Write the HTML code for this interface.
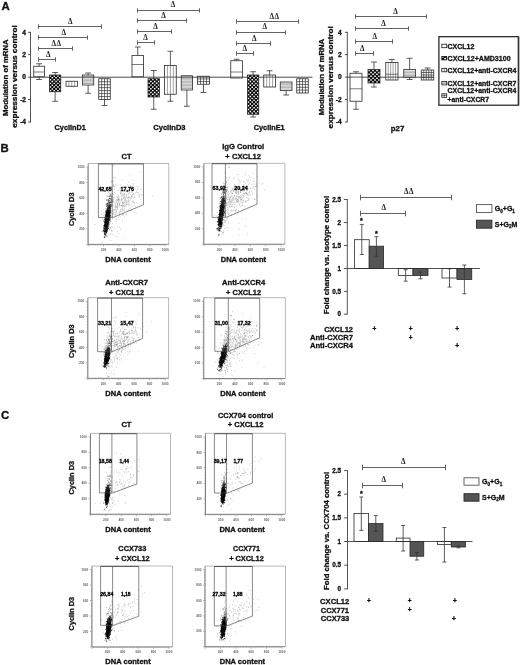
<!DOCTYPE html>
<html><head><meta charset="utf-8"><title>Figure</title>
<style>html,body{margin:0;padding:0;background:#fff}svg{display:block}</style></head>
<body>
<svg width="520" height="665" viewBox="0 0 520 665" font-family="Liberation Sans, sans-serif" font-weight="bold">
<rect width="520" height="665" fill="#fff"/>
<text x="1.60" y="9.90" font-size="11.4" text-anchor="start" fill="#111" stroke="#111" stroke-width="0.3" >A</text>
<text x="0.60" y="151.80" font-size="11.4" text-anchor="start" fill="#111" stroke="#111" stroke-width="0.3" >B</text>
<text x="1.00" y="419.00" font-size="11.4" text-anchor="start" fill="#111" stroke="#111" stroke-width="0.3" >C</text>
<path d="M30.50,31.90L30.50,122.40" stroke="#2a2a2a" stroke-width="0.8" fill="none"/>
<path d="M28.10,32.30L30.50,32.30" stroke="#2a2a2a" stroke-width="0.8" fill="none"/>
<text x="26.00" y="34.65" font-size="6.6" text-anchor="end" fill="#111" stroke="#111" stroke-width="0.3" >4</text>
<path d="M28.10,54.60L30.50,54.60" stroke="#2a2a2a" stroke-width="0.8" fill="none"/>
<text x="26.00" y="56.95" font-size="6.6" text-anchor="end" fill="#111" stroke="#111" stroke-width="0.3" >2</text>
<path d="M28.10,77.10L30.50,77.10" stroke="#2a2a2a" stroke-width="0.8" fill="none"/>
<text x="26.00" y="79.45" font-size="6.6" text-anchor="end" fill="#111" stroke="#111" stroke-width="0.3" >0</text>
<path d="M28.10,99.50L30.50,99.50" stroke="#2a2a2a" stroke-width="0.8" fill="none"/>
<text x="26.00" y="101.85" font-size="6.6" text-anchor="end" fill="#111" stroke="#111" stroke-width="0.3" >-2</text>
<path d="M28.10,122.00L30.50,122.00" stroke="#2a2a2a" stroke-width="0.8" fill="none"/>
<text x="26.00" y="124.35" font-size="6.6" text-anchor="end" fill="#111" stroke="#111" stroke-width="0.3" >-4</text>
<path d="M347.30,31.90L347.30,122.40" stroke="#2a2a2a" stroke-width="0.8" fill="none"/>
<path d="M344.90,32.30L347.30,32.30" stroke="#2a2a2a" stroke-width="0.8" fill="none"/>
<text x="341.60" y="34.65" font-size="6.6" text-anchor="end" fill="#111" stroke="#111" stroke-width="0.3" >4</text>
<path d="M344.90,54.60L347.30,54.60" stroke="#2a2a2a" stroke-width="0.8" fill="none"/>
<text x="341.60" y="56.95" font-size="6.6" text-anchor="end" fill="#111" stroke="#111" stroke-width="0.3" >2</text>
<path d="M344.90,77.10L347.30,77.10" stroke="#2a2a2a" stroke-width="0.8" fill="none"/>
<text x="341.60" y="79.45" font-size="6.6" text-anchor="end" fill="#111" stroke="#111" stroke-width="0.3" >0</text>
<path d="M344.90,99.50L347.30,99.50" stroke="#2a2a2a" stroke-width="0.8" fill="none"/>
<text x="341.60" y="101.85" font-size="6.6" text-anchor="end" fill="#111" stroke="#111" stroke-width="0.3" >-2</text>
<path d="M344.90,122.00L347.30,122.00" stroke="#2a2a2a" stroke-width="0.8" fill="none"/>
<text x="341.60" y="124.35" font-size="6.6" text-anchor="end" fill="#111" stroke="#111" stroke-width="0.3" >-4</text>
<path d="M30.50,77.20L312.50,77.20" stroke="#2a2a2a" stroke-width="0.85" fill="none"/>
<path d="M347.30,77.20L433.00,77.20" stroke="#2a2a2a" stroke-width="0.85" fill="none"/>
<text x="7.70" y="77.70" font-size="7.5" text-anchor="middle" fill="#111" textLength="76.6" lengthAdjust="spacingAndGlyphs" transform="rotate(-90 7.70 77.70)" stroke="#111" stroke-width="0.3" >Modulation of mRNA</text>
<text x="17.10" y="76.50" font-size="7.5" text-anchor="middle" fill="#111" textLength="102.5" lengthAdjust="spacingAndGlyphs" transform="rotate(-90 17.10 76.50)" stroke="#111" stroke-width="0.3" >expression versus control</text>
<text x="324.40" y="77.00" font-size="7.5" text-anchor="middle" fill="#111" textLength="76.4" lengthAdjust="spacingAndGlyphs" transform="rotate(-90 324.40 77.00)" stroke="#111" stroke-width="0.3" >Modulation of mRNA</text>
<text x="333.40" y="77.30" font-size="7.5" text-anchor="middle" fill="#111" textLength="102.2" lengthAdjust="spacingAndGlyphs" transform="rotate(-90 333.40 77.30)" stroke="#111" stroke-width="0.3" >expression versus control</text>
<path d="M39.12,66.25V63.75M36.23,63.75H42.02M39.12,76.75V79.50M36.23,79.50H42.02" stroke="#333" stroke-width="0.8" fill="none"/>
<rect x="33.75" y="66.25" width="10.75" height="10.50" fill="#fff"/>
<path d="M33.75,72.00L44.50,72.00" stroke="#444" stroke-width="0.7" fill="none"/>
<rect x="33.75" y="66.25" width="10.75" height="10.50" fill="none" stroke="#2a2a2a" stroke-width="0.8"/>
<path d="M55.12,75.00V72.50M52.23,72.50H58.02M55.12,91.75V101.25M52.23,101.25H58.02" stroke="#333" stroke-width="0.8" fill="none"/>
<rect x="49.50" y="75.00" width="11.25" height="16.75" fill="#0a0a0a"/>
<path d="M49.71,75.20h1.46v1.45h-1.46zM53.46,75.20h1.46v1.45h-1.46zM57.21,75.20h1.46v1.45h-1.46zM51.58,77.07h1.46v1.45h-1.46zM55.33,77.07h1.46v1.45h-1.46zM59.08,77.07h1.46v1.45h-1.46zM49.71,78.93h1.46v1.45h-1.46zM53.46,78.93h1.46v1.45h-1.46zM57.21,78.93h1.46v1.45h-1.46zM51.58,80.79h1.46v1.45h-1.46zM55.33,80.79h1.46v1.45h-1.46zM59.08,80.79h1.46v1.45h-1.46zM49.71,82.65h1.46v1.45h-1.46zM53.46,82.65h1.46v1.45h-1.46zM57.21,82.65h1.46v1.45h-1.46zM51.58,84.51h1.46v1.45h-1.46zM55.33,84.51h1.46v1.45h-1.46zM59.08,84.51h1.46v1.45h-1.46zM49.71,86.37h1.46v1.45h-1.46zM53.46,86.37h1.46v1.45h-1.46zM57.21,86.37h1.46v1.45h-1.46zM51.58,88.23h1.46v1.45h-1.46zM55.33,88.23h1.46v1.45h-1.46zM59.08,88.23h1.46v1.45h-1.46zM49.71,90.09h1.46v1.45h-1.46zM53.46,90.09h1.46v1.45h-1.46zM57.21,90.09h1.46v1.45h-1.46z" fill="#fff"/>
<rect x="49.50" y="75.00" width="11.25" height="16.75" fill="none" stroke="#2a2a2a" stroke-width="0.8"/>
<rect x="66.00" y="81.25" width="11.50" height="5.00" fill="#fff"/>
<path d="M68.88,81.25V86.25M71.75,81.25V86.25M74.62,81.25V86.25" stroke="#666" stroke-width="0.6" fill="none"/>
<rect x="66.00" y="81.25" width="11.50" height="5.00" fill="none" stroke="#2a2a2a" stroke-width="0.8"/>
<path d="M88.12,75.00V73.00M85.22,73.00H91.03M88.12,85.00V93.25M85.22,93.25H91.03" stroke="#333" stroke-width="0.8" fill="none"/>
<rect x="82.50" y="75.00" width="11.25" height="10.00" fill="#fff"/>
<path d="M82.50,83.55H93.75M82.50,82.10H93.75M82.50,80.65H93.75M82.50,79.20H93.75M82.50,77.75H93.75M82.50,76.30H93.75" stroke="#777" stroke-width="0.6" fill="none"/>
<path d="M82.50,77.10L93.75,77.10" stroke="#333" stroke-width="0.8" fill="none"/>
<rect x="82.50" y="75.00" width="11.25" height="10.00" fill="none" stroke="#2a2a2a" stroke-width="0.8"/>
<path d="M104.50,99.50V105.50M101.60,105.50H107.40" stroke="#333" stroke-width="0.8" fill="none"/>
<rect x="98.75" y="78.75" width="11.50" height="20.75" fill="#fff"/>
<path d="M101.62,78.75V99.50M104.50,78.75V99.50M107.38,78.75V99.50M98.75,81.71H110.25M98.75,84.68H110.25M98.75,87.64H110.25M98.75,90.61H110.25M98.75,93.57H110.25M98.75,96.54H110.25" stroke="#333" stroke-width="0.7" fill="none"/>
<rect x="98.75" y="78.75" width="11.50" height="20.75" fill="none" stroke="#2a2a2a" stroke-width="0.8"/>
<path d="M137.75,55.50V47.00M134.85,47.00H140.65" stroke="#333" stroke-width="0.8" fill="none"/>
<rect x="132.00" y="55.50" width="11.50" height="21.25" fill="#fff"/>
<path d="M132.00,64.50L143.50,64.50" stroke="#444" stroke-width="0.7" fill="none"/>
<rect x="132.00" y="55.50" width="11.50" height="21.25" fill="none" stroke="#2a2a2a" stroke-width="0.8"/>
<path d="M153.75,78.75V70.50M150.85,70.50H156.65M153.75,97.00V109.25M150.85,109.25H156.65" stroke="#333" stroke-width="0.8" fill="none"/>
<rect x="148.00" y="78.75" width="11.50" height="18.25" fill="#0a0a0a"/>
<path d="M148.21,78.95h1.50v1.42h-1.50zM152.04,78.95h1.50v1.42h-1.50zM155.88,78.95h1.50v1.42h-1.50zM150.13,80.78h1.50v1.42h-1.50zM153.96,80.78h1.50v1.42h-1.50zM157.79,80.78h1.50v1.42h-1.50zM148.21,82.60h1.50v1.42h-1.50zM152.04,82.60h1.50v1.42h-1.50zM155.88,82.60h1.50v1.42h-1.50zM150.13,84.43h1.50v1.42h-1.50zM153.96,84.43h1.50v1.42h-1.50zM157.79,84.43h1.50v1.42h-1.50zM148.21,86.25h1.50v1.42h-1.50zM152.04,86.25h1.50v1.42h-1.50zM155.88,86.25h1.50v1.42h-1.50zM150.13,88.08h1.50v1.42h-1.50zM153.96,88.08h1.50v1.42h-1.50zM157.79,88.08h1.50v1.42h-1.50zM148.21,89.90h1.50v1.42h-1.50zM152.04,89.90h1.50v1.42h-1.50zM155.88,89.90h1.50v1.42h-1.50zM150.13,91.73h1.50v1.42h-1.50zM153.96,91.73h1.50v1.42h-1.50zM157.79,91.73h1.50v1.42h-1.50zM148.21,93.55h1.50v1.42h-1.50zM152.04,93.55h1.50v1.42h-1.50zM155.88,93.55h1.50v1.42h-1.50zM150.13,95.38h1.50v1.42h-1.50zM153.96,95.38h1.50v1.42h-1.50zM157.79,95.38h1.50v1.42h-1.50z" fill="#fff"/>
<rect x="148.00" y="78.75" width="11.50" height="18.25" fill="none" stroke="#2a2a2a" stroke-width="0.8"/>
<path d="M170.38,65.50V51.25M167.47,51.25H173.28M170.38,94.25V101.25M167.47,101.25H173.28" stroke="#333" stroke-width="0.8" fill="none"/>
<rect x="164.50" y="65.50" width="11.75" height="28.75" fill="#fff"/>
<path d="M167.44,65.50V94.25M170.38,65.50V94.25M173.31,65.50V94.25" stroke="#666" stroke-width="0.6" fill="none"/>
<path d="M164.50,77.10L176.25,77.10" stroke="#333" stroke-width="0.8" fill="none"/>
<rect x="164.50" y="65.50" width="11.75" height="28.75" fill="none" stroke="#2a2a2a" stroke-width="0.8"/>
<path d="M186.88,90.00V106.25M183.97,106.25H189.78" stroke="#333" stroke-width="0.8" fill="none"/>
<rect x="181.25" y="75.75" width="11.25" height="14.25" fill="#fff"/>
<path d="M181.25,88.55H192.50M181.25,87.10H192.50M181.25,85.65H192.50M181.25,84.20H192.50M181.25,82.75H192.50M181.25,81.30H192.50M181.25,79.85H192.50M181.25,78.40H192.50M181.25,76.95H192.50" stroke="#777" stroke-width="0.6" fill="none"/>
<path d="M181.25,77.10L192.50,77.10" stroke="#333" stroke-width="0.8" fill="none"/>
<rect x="181.25" y="75.75" width="11.25" height="14.25" fill="none" stroke="#2a2a2a" stroke-width="0.8"/>
<path d="M203.50,84.25V92.50M200.60,92.50H206.40" stroke="#333" stroke-width="0.8" fill="none"/>
<rect x="197.50" y="76.25" width="12.00" height="8.00" fill="#fff"/>
<path d="M200.50,76.25V84.25M203.50,76.25V84.25M206.50,76.25V84.25M197.50,78.92H209.50M197.50,81.58H209.50" stroke="#333" stroke-width="0.7" fill="none"/>
<path d="M197.50,77.10L209.50,77.10" stroke="#333" stroke-width="0.8" fill="none"/>
<rect x="197.50" y="76.25" width="12.00" height="8.00" fill="none" stroke="#2a2a2a" stroke-width="0.8"/>
<path d="M236.62,60.75V59.25M233.72,59.25H239.53" stroke="#333" stroke-width="0.8" fill="none"/>
<rect x="230.75" y="60.75" width="11.75" height="17.25" fill="#fff"/>
<path d="M230.75,72.00L242.50,72.00" stroke="#444" stroke-width="0.7" fill="none"/>
<path d="M230.75,77.10L242.50,77.10" stroke="#333" stroke-width="0.8" fill="none"/>
<rect x="230.75" y="60.75" width="11.75" height="17.25" fill="none" stroke="#2a2a2a" stroke-width="0.8"/>
<path d="M253.12,75.00V71.75M250.22,71.75H256.02M253.12,114.25V117.00M250.22,117.00H256.02" stroke="#333" stroke-width="0.8" fill="none"/>
<rect x="247.50" y="75.00" width="11.25" height="39.25" fill="#0a0a0a"/>
<path d="M247.71,75.21h1.46v1.46h-1.46zM251.46,75.21h1.46v1.46h-1.46zM255.21,75.21h1.46v1.46h-1.46zM249.58,77.07h1.46v1.46h-1.46zM253.33,77.07h1.46v1.46h-1.46zM257.08,77.07h1.46v1.46h-1.46zM247.71,78.94h1.46v1.46h-1.46zM251.46,78.94h1.46v1.46h-1.46zM255.21,78.94h1.46v1.46h-1.46zM249.58,80.81h1.46v1.46h-1.46zM253.33,80.81h1.46v1.46h-1.46zM257.08,80.81h1.46v1.46h-1.46zM247.71,82.68h1.46v1.46h-1.46zM251.46,82.68h1.46v1.46h-1.46zM255.21,82.68h1.46v1.46h-1.46zM249.58,84.55h1.46v1.46h-1.46zM253.33,84.55h1.46v1.46h-1.46zM257.08,84.55h1.46v1.46h-1.46zM247.71,86.42h1.46v1.46h-1.46zM251.46,86.42h1.46v1.46h-1.46zM255.21,86.42h1.46v1.46h-1.46zM249.58,88.29h1.46v1.46h-1.46zM253.33,88.29h1.46v1.46h-1.46zM257.08,88.29h1.46v1.46h-1.46zM247.71,90.16h1.46v1.46h-1.46zM251.46,90.16h1.46v1.46h-1.46zM255.21,90.16h1.46v1.46h-1.46zM249.58,92.03h1.46v1.46h-1.46zM253.33,92.03h1.46v1.46h-1.46zM257.08,92.03h1.46v1.46h-1.46zM247.71,93.90h1.46v1.46h-1.46zM251.46,93.90h1.46v1.46h-1.46zM255.21,93.90h1.46v1.46h-1.46zM249.58,95.77h1.46v1.46h-1.46zM253.33,95.77h1.46v1.46h-1.46zM257.08,95.77h1.46v1.46h-1.46zM247.71,97.63h1.46v1.46h-1.46zM251.46,97.63h1.46v1.46h-1.46zM255.21,97.63h1.46v1.46h-1.46zM249.58,99.50h1.46v1.46h-1.46zM253.33,99.50h1.46v1.46h-1.46zM257.08,99.50h1.46v1.46h-1.46zM247.71,101.37h1.46v1.46h-1.46zM251.46,101.37h1.46v1.46h-1.46zM255.21,101.37h1.46v1.46h-1.46zM249.58,103.24h1.46v1.46h-1.46zM253.33,103.24h1.46v1.46h-1.46zM257.08,103.24h1.46v1.46h-1.46zM247.71,105.11h1.46v1.46h-1.46zM251.46,105.11h1.46v1.46h-1.46zM255.21,105.11h1.46v1.46h-1.46zM249.58,106.98h1.46v1.46h-1.46zM253.33,106.98h1.46v1.46h-1.46zM257.08,106.98h1.46v1.46h-1.46zM247.71,108.85h1.46v1.46h-1.46zM251.46,108.85h1.46v1.46h-1.46zM255.21,108.85h1.46v1.46h-1.46zM249.58,110.72h1.46v1.46h-1.46zM253.33,110.72h1.46v1.46h-1.46zM257.08,110.72h1.46v1.46h-1.46zM247.71,112.59h1.46v1.46h-1.46zM251.46,112.59h1.46v1.46h-1.46zM255.21,112.59h1.46v1.46h-1.46z" fill="#fff"/>
<rect x="247.50" y="75.00" width="11.25" height="39.25" fill="none" stroke="#2a2a2a" stroke-width="0.8"/>
<path d="M269.62,75.00V70.75M266.73,70.75H272.52" stroke="#333" stroke-width="0.8" fill="none"/>
<rect x="263.75" y="75.00" width="11.75" height="12.00" fill="#fff"/>
<path d="M266.69,75.00V87.00M269.62,75.00V87.00M272.56,75.00V87.00" stroke="#666" stroke-width="0.6" fill="none"/>
<path d="M263.75,77.10L275.50,77.10" stroke="#333" stroke-width="0.8" fill="none"/>
<rect x="263.75" y="75.00" width="11.75" height="12.00" fill="none" stroke="#2a2a2a" stroke-width="0.8"/>
<path d="M286.12,90.50V95.00M283.23,95.00H289.02" stroke="#333" stroke-width="0.8" fill="none"/>
<rect x="280.25" y="82.00" width="11.75" height="8.50" fill="#fff"/>
<path d="M280.25,89.05H292.00M280.25,87.60H292.00M280.25,86.15H292.00M280.25,84.70H292.00M280.25,83.25H292.00" stroke="#777" stroke-width="0.6" fill="none"/>
<rect x="280.25" y="82.00" width="11.75" height="8.50" fill="none" stroke="#2a2a2a" stroke-width="0.8"/>
<rect x="296.75" y="78.75" width="11.50" height="14.25" fill="#fff"/>
<path d="M299.62,78.75V93.00M302.50,78.75V93.00M305.38,78.75V93.00M296.75,81.60H308.25M296.75,84.45H308.25M296.75,87.30H308.25M296.75,90.15H308.25" stroke="#333" stroke-width="0.7" fill="none"/>
<rect x="296.75" y="78.75" width="11.50" height="14.25" fill="none" stroke="#2a2a2a" stroke-width="0.8"/>
<path d="M356.00,73.25V71.75M353.10,71.75H358.90M356.00,101.25V109.25M353.10,109.25H358.90" stroke="#333" stroke-width="0.8" fill="none"/>
<rect x="350.00" y="73.25" width="12.00" height="28.00" fill="#fff"/>
<path d="M350.00,88.75L362.00,88.75" stroke="#444" stroke-width="0.7" fill="none"/>
<path d="M350.00,77.10L362.00,77.10" stroke="#333" stroke-width="0.8" fill="none"/>
<rect x="350.00" y="73.25" width="12.00" height="28.00" fill="none" stroke="#2a2a2a" stroke-width="0.8"/>
<path d="M374.00,69.50V62.00M371.10,62.00H376.90M374.00,83.00V87.00M371.10,87.00H376.90" stroke="#333" stroke-width="0.8" fill="none"/>
<rect x="368.00" y="69.50" width="12.00" height="13.50" fill="#0a0a0a"/>
<path d="M368.22,69.71h1.56v1.50h-1.56zM372.22,69.71h1.56v1.50h-1.56zM376.22,69.71h1.56v1.50h-1.56zM370.22,71.64h1.56v1.50h-1.56zM374.22,71.64h1.56v1.50h-1.56zM378.22,71.64h1.56v1.50h-1.56zM368.22,73.57h1.56v1.50h-1.56zM372.22,73.57h1.56v1.50h-1.56zM376.22,73.57h1.56v1.50h-1.56zM370.22,75.50h1.56v1.50h-1.56zM374.22,75.50h1.56v1.50h-1.56zM378.22,75.50h1.56v1.50h-1.56zM368.22,77.43h1.56v1.50h-1.56zM372.22,77.43h1.56v1.50h-1.56zM376.22,77.43h1.56v1.50h-1.56zM370.22,79.35h1.56v1.50h-1.56zM374.22,79.35h1.56v1.50h-1.56zM378.22,79.35h1.56v1.50h-1.56zM368.22,81.28h1.56v1.50h-1.56zM372.22,81.28h1.56v1.50h-1.56zM376.22,81.28h1.56v1.50h-1.56z" fill="#fff"/>
<rect x="368.00" y="69.50" width="12.00" height="13.50" fill="none" stroke="#2a2a2a" stroke-width="0.8"/>
<path d="M391.88,62.50V59.50M388.98,59.50H394.77" stroke="#333" stroke-width="0.8" fill="none"/>
<rect x="385.75" y="62.50" width="12.25" height="17.50" fill="#fff"/>
<path d="M388.20,62.50V80.00M390.65,62.50V80.00M393.10,62.50V80.00M395.55,62.50V80.00" stroke="#666" stroke-width="0.6" fill="none"/>
<path d="M385.75,74.25L398.00,74.25" stroke="#444" stroke-width="0.7" fill="none"/>
<path d="M385.75,77.10L398.00,77.10" stroke="#333" stroke-width="0.8" fill="none"/>
<rect x="385.75" y="62.50" width="12.25" height="17.50" fill="none" stroke="#2a2a2a" stroke-width="0.8"/>
<path d="M409.62,69.50V58.25M406.73,58.25H412.52M409.62,77.00V79.50M406.73,79.50H412.52" stroke="#333" stroke-width="0.8" fill="none"/>
<rect x="403.75" y="69.50" width="11.75" height="7.50" fill="#fff"/>
<path d="M403.75,75.55H415.50M403.75,74.10H415.50M403.75,72.65H415.50M403.75,71.20H415.50" stroke="#777" stroke-width="0.6" fill="none"/>
<rect x="403.75" y="69.50" width="11.75" height="7.50" fill="none" stroke="#2a2a2a" stroke-width="0.8"/>
<path d="M427.50,70.00V68.00M424.60,68.00H430.40" stroke="#333" stroke-width="0.8" fill="none"/>
<rect x="421.25" y="70.00" width="12.50" height="10.00" fill="#fff"/>
<path d="M423.75,70.00V80.00M426.25,70.00V80.00M428.75,70.00V80.00M431.25,70.00V80.00M421.25,72.50H433.75M421.25,75.00H433.75M421.25,77.50H433.75" stroke="#333" stroke-width="0.7" fill="none"/>
<path d="M421.25,77.10L433.75,77.10" stroke="#333" stroke-width="0.8" fill="none"/>
<rect x="421.25" y="70.00" width="12.50" height="10.00" fill="none" stroke="#2a2a2a" stroke-width="0.8"/>
<path d="M38.50,24.30V28.70M38.50,26.50H101.50M101.50,24.30V28.70" stroke="#505050" stroke-width="0.9" fill="none"/>
<text x="70.50" y="23.60" font-size="7.2" text-anchor="middle" fill="#222" font-family="Liberation Serif, serif" font-weight="bold" letter-spacing="0.6">Δ</text>
<path d="M38.50,35.30V39.70M38.50,37.50H87.50M87.50,35.30V39.70" stroke="#505050" stroke-width="0.9" fill="none"/>
<text x="64.00" y="34.80" font-size="7.2" text-anchor="middle" fill="#222" font-family="Liberation Serif, serif" font-weight="bold" letter-spacing="0.6">Δ</text>
<path d="M38.50,46.30V50.70M38.50,48.50H72.50M72.50,46.30V50.70" stroke="#505050" stroke-width="0.9" fill="none"/>
<text x="56.50" y="45.70" font-size="7.2" text-anchor="middle" fill="#222" font-family="Liberation Serif, serif" font-weight="bold" letter-spacing="0.6">ΔΔ</text>
<path d="M38.50,57.30V61.70M38.50,59.50H55.50M55.50,57.30V61.70" stroke="#505050" stroke-width="0.9" fill="none"/>
<text x="48.50" y="56.50" font-size="7.2" text-anchor="middle" fill="#222" font-family="Liberation Serif, serif" font-weight="bold" letter-spacing="0.6">Δ</text>
<path d="M137.50,8.30V12.70M137.50,10.50H199.50M199.50,8.30V12.70" stroke="#505050" stroke-width="0.9" fill="none"/>
<text x="173.25" y="7.30" font-size="7.2" text-anchor="middle" fill="#222" font-family="Liberation Serif, serif" font-weight="bold" letter-spacing="0.6">Δ</text>
<path d="M137.50,18.30V22.70M137.50,20.50H186.50M186.50,18.30V22.70" stroke="#505050" stroke-width="0.9" fill="none"/>
<text x="163.75" y="17.80" font-size="7.2" text-anchor="middle" fill="#222" font-family="Liberation Serif, serif" font-weight="bold" letter-spacing="0.6">Δ</text>
<path d="M137.50,29.30V33.70M137.50,31.50H171.50M171.50,29.30V33.70" stroke="#505050" stroke-width="0.9" fill="none"/>
<text x="155.75" y="29.05" font-size="7.2" text-anchor="middle" fill="#222" font-family="Liberation Serif, serif" font-weight="bold" letter-spacing="0.6">Δ</text>
<path d="M137.50,40.30V44.70M137.50,42.50H154.50M154.50,40.30V44.70" stroke="#505050" stroke-width="0.9" fill="none"/>
<text x="145.75" y="40.05" font-size="7.2" text-anchor="middle" fill="#222" font-family="Liberation Serif, serif" font-weight="bold" letter-spacing="0.6">Δ</text>
<path d="M236.50,19.30V23.70M236.50,21.50H298.50M298.50,19.30V23.70" stroke="#505050" stroke-width="0.9" fill="none"/>
<text x="274.50" y="19.05" font-size="7.2" text-anchor="middle" fill="#222" font-family="Liberation Serif, serif" font-weight="bold" letter-spacing="0.6">ΔΔ</text>
<path d="M236.50,30.30V34.70M236.50,32.50H285.50M285.50,30.30V34.70" stroke="#505050" stroke-width="0.9" fill="none"/>
<text x="265.00" y="29.30" font-size="7.2" text-anchor="middle" fill="#222" font-family="Liberation Serif, serif" font-weight="bold" letter-spacing="0.6">Δ</text>
<path d="M236.50,41.30V45.70M236.50,43.50H270.50M270.50,41.30V45.70" stroke="#505050" stroke-width="0.9" fill="none"/>
<text x="254.50" y="40.55" font-size="7.2" text-anchor="middle" fill="#222" font-family="Liberation Serif, serif" font-weight="bold" letter-spacing="0.6">Δ</text>
<path d="M236.50,51.30V55.70M236.50,53.50H253.50M253.50,51.30V55.70" stroke="#505050" stroke-width="0.9" fill="none"/>
<text x="245.00" y="51.05" font-size="7.2" text-anchor="middle" fill="#222" font-family="Liberation Serif, serif" font-weight="bold" letter-spacing="0.6">Δ</text>
<path d="M355.50,14.30V18.70M355.50,16.50H426.50M426.50,14.30V18.70" stroke="#505050" stroke-width="0.9" fill="none"/>
<text x="395.75" y="13.55" font-size="7.2" text-anchor="middle" fill="#222" font-family="Liberation Serif, serif" font-weight="bold" letter-spacing="0.6">Δ</text>
<path d="M355.50,26.30V30.70M355.50,28.50H408.50M408.50,26.30V30.70" stroke="#505050" stroke-width="0.9" fill="none"/>
<text x="383.75" y="26.05" font-size="7.2" text-anchor="middle" fill="#222" font-family="Liberation Serif, serif" font-weight="bold" letter-spacing="0.6">Δ</text>
<path d="M355.50,39.30V43.70M355.50,41.50H392.50M392.50,39.30V43.70" stroke="#505050" stroke-width="0.9" fill="none"/>
<text x="375.00" y="38.55" font-size="7.2" text-anchor="middle" fill="#222" font-family="Liberation Serif, serif" font-weight="bold" letter-spacing="0.6">Δ</text>
<path d="M355.50,51.30V55.70M355.50,53.50H373.50M373.50,51.30V55.70" stroke="#505050" stroke-width="0.9" fill="none"/>
<text x="362.50" y="51.05" font-size="7.2" text-anchor="middle" fill="#222" font-family="Liberation Serif, serif" font-weight="bold" letter-spacing="0.6">Δ</text>
<text x="70.20" y="129.60" font-size="7.2" text-anchor="middle" fill="#111" textLength="31.2" lengthAdjust="spacingAndGlyphs" stroke="#111" stroke-width="0.3" >CyclinD1</text>
<text x="169.40" y="129.60" font-size="7.2" text-anchor="middle" fill="#111" textLength="32.3" lengthAdjust="spacingAndGlyphs" stroke="#111" stroke-width="0.3" >CyclinD3</text>
<text x="269.20" y="129.60" font-size="7.2" text-anchor="middle" fill="#111" textLength="30.8" lengthAdjust="spacingAndGlyphs" stroke="#111" stroke-width="0.3" >CyclinE1</text>
<text x="397.60" y="130.90" font-size="7.7" text-anchor="middle" fill="#111" textLength="13.6" lengthAdjust="spacingAndGlyphs" stroke="#111" stroke-width="0.3" >p27</text>
<rect x="519" y="36.5" width="1" height="69" fill="#bbb"/>
<rect x="438.9" y="36.7" width="79.4" height="68.5" fill="#fff" stroke="#1a1a1a" stroke-width="1.2"/>
<rect x="441.8" y="44.20" width="4.9" height="3.5" fill="#fff"/>
<rect x="441.8" y="44.20" width="4.9" height="3.5" fill="none" stroke="#1a1a1a" stroke-width="0.8"/>
<text x="447.60" y="48.90" font-size="7" text-anchor="start" fill="#111" textLength="26.7" lengthAdjust="spacingAndGlyphs" stroke="#111" stroke-width="0.3" >CXCL12</text>
<rect x="441.8" y="56.40" width="4.9" height="3.5" fill="#111"/>
<path d="M444.30,58.10h1.9v1.5h-1.9zM442.30,56.80h1.2v0.9h-1.2z" fill="#fff"/>
<rect x="441.8" y="56.40" width="4.9" height="3.5" fill="none" stroke="#1a1a1a" stroke-width="0.8"/>
<text x="447.60" y="61.10" font-size="7" text-anchor="start" fill="#111" textLength="63" lengthAdjust="spacingAndGlyphs" stroke="#111" stroke-width="0.3" >CXCL12+AMD3100</text>
<rect x="441.8" y="68.30" width="4.9" height="3.5" fill="#fff"/>
<path d="M444.25,68.30v3.5" stroke="#444" stroke-width="0.7" fill="none"/>
<rect x="441.8" y="68.30" width="4.9" height="3.5" fill="none" stroke="#1a1a1a" stroke-width="0.8"/>
<text x="447.60" y="73.00" font-size="7" text-anchor="start" fill="#111" textLength="68.7" lengthAdjust="spacingAndGlyphs" stroke="#111" stroke-width="0.3" >CXCL12+anti-CXCR4</text>
<rect x="441.8" y="81.40" width="4.9" height="3.5" fill="#fff"/>
<path d="M441.80,83.15h4.9" stroke="#444" stroke-width="0.7" fill="none"/>
<rect x="441.8" y="81.40" width="4.9" height="3.5" fill="none" stroke="#1a1a1a" stroke-width="0.8"/>
<text x="447.60" y="86.10" font-size="7" text-anchor="start" fill="#111" textLength="68.7" lengthAdjust="spacingAndGlyphs" stroke="#111" stroke-width="0.3" >CXCL12+anti-CXCR7</text>
<rect x="441.8" y="93.80" width="4.9" height="3.5" fill="#fff"/>
<path d="M444.25,93.80v3.5M441.80,95.55h4.9" stroke="#444" stroke-width="0.7" fill="none"/>
<rect x="441.8" y="93.80" width="4.9" height="3.5" fill="none" stroke="#1a1a1a" stroke-width="0.8"/>
<text x="447.60" y="93.40" font-size="7" text-anchor="start" fill="#111" textLength="68.7" lengthAdjust="spacingAndGlyphs" stroke="#111" stroke-width="0.3" >CXCL12+anti-CXCR4</text>
<text x="447.60" y="101.60" font-size="7" text-anchor="start" fill="#111" textLength="41.4" lengthAdjust="spacingAndGlyphs" stroke="#111" stroke-width="0.3" >+anti-CXCR7</text>
<path d="M88.20,163.50H168.80V244.40" stroke="#8a8a8a" stroke-width="0.6" fill="none"/>
<path d="M88.20,163.50V244.40H168.80" stroke="#555" stroke-width="0.7" fill="none"/>
<path d="M86.20,244.40H88.20M87.20,242.85H88.20M87.20,241.31H88.20M87.20,239.76H88.20M87.20,238.22H88.20M87.20,236.67H88.20M87.20,235.13H88.20M87.20,233.58H88.20M87.20,232.04H88.20M87.20,230.49H88.20M86.20,228.95H88.20M87.20,227.40H88.20M87.20,225.86H88.20M87.20,224.31H88.20M87.20,222.77H88.20M87.20,221.22H88.20M87.20,219.68H88.20M87.20,218.13H88.20M87.20,216.59H88.20M87.20,215.04H88.20M86.20,213.50H88.20M87.20,211.95H88.20M87.20,210.41H88.20M87.20,208.86H88.20M87.20,207.32H88.20M87.20,205.77H88.20M87.20,204.23H88.20M87.20,202.68H88.20M87.20,201.13H88.20M87.20,199.59H88.20M86.20,198.04H88.20M87.20,196.50H88.20M87.20,194.95H88.20M87.20,193.41H88.20M87.20,191.86H88.20M87.20,190.32H88.20M87.20,188.77H88.20M87.20,187.23H88.20M87.20,185.68H88.20M87.20,184.14H88.20M86.20,182.59H88.20M87.20,181.05H88.20M87.20,179.50H88.20M87.20,177.96H88.20M87.20,176.41H88.20M87.20,174.87H88.20M87.20,173.32H88.20M87.20,171.78H88.20M87.20,170.23H88.20M87.20,168.69H88.20M86.20,167.14H88.20M88.20,244.40V246.40M89.74,244.40V245.40M91.28,244.40V245.40M92.82,244.40V245.40M94.36,244.40V245.40M95.90,244.40V245.40M97.44,244.40V245.40M98.98,244.40V245.40M100.52,244.40V245.40M102.06,244.40V245.40M103.59,244.40V246.40M105.13,244.40V245.40M106.67,244.40V245.40M108.21,244.40V245.40M109.75,244.40V245.40M111.29,244.40V245.40M112.83,244.40V245.40M114.37,244.40V245.40M115.91,244.40V245.40M117.45,244.40V245.40M118.99,244.40V246.40M120.53,244.40V245.40M122.07,244.40V245.40M123.61,244.40V245.40M125.15,244.40V245.40M126.69,244.40V245.40M128.23,244.40V245.40M129.77,244.40V245.40M131.30,244.40V245.40M132.84,244.40V245.40M134.38,244.40V246.40M135.92,244.40V245.40M137.46,244.40V245.40M139.00,244.40V245.40M140.54,244.40V245.40M142.08,244.40V245.40M143.62,244.40V245.40M145.16,244.40V245.40M146.70,244.40V245.40M148.24,244.40V245.40M149.78,244.40V246.40M151.32,244.40V245.40M152.86,244.40V245.40M154.40,244.40V245.40M155.94,244.40V245.40M157.48,244.40V245.40M159.02,244.40V245.40M160.55,244.40V245.40M162.09,244.40V245.40M163.63,244.40V245.40M165.17,244.40V246.40" stroke="#555" stroke-width="0.45" fill="none"/>
<text x="84.60" y="230.05" font-size="3.2" text-anchor="end" fill="#666" >200</text>
<text x="103.59" y="250.70" font-size="3.2" text-anchor="middle" fill="#666" >200</text>
<text x="84.60" y="214.60" font-size="3.2" text-anchor="end" fill="#666" >400</text>
<text x="118.99" y="250.70" font-size="3.2" text-anchor="middle" fill="#666" >400</text>
<text x="84.60" y="199.14" font-size="3.2" text-anchor="end" fill="#666" >600</text>
<text x="134.38" y="250.70" font-size="3.2" text-anchor="middle" fill="#666" >600</text>
<text x="84.60" y="183.69" font-size="3.2" text-anchor="end" fill="#666" >800</text>
<text x="149.78" y="250.70" font-size="3.2" text-anchor="middle" fill="#666" >800</text>
<text x="84.60" y="168.24" font-size="3.2" text-anchor="end" fill="#666" >1000</text>
<text x="165.17" y="250.70" font-size="3.2" text-anchor="middle" fill="#666" >1000</text>
<path d="M107.2,220.7h0.8M106.4,220.4h0.8M105.8,225.2h0.8M108.4,211.5h0.8M108.2,212.0h0.8M107.5,216.3h0.8M106.2,230.3h0.8M107.9,215.6h0.8M103.6,230.1h0.8M105.6,224.8h0.8M107.2,216.9h0.8M106.8,215.3h0.8M107.6,216.9h0.8M108.0,223.6h0.8M108.7,215.3h0.8M105.6,223.0h0.8M106.5,221.2h0.8M107.8,214.7h0.8M105.6,221.8h0.8M107.7,222.6h0.8M106.4,224.4h0.8M105.9,215.8h0.8M108.3,218.8h0.8M104.7,232.4h0.8M106.0,219.5h0.8M107.4,215.6h0.8M106.4,228.9h0.8M108.5,214.6h0.8M108.7,209.3h0.8M105.8,217.9h0.8M106.9,214.7h0.8M105.3,221.8h0.8M105.5,225.4h0.8M106.2,210.0h0.8M105.8,228.8h0.8M108.9,209.3h0.8M102.6,231.4h0.8M106.6,216.4h0.8M106.8,226.6h0.8M108.2,211.5h0.8M107.6,217.3h0.8M109.1,208.3h0.8M108.0,215.5h0.8M106.7,229.7h0.8M108.4,212.6h0.8M104.4,232.1h0.8M106.0,213.0h0.8M107.8,220.3h0.8M107.3,228.0h0.8M107.3,215.2h0.8M107.9,216.8h0.8M108.2,218.3h0.8M105.9,223.3h0.8M108.0,211.9h0.8M107.0,225.0h0.8M107.9,209.0h0.8M105.5,228.2h0.8M106.5,219.9h0.8M107.3,209.3h0.8M106.9,210.3h0.8M106.8,224.3h0.8M108.9,211.4h0.8M107.4,216.6h0.8M107.7,218.0h0.8M107.1,220.1h0.8M107.5,215.1h0.8M108.3,213.9h0.8M109.2,205.4h0.8M106.2,221.8h0.8M107.9,219.1h0.8M107.0,221.2h0.8M106.2,206.2h0.8M106.1,226.5h0.8M107.6,216.3h0.8M107.2,221.9h0.8M106.7,217.0h0.8M109.7,202.6h0.8M106.3,222.6h0.8M106.7,220.4h0.8M103.8,237.2h0.8M106.8,212.0h0.8M107.8,219.5h0.8M109.3,213.4h0.8M105.0,230.3h0.8M107.2,221.3h0.8M105.4,211.2h0.8M106.6,211.4h0.8M106.1,214.1h0.8M108.3,217.9h0.8M107.0,220.0h0.8M107.9,213.6h0.8M108.4,219.7h0.8M107.7,211.8h0.8M108.5,200.3h0.8M107.6,212.7h0.8M107.8,218.1h0.8M107.8,217.5h0.8M104.0,229.0h0.8M106.6,214.6h0.8M104.5,225.6h0.8M108.9,210.5h0.8M107.4,208.9h0.8M105.8,218.8h0.8M109.3,214.0h0.8M107.6,225.1h0.8M107.7,212.2h0.8M106.4,232.4h0.8M106.3,219.5h0.8M107.7,216.3h0.8M107.4,208.7h0.8M109.5,211.5h0.8M108.2,209.1h0.8M107.2,224.1h0.8M107.2,218.2h0.8M108.1,209.3h0.8M104.3,234.3h0.8M106.0,231.5h0.8M106.7,216.7h0.8M107.8,219.1h0.8M108.3,218.6h0.8M107.9,219.5h0.8M110.0,209.1h0.8M107.2,223.6h0.8M104.1,231.4h0.8M106.1,232.3h0.8M105.7,227.2h0.8M106.7,220.2h0.8M106.6,222.9h0.8M108.7,206.9h0.8M108.5,215.5h0.8M105.5,220.1h0.8M107.5,222.8h0.8M104.8,229.9h0.8M108.7,212.3h0.8M107.8,219.0h0.8M105.9,217.6h0.8M104.8,229.4h0.8M107.3,212.6h0.8M105.3,224.9h0.8M105.4,229.2h0.8M106.2,226.9h0.8M105.0,234.9h0.8M104.4,223.0h0.8M107.4,214.0h0.8M103.9,233.8h0.8M106.8,216.9h0.8M108.4,213.8h0.8M107.9,214.5h0.8M108.9,210.0h0.8M105.3,215.6h0.8M109.1,213.1h0.8M106.2,220.9h0.8M107.1,205.6h0.8M109.8,216.1h0.8M106.7,225.3h0.8M108.7,206.2h0.8M108.4,215.3h0.8M106.0,225.0h0.8M108.1,217.1h0.8M106.7,219.1h0.8M105.6,225.7h0.8M107.9,212.9h0.8M105.3,224.5h0.8M110.7,201.1h0.8M105.0,214.3h0.8M108.0,214.8h0.8M109.0,207.6h0.8M107.4,219.5h0.8M106.1,232.2h0.8M106.6,216.6h0.8M110.0,210.3h0.8M104.9,228.3h0.8M107.4,217.0h0.8M105.6,221.5h0.8M110.0,204.8h0.8M104.5,226.8h0.8M109.6,207.6h0.8M109.5,206.8h0.8M106.4,224.8h0.8M104.1,233.4h0.8M107.4,219.4h0.8M106.1,223.8h0.8M107.8,215.9h0.8M107.8,214.7h0.8M107.4,221.2h0.8M106.2,218.5h0.8M106.3,223.1h0.8M107.0,219.7h0.8M107.1,219.0h0.8M105.6,219.6h0.8M108.4,216.2h0.8M107.2,216.0h0.8M106.4,215.8h0.8M105.2,231.7h0.8M106.8,225.3h0.8M103.3,225.9h0.8M107.5,226.1h0.8M105.2,221.3h0.8M106.7,224.1h0.8M107.6,215.6h0.8M109.1,209.0h0.8M107.5,219.2h0.8M109.5,207.9h0.8M106.9,211.9h0.8M107.5,220.0h0.8M107.7,221.1h0.8M108.4,215.0h0.8M109.3,220.7h0.8M107.9,210.5h0.8M109.6,218.7h0.8M107.5,221.4h0.8M107.9,212.3h0.8M106.0,226.8h0.8M108.4,216.7h0.8M107.7,213.7h0.8M108.3,213.3h0.8M107.2,217.5h0.8M107.4,220.7h0.8M105.3,225.9h0.8M105.5,218.7h0.8M104.5,221.6h0.8M106.9,223.6h0.8M107.4,215.1h0.8M105.3,220.3h0.8M109.2,206.7h0.8M107.1,211.4h0.8M105.0,219.9h0.8M108.6,213.8h0.8M105.1,231.7h0.8M105.8,214.4h0.8M104.1,231.1h0.8M105.0,223.0h0.8M107.2,218.7h0.8M108.3,214.8h0.8M109.6,209.0h0.8M105.2,227.7h0.8M104.9,225.9h0.8M106.9,219.5h0.8M105.9,215.4h0.8M105.7,227.3h0.8M106.5,220.2h0.8M106.1,219.2h0.8M108.0,214.3h0.8M106.2,219.4h0.8M104.1,219.7h0.8M106.0,225.5h0.8M105.7,229.1h0.8M105.7,217.7h0.8M106.4,220.6h0.8M108.0,215.9h0.8M106.1,219.0h0.8M106.7,219.9h0.8M108.0,214.0h0.8M104.9,223.6h0.8M105.9,221.3h0.8M105.8,226.4h0.8M106.6,222.2h0.8M107.0,215.3h0.8M108.9,203.2h0.8M108.1,211.5h0.8M105.7,211.1h0.8M106.5,224.0h0.8M109.8,215.2h0.8M108.5,216.9h0.8M108.6,213.9h0.8M107.3,215.5h0.8M106.4,215.3h0.8M107.1,210.8h0.8M109.3,217.5h0.8M106.8,220.4h0.8M108.1,211.1h0.8M106.4,224.4h0.8M108.2,215.1h0.8M107.9,224.4h0.8M108.6,207.7h0.8M106.8,217.1h0.8M107.6,209.3h0.8M107.1,214.3h0.8M107.0,223.7h0.8M108.2,209.9h0.8M107.1,223.6h0.8M107.2,219.3h0.8M109.5,208.8h0.8M108.7,222.7h0.8M107.7,219.0h0.8M106.3,223.3h0.8M107.0,231.0h0.8M107.1,209.6h0.8M103.9,228.8h0.8M107.6,210.9h0.8M106.6,219.3h0.8M105.8,219.6h0.8M105.6,218.6h0.8M107.2,219.4h0.8M107.2,215.7h0.8M106.2,225.0h0.8M108.0,222.4h0.8M107.6,213.7h0.8M105.8,222.0h0.8M105.7,225.2h0.8M107.7,217.0h0.8M109.6,215.4h0.8M106.3,223.7h0.8M107.8,199.8h0.8M106.6,222.5h0.8M107.5,217.9h0.8M107.1,220.6h0.8M107.8,218.7h0.8M104.2,231.5h0.8M105.9,218.8h0.8M106.6,226.0h0.8M107.0,223.4h0.8M108.0,213.9h0.8M107.3,215.5h0.8M105.6,228.4h0.8M106.9,215.8h0.8M107.6,219.7h0.8M106.7,224.9h0.8M108.2,206.3h0.8M106.9,217.9h0.8M108.8,208.6h0.8M107.1,212.8h0.8M106.9,219.0h0.8M106.7,231.1h0.8M106.1,212.6h0.8M107.5,213.9h0.8M107.7,216.0h0.8M105.3,229.0h0.8M107.8,208.8h0.8M104.6,225.6h0.8M106.1,227.2h0.8M109.0,207.6h0.8M109.4,217.6h0.8M105.8,222.3h0.8M108.0,215.4h0.8M104.8,225.6h0.8M107.5,217.0h0.8M105.5,227.7h0.8M106.9,222.6h0.8M106.8,219.7h0.8M107.7,221.5h0.8M107.9,209.5h0.8M107.0,213.1h0.8M107.8,218.5h0.8M108.0,208.7h0.8M107.1,219.5h0.8M105.5,229.0h0.8M106.7,223.5h0.8M103.9,226.3h0.8M107.2,218.7h0.8M107.3,222.7h0.8M106.1,220.7h0.8M105.9,215.5h0.8M106.3,223.5h0.8M107.6,213.2h0.8M106.6,216.8h0.8M108.9,217.1h0.8M108.6,223.9h0.8M106.3,223.3h0.8M108.1,217.9h0.8M103.7,227.0h0.8M108.3,215.0h0.8M110.2,215.1h0.8M107.4,217.6h0.8M108.2,212.7h0.8M107.3,207.5h0.8M103.2,221.0h0.8M107.4,213.4h0.8M110.0,213.0h0.8M106.7,218.9h0.8M105.6,222.2h0.8M107.0,223.3h0.8M107.1,218.7h0.8M107.7,220.2h0.8M107.3,215.6h0.8M107.4,214.4h0.8M107.3,226.9h0.8M106.5,215.7h0.8M108.3,211.7h0.8M107.0,229.7h0.8M108.2,216.8h0.8M107.0,217.6h0.8M106.4,229.5h0.8M106.7,218.7h0.8M107.4,216.6h0.8M107.2,214.3h0.8M104.8,218.9h0.8M107.2,221.9h0.8M107.9,209.9h0.8M108.4,220.0h0.8M107.4,221.2h0.8M108.6,207.6h0.8M107.4,210.6h0.8M107.1,217.5h0.8M108.2,218.3h0.8M108.6,202.7h0.8M106.9,222.9h0.8M106.4,226.1h0.8M107.2,215.0h0.8M105.9,215.1h0.8M106.2,213.6h0.8M105.7,223.5h0.8M107.4,221.7h0.8M106.6,218.3h0.8M109.0,215.5h0.8M107.3,218.9h0.8M108.4,210.6h0.8M108.2,227.9h0.8M107.1,203.8h0.8M107.3,219.2h0.8M108.5,212.5h0.8M105.6,220.6h0.8M108.1,218.4h0.8M104.9,226.1h0.8M105.0,218.8h0.8M106.3,220.6h0.8M106.7,215.8h0.8M105.7,224.8h0.8M106.2,219.2h0.8M107.7,218.9h0.8M109.8,211.2h0.8M105.8,224.1h0.8M106.4,235.9h0.8M106.2,223.8h0.8M106.1,215.2h0.8M107.4,215.8h0.8M105.5,231.3h0.8M106.3,210.6h0.8M107.9,213.5h0.8M107.8,215.8h0.8M108.0,210.1h0.8M107.4,213.0h0.8M106.8,213.9h0.8M108.6,219.9h0.8M107.2,215.9h0.8M105.1,226.5h0.8M108.1,217.8h0.8M107.9,216.1h0.8M108.2,219.4h0.8M106.0,221.5h0.8M107.9,213.0h0.8M106.1,220.7h0.8M107.3,220.7h0.8M106.1,216.4h0.8M107.5,216.1h0.8M106.8,225.8h0.8M106.3,220.8h0.8M109.0,213.8h0.8M106.7,223.6h0.8M108.4,225.2h0.8M107.7,222.4h0.8M107.1,223.4h0.8M106.6,203.6h0.8M107.0,221.9h0.8M106.2,219.5h0.8M109.1,204.4h0.8M106.2,230.1h0.8M106.4,230.7h0.8M106.5,222.8h0.8M108.3,210.5h0.8M103.9,228.0h0.8M108.8,211.1h0.8M107.0,224.5h0.8M108.1,215.7h0.8M104.5,234.1h0.8M108.5,213.0h0.8M105.4,212.6h0.8M107.6,217.9h0.8M108.5,201.6h0.8M106.7,221.1h0.8M107.4,212.9h0.8M107.3,211.1h0.8M106.7,217.1h0.8M106.4,217.8h0.8M106.5,229.8h0.8M106.7,216.8h0.8M108.1,217.7h0.8M105.9,225.5h0.8M108.0,215.4h0.8M104.5,220.9h0.8M108.5,210.6h0.8M106.7,218.8h0.8M106.8,217.1h0.8M105.2,225.7h0.8M105.8,222.9h0.8M106.5,226.8h0.8M106.3,227.8h0.8M106.3,225.8h0.8M108.5,209.7h0.8M106.3,223.9h0.8M105.4,217.7h0.8M106.5,223.0h0.8M106.6,222.1h0.8M108.4,214.1h0.8M108.4,212.9h0.8M106.7,220.9h0.8M106.4,220.7h0.8M105.1,219.9h0.8M106.6,221.2h0.8M106.0,225.5h0.8M107.3,215.4h0.8M106.4,204.6h0.8M104.9,220.1h0.8M110.5,212.7h0.8M104.7,235.8h0.8M107.2,215.4h0.8M105.3,214.9h0.8M108.1,213.2h0.8M106.4,218.7h0.8M107.1,214.6h0.8M106.7,217.3h0.8M104.7,234.0h0.8M107.9,217.7h0.8M106.1,224.8h0.8M107.7,214.8h0.8M110.1,210.8h0.8M104.2,224.8h0.8M109.3,213.4h0.8M108.6,212.8h0.8M105.6,223.0h0.8M106.9,212.8h0.8M104.2,231.0h0.8M111.3,202.4h0.8M105.6,223.4h0.8M106.4,217.3h0.8M108.1,210.1h0.8M107.2,226.4h0.8M106.6,222.9h0.8M106.6,219.0h0.8M106.6,216.6h0.8M103.0,231.0h0.8M105.0,227.3h0.8M107.0,219.1h0.8M107.6,215.2h0.8M105.5,224.2h0.8M104.7,233.2h0.8M107.9,215.7h0.8M106.7,219.7h0.8M107.9,212.6h0.8M108.2,214.0h0.8M108.5,217.7h0.8M106.0,222.7h0.8M105.4,224.3h0.8M110.2,208.7h0.8M107.5,218.9h0.8M108.9,211.1h0.8M106.9,210.6h0.8M106.8,223.3h0.8M108.4,209.3h0.8M105.8,224.7h0.8M105.5,223.2h0.8M107.8,208.7h0.8M109.1,219.1h0.8M108.4,211.0h0.8M106.8,223.1h0.8M109.1,208.1h0.8M108.3,210.4h0.8M107.3,215.4h0.8M108.7,216.2h0.8M105.5,228.6h0.8M106.6,217.2h0.8M107.4,221.1h0.8M109.5,205.5h0.8M105.7,216.5h0.8M108.9,206.0h0.8M105.8,219.0h0.8M105.8,219.2h0.8M107.5,218.5h0.8M107.3,218.8h0.8M107.5,224.9h0.8M104.5,223.1h0.8M106.0,220.1h0.8M105.6,225.7h0.8M106.1,216.8h0.8M108.2,220.1h0.8M107.5,214.3h0.8M107.0,218.0h0.8M107.6,219.3h0.8M104.5,219.2h0.8M106.1,218.9h0.8M107.0,214.5h0.8M109.3,218.2h0.8M104.8,225.8h0.8M103.2,228.1h0.8M105.5,231.6h0.8M104.5,223.0h0.8M106.1,229.0h0.8M105.8,224.1h0.8M108.6,216.9h0.8M109.9,206.0h0.8M107.3,218.0h0.8M110.1,207.0h0.8M107.1,221.1h0.8M107.3,217.0h0.8M105.2,222.1h0.8M104.9,222.3h0.8M108.7,210.8h0.8M107.2,227.2h0.8M105.9,212.6h0.8M109.5,206.6h0.8M107.7,204.9h0.8M107.9,215.4h0.8M107.3,217.6h0.8M106.5,211.6h0.8M104.4,227.1h0.8M105.8,222.6h0.8M107.6,216.5h0.8M106.3,218.6h0.8M107.5,222.0h0.8M107.8,213.8h0.8M108.2,221.3h0.8M107.0,223.0h0.8M107.8,211.1h0.8M106.6,213.2h0.8M108.1,212.1h0.8M106.1,229.7h0.8M107.4,225.1h0.8M106.1,223.5h0.8M106.9,217.0h0.8M106.7,217.1h0.8M107.6,214.4h0.8M104.4,217.1h0.8M108.1,211.1h0.8M105.3,230.9h0.8M108.5,215.9h0.8M107.4,226.4h0.8M109.2,220.3h0.8M107.5,220.0h0.8M105.5,221.2h0.8M108.9,211.7h0.8M109.3,208.7h0.8M104.8,222.5h0.8M105.7,223.2h0.8M106.7,224.5h0.8M107.0,216.7h0.8M107.0,217.7h0.8M107.9,217.6h0.8M107.2,212.4h0.8M106.9,229.3h0.8M108.2,218.3h0.8M105.0,229.9h0.8M105.6,218.5h0.8M107.2,222.5h0.8M109.6,211.9h0.8M104.7,224.5h0.8M108.4,215.6h0.8M105.9,217.4h0.8M108.5,213.8h0.8M107.0,215.1h0.8M108.0,217.0h0.8M104.6,222.4h0.8M107.7,216.8h0.8M107.8,219.0h0.8M106.3,222.9h0.8M107.2,221.1h0.8M108.2,208.1h0.8M110.5,205.3h0.8M108.3,213.7h0.8M108.5,207.0h0.8M105.8,219.5h0.8M108.7,215.9h0.8M107.9,215.4h0.8M106.9,220.3h0.8M106.6,228.7h0.8M105.5,221.5h0.8M105.4,223.9h0.8M108.8,213.3h0.8M106.6,228.2h0.8M107.2,212.9h0.8M104.8,228.8h0.8M106.7,223.2h0.8M104.6,221.0h0.8M105.7,217.1h0.8M106.6,212.7h0.8M105.4,223.5h0.8M107.7,222.8h0.8M108.4,213.3h0.8M105.7,216.6h0.8M105.9,222.4h0.8M106.5,225.6h0.8M105.5,223.8h0.8M103.9,225.7h0.8M108.8,215.1h0.8M106.2,217.6h0.8M104.5,237.2h0.8M108.4,210.8h0.8M109.3,212.9h0.8M107.6,211.3h0.8M108.7,211.9h0.8M105.1,229.2h0.8M105.5,228.5h0.8M106.5,214.9h0.8M106.2,233.0h0.8M108.8,216.6h0.8M106.7,228.0h0.8M110.9,205.2h0.8M107.0,220.4h0.8M107.8,220.1h0.8M108.0,211.9h0.8M106.4,228.2h0.8M107.1,222.2h0.8M108.8,217.4h0.8M107.6,211.2h0.8M109.0,216.8h0.8M106.9,222.6h0.8M109.3,211.1h0.8M106.1,215.2h0.8M106.0,227.4h0.8M109.8,216.7h0.8M107.2,224.9h0.8M106.0,213.5h0.8M106.3,224.5h0.8M106.3,222.2h0.8M106.6,215.6h0.8M106.8,215.7h0.8M107.0,222.7h0.8M106.7,222.8h0.8M108.5,208.2h0.8M107.5,220.0h0.8M107.7,221.5h0.8M106.3,227.6h0.8M105.7,222.3h0.8M107.8,206.9h0.8M109.3,207.2h0.8M107.4,209.0h0.8M109.6,211.1h0.8M106.7,219.7h0.8M109.5,202.4h0.8M105.9,221.7h0.8M107.7,216.0h0.8M108.8,218.0h0.8M107.1,221.2h0.8M107.4,209.0h0.8M109.8,212.2h0.8M104.6,227.9h0.8M104.1,225.7h0.8M105.6,215.6h0.8M108.9,215.8h0.8M105.1,229.8h0.8M105.9,231.9h0.8M106.0,223.9h0.8M107.5,218.6h0.8M106.6,221.3h0.8M106.5,222.6h0.8M105.9,226.8h0.8M104.6,231.9h0.8M108.9,206.0h0.8M106.0,227.4h0.8M104.4,225.2h0.8M107.0,224.0h0.8M107.2,216.3h0.8M105.0,225.0h0.8M108.5,209.9h0.8M103.9,225.0h0.8M108.1,228.5h0.8M105.8,226.6h0.8M107.0,217.5h0.8M105.3,220.6h0.8M107.6,226.2h0.8M107.1,224.1h0.8M105.0,230.3h0.8M108.2,217.3h0.8M106.5,226.6h0.8M106.6,216.2h0.8M106.5,215.6h0.8M106.2,224.3h0.8M104.2,237.2h0.8M104.5,225.4h0.8M107.3,221.9h0.8M107.8,221.8h0.8M104.5,226.5h0.8M108.8,208.5h0.8M107.0,212.4h0.8M108.0,213.5h0.8M107.6,214.6h0.8M107.5,210.7h0.8M104.6,225.2h0.8M107.3,211.0h0.8M105.0,225.8h0.8M105.3,221.7h0.8M106.1,220.8h0.8M105.5,222.5h0.8M106.5,218.6h0.8M107.3,218.2h0.8M105.1,216.3h0.8M105.6,222.4h0.8M106.1,213.5h0.8M106.0,223.7h0.8M107.6,221.3h0.8M107.5,222.0h0.8M103.7,228.5h0.8M108.6,210.8h0.8M107.5,215.7h0.8M106.2,215.5h0.8M107.3,212.5h0.8M108.0,212.3h0.8M103.8,232.0h0.8M107.9,211.3h0.8M106.8,221.6h0.8M106.0,221.7h0.8M107.2,218.3h0.8M108.5,208.7h0.8M110.6,206.5h0.8M109.7,207.5h0.8M107.2,218.1h0.8M106.1,219.8h0.8M106.3,219.3h0.8M109.1,208.0h0.8M104.6,221.7h0.8M106.5,219.2h0.8M104.8,226.1h0.8M105.3,234.2h0.8M109.4,219.7h0.8M106.8,219.1h0.8M108.5,209.2h0.8M106.7,217.7h0.8M107.9,223.2h0.8M109.6,212.4h0.8M106.6,221.3h0.8M107.1,225.0h0.8M106.2,228.4h0.8M109.4,211.7h0.8M107.1,225.4h0.8M105.5,223.6h0.8M106.8,228.0h0.8M108.0,207.7h0.8M105.9,224.0h0.8M110.4,202.2h0.8M104.7,222.3h0.8M107.5,223.6h0.8M108.5,206.3h0.8M105.8,223.5h0.8M106.0,231.8h0.8M107.0,226.4h0.8M104.0,230.2h0.8M106.5,216.9h0.8M107.7,213.7h0.8M106.4,226.9h0.8M105.9,213.0h0.8M109.2,206.7h0.8M105.8,213.5h0.8M105.9,223.7h0.8M106.5,211.5h0.8M104.1,224.6h0.8M107.1,220.6h0.8M104.7,230.2h0.8M109.0,215.7h0.8M107.3,214.4h0.8M104.9,226.7h0.8M106.5,223.4h0.8M108.6,219.5h0.8M106.2,216.8h0.8M109.4,208.7h0.8M106.3,218.1h0.8M104.1,231.4h0.8M107.0,212.7h0.8M105.9,227.8h0.8M107.8,217.4h0.8M109.0,214.7h0.8M107.1,224.7h0.8M106.7,225.7h0.8M107.4,217.8h0.8M107.9,212.4h0.8M108.9,211.6h0.8M106.5,217.9h0.8M105.7,223.9h0.8M106.7,220.3h0.8M110.5,198.9h0.8M106.8,213.6h0.8M105.9,223.7h0.8M106.1,217.5h0.8M108.0,208.0h0.8M105.7,211.3h0.8M107.2,219.0h0.8M107.7,217.7h0.8M107.4,217.1h0.8M104.4,231.6h0.8M105.3,234.8h0.8M107.1,216.8h0.8M105.6,224.4h0.8M110.4,206.7h0.8M108.2,219.5h0.8M103.5,229.3h0.8M105.6,222.1h0.8M106.6,222.7h0.8M109.2,198.5h0.8M107.3,218.6h0.8M107.8,219.3h0.8M107.4,206.8h0.8M106.8,217.8h0.8M105.8,216.3h0.8M103.0,230.4h0.8M107.6,215.4h0.8M104.7,218.1h0.8M105.8,221.3h0.8M104.7,228.3h0.8M108.2,214.3h0.8M107.4,219.1h0.8M106.4,223.0h0.8M107.5,218.7h0.8" stroke="#0a0a0a" stroke-width="0.8" fill="none"/>
<path d="M108.1,209.5h0.6M107.3,208.6h0.6M113.2,181.8h0.6M112.8,205.5h0.6M108.1,192.0h0.6M110.9,201.7h0.6M113.9,186.5h0.6M107.6,200.2h0.6M110.2,199.3h0.6M107.4,203.7h0.6M108.2,205.4h0.6M108.8,209.7h0.6M106.6,206.4h0.6M113.2,194.8h0.6M110.1,209.3h0.6M110.1,204.9h0.6M107.8,204.1h0.6M110.9,203.3h0.6M113.1,199.4h0.6M115.1,184.0h0.6M113.1,185.0h0.6M107.8,205.9h0.6M109.9,200.0h0.6M109.4,210.2h0.6M115.8,185.0h0.6M112.3,181.1h0.6M110.2,201.9h0.6M108.3,206.9h0.6M107.0,208.7h0.6M108.5,208.1h0.6M107.3,206.1h0.6M108.3,209.9h0.6M107.5,202.4h0.6M110.6,205.3h0.6M108.7,202.7h0.6M108.7,204.1h0.6M112.1,201.4h0.6M107.4,208.3h0.6M109.2,205.7h0.6M108.6,198.6h0.6M109.5,209.3h0.6M108.7,194.8h0.6M107.0,203.7h0.6M109.0,209.1h0.6M106.7,208.8h0.6M107.7,209.6h0.6M107.4,205.9h0.6M107.4,196.0h0.6M108.5,208.2h0.6M108.9,197.9h0.6M108.2,203.3h0.6M112.5,201.4h0.6M109.7,205.4h0.6M111.5,198.7h0.6M110.5,194.9h0.6M110.9,195.9h0.6M112.1,195.9h0.6M106.6,199.5h0.6M111.8,202.0h0.6M112.3,194.9h0.6M112.9,186.4h0.6M109.7,195.9h0.6M110.3,194.6h0.6M108.5,207.9h0.6M109.2,201.4h0.6M109.2,208.1h0.6M111.3,210.8h0.6M109.1,204.8h0.6M107.5,207.6h0.6M110.9,193.2h0.6M109.2,196.4h0.6M107.7,208.6h0.6M108.2,196.2h0.6M109.3,204.1h0.6M110.4,195.3h0.6M109.2,209.3h0.6M109.5,204.7h0.6M109.4,188.7h0.6M111.4,200.6h0.6M107.2,210.1h0.6M106.7,196.0h0.6M110.8,200.3h0.6M107.6,201.8h0.6M114.1,186.5h0.6M106.9,208.3h0.6M109.8,210.0h0.6M114.8,177.4h0.6M106.0,200.4h0.6M106.6,200.1h0.6M110.9,195.9h0.6M111.3,181.3h0.6M109.9,210.6h0.6M108.2,202.0h0.6M108.7,205.6h0.6M111.0,196.6h0.6M109.3,203.5h0.6M110.8,188.5h0.6M109.7,193.5h0.6M106.3,200.2h0.6M108.2,207.8h0.6M108.1,203.9h0.6M107.6,205.8h0.6M111.2,182.1h0.6M108.3,203.2h0.6M109.9,196.8h0.6M109.2,200.3h0.6M111.4,204.4h0.6M111.5,198.1h0.6M109.8,195.5h0.6M110.3,209.0h0.6M109.0,203.3h0.6M109.5,205.7h0.6M110.3,207.1h0.6M109.7,208.3h0.6M111.3,196.8h0.6M107.6,200.7h0.6M109.6,193.4h0.6M111.6,204.7h0.6M110.9,194.8h0.6M108.5,199.3h0.6M109.8,207.1h0.6M110.5,208.0h0.6M111.5,198.0h0.6M110.0,198.5h0.6M108.1,204.2h0.6M109.5,196.3h0.6M114.2,202.9h0.6M111.8,204.6h0.6M109.1,207.9h0.6M108.2,200.7h0.6M110.5,198.7h0.6M112.0,191.1h0.6M110.0,203.4h0.6M110.4,189.9h0.6M110.4,204.0h0.6M111.9,199.1h0.6M108.7,191.5h0.6M107.3,203.5h0.6M105.6,208.5h0.6M106.4,209.3h0.6M106.2,205.7h0.6M108.6,204.6h0.6M108.2,209.6h0.6M106.2,208.4h0.6M113.0,177.4h0.6M109.1,198.3h0.6M105.6,204.5h0.6M108.6,200.5h0.6M110.7,196.9h0.6M107.0,208.4h0.6M111.3,198.0h0.6M110.4,202.1h0.6M105.8,204.2h0.6M110.2,196.5h0.6M110.1,206.2h0.6M111.4,200.4h0.6M108.5,205.6h0.6M108.9,200.4h0.6M107.4,196.5h0.6M109.1,202.0h0.6M113.5,185.4h0.6M108.8,206.4h0.6M109.4,196.5h0.6M109.6,190.8h0.6M113.1,165.6h0.6M110.2,195.0h0.6M107.4,205.2h0.6M111.5,199.9h0.6M114.1,192.4h0.6M107.3,203.2h0.6" stroke="#444" stroke-width="0.6" fill="none" opacity="0.8"/>
<path d="M120.8,210.0h0.6M105.3,211.8h0.6M120.2,211.8h0.6M130.3,194.3h0.6M122.8,197.3h0.6M136.5,186.2h0.6M141.5,194.7h0.6M121.8,179.9h0.6M107.0,226.7h0.6M113.8,210.2h0.6M133.2,202.4h0.6M119.2,227.0h0.6M132.1,195.0h0.6M106.9,236.0h0.6M125.9,214.1h0.6M118.4,201.6h0.6M116.5,206.1h0.6M94.7,224.5h0.6M121.1,206.0h0.6M121.5,199.3h0.6M132.3,201.5h0.6M104.0,215.0h0.6M137.0,188.9h0.6M117.9,199.2h0.6M124.8,203.8h0.6M117.0,204.1h0.6M122.3,204.4h0.6M101.1,214.4h0.6M116.9,203.6h0.6M133.5,184.3h0.6M130.1,185.5h0.6M101.3,210.7h0.6M127.8,195.1h0.6M119.3,199.7h0.6M126.2,191.8h0.6M108.9,229.4h0.6M141.6,203.9h0.6M119.0,204.2h0.6M120.2,210.2h0.6M139.1,196.7h0.6M126.2,204.1h0.6M124.6,202.5h0.6M122.9,206.0h0.6M130.2,198.2h0.6M111.4,230.7h0.6M109.5,220.1h0.6M118.0,198.8h0.6M129.1,204.9h0.6M118.5,200.0h0.6M105.9,220.5h0.6M117.3,203.8h0.6M111.8,231.2h0.6M128.8,210.4h0.6M113.3,202.4h0.6M121.9,205.2h0.6M124.3,194.5h0.6M134.4,197.2h0.6M116.8,208.0h0.6M124.0,206.4h0.6M118.7,199.5h0.6M130.6,186.4h0.6M110.0,221.2h0.6M135.9,191.3h0.6M122.1,209.7h0.6M118.5,200.3h0.6M105.9,233.5h0.6M142.2,194.9h0.6M121.6,200.8h0.6M128.4,201.2h0.6M122.5,203.9h0.6M118.2,202.6h0.6M103.8,219.1h0.6M115.1,214.8h0.6M137.9,186.9h0.6M108.6,226.8h0.6M107.9,222.9h0.6M138.5,195.8h0.6M130.7,186.9h0.6M116.7,200.2h0.6M110.2,218.8h0.6M129.5,192.4h0.6M114.3,189.1h0.6M106.1,218.2h0.6M116.5,199.9h0.6M126.0,196.9h0.6M114.0,227.9h0.6M108.5,234.5h0.6M117.1,197.2h0.6M131.5,196.2h0.6M128.8,203.0h0.6M114.2,198.5h0.6M128.8,206.1h0.6M128.4,193.4h0.6M124.9,196.8h0.6M122.9,215.3h0.6M121.1,198.6h0.6M113.6,205.8h0.6M109.6,221.1h0.6M122.1,207.0h0.6M125.0,205.2h0.6M120.4,205.7h0.6M116.9,209.5h0.6M124.6,200.7h0.6M107.3,204.6h0.6M132.5,191.0h0.6M115.4,210.0h0.6M122.2,202.3h0.6M117.7,195.0h0.6M112.5,201.8h0.6M125.2,201.1h0.6M110.4,218.8h0.6M107.5,204.9h0.6M117.6,231.9h0.6M108.6,217.4h0.6M123.1,195.1h0.6M115.0,207.2h0.6M108.9,226.8h0.6M107.8,205.8h0.6M133.0,180.5h0.6M118.8,206.0h0.6M119.7,203.4h0.6M131.5,201.1h0.6M110.2,212.6h0.6M134.1,203.3h0.6M124.5,186.4h0.6M106.3,227.4h0.6M114.9,209.1h0.6M115.1,214.4h0.6M110.5,221.8h0.6M115.9,212.7h0.6M126.1,202.1h0.6M106.2,224.1h0.6M128.8,182.1h0.6M123.3,193.0h0.6M113.4,201.1h0.6M101.7,214.2h0.6M116.6,202.6h0.6M124.0,199.5h0.6M115.5,201.0h0.6M115.9,202.0h0.6M117.7,212.3h0.6M121.5,205.8h0.6M127.4,190.6h0.6M124.7,195.2h0.6M116.9,206.6h0.6M117.1,205.7h0.6M133.6,197.8h0.6M132.3,196.7h0.6M112.1,218.9h0.6M113.6,197.5h0.6M135.2,188.8h0.6M123.3,194.1h0.6M131.6,190.6h0.6M112.8,235.0h0.6M128.0,204.9h0.6M117.3,204.3h0.6M116.9,199.4h0.6M103.7,213.3h0.6M132.6,183.8h0.6M119.3,197.9h0.6M106.0,211.0h0.6M119.4,215.2h0.6M107.9,206.4h0.6M134.3,196.7h0.6M114.8,236.4h0.6M125.9,204.4h0.6M123.9,191.4h0.6M127.3,198.1h0.6M110.6,233.8h0.6M116.6,200.6h0.6M126.4,191.0h0.6M120.4,185.2h0.6M122.9,205.9h0.6M127.6,186.4h0.6M136.2,202.7h0.6M119.5,211.3h0.6M124.2,193.7h0.6M107.7,222.5h0.6M135.4,206.8h0.6M128.5,197.7h0.6M114.5,212.5h0.6M123.2,202.4h0.6M123.3,203.0h0.6M125.5,199.1h0.6M117.4,201.5h0.6M117.3,207.5h0.6M102.4,218.7h0.6M122.3,214.3h0.6M113.0,214.6h0.6M115.5,203.4h0.6M119.5,188.9h0.6M111.6,199.7h0.6M108.5,215.0h0.6M121.8,211.5h0.6M131.2,196.4h0.6M131.8,192.3h0.6M126.6,204.3h0.6M124.3,201.3h0.6M105.2,227.0h0.6M124.2,205.4h0.6M124.6,207.0h0.6M103.0,215.6h0.6M129.6,189.9h0.6M132.7,202.1h0.6M120.2,229.4h0.6M124.1,198.4h0.6M126.3,194.5h0.6M128.2,197.3h0.6M118.9,200.2h0.6M131.9,203.7h0.6M107.4,220.3h0.6M132.2,190.0h0.6M121.1,187.8h0.6M128.6,200.3h0.6M126.9,189.5h0.6M109.8,222.6h0.6M106.7,217.9h0.6M123.1,204.1h0.6M135.3,192.8h0.6M113.1,212.1h0.6M122.2,202.9h0.6M140.0,194.2h0.6M109.6,206.4h0.6M128.4,199.1h0.6M121.8,199.3h0.6M104.9,229.1h0.6M110.6,210.0h0.6M123.2,213.7h0.6M113.2,197.7h0.6M106.6,237.3h0.6M116.6,213.8h0.6M126.3,196.9h0.6M113.1,213.5h0.6M101.9,242.9h0.6M121.6,199.5h0.6M126.2,200.8h0.6M117.8,205.2h0.6M111.8,216.5h0.6M112.5,193.4h0.6M137.8,189.7h0.6M131.7,192.0h0.6M121.8,215.5h0.6M124.0,217.1h0.6M121.5,200.3h0.6M115.6,218.9h0.6M114.3,207.1h0.6M123.2,203.8h0.6M126.5,204.8h0.6M126.7,203.7h0.6M107.0,219.2h0.6M110.5,228.3h0.6M127.0,184.9h0.6M115.6,193.5h0.6M123.2,210.1h0.6M111.6,234.8h0.6M115.2,212.8h0.6M110.6,240.6h0.6M117.9,190.4h0.6M129.4,174.8h0.6M127.3,198.1h0.6M133.7,212.3h0.6M121.1,199.9h0.6M120.3,201.2h0.6M130.7,187.6h0.6M109.7,224.2h0.6M120.2,192.2h0.6M117.6,207.0h0.6M125.0,200.8h0.6M117.3,236.8h0.6M119.3,205.8h0.6M134.1,202.2h0.6M117.7,197.2h0.6M121.8,210.9h0.6M112.2,218.4h0.6M121.7,195.3h0.6M128.9,201.8h0.6M133.5,194.0h0.6M115.1,207.0h0.6M113.4,200.1h0.6M110.1,210.8h0.6M120.7,194.7h0.6M123.9,208.8h0.6M116.3,219.5h0.6M152.2,196.1h0.6M103.6,209.2h0.6M114.9,204.6h0.6M126.5,202.3h0.6M110.4,207.4h0.6M117.5,200.3h0.6M115.8,206.8h0.6M127.2,210.6h0.6M104.1,223.8h0.6M109.0,230.1h0.6M104.8,233.2h0.6M111.9,211.0h0.6M123.9,211.6h0.6M130.8,205.4h0.6M128.0,191.6h0.6M114.0,209.5h0.6M141.9,197.9h0.6M113.2,210.1h0.6M109.0,229.4h0.6M103.9,227.3h0.6M114.3,214.6h0.6M118.0,217.6h0.6M110.2,227.7h0.6M131.4,198.1h0.6M105.0,223.3h0.6M111.3,231.0h0.6M116.5,211.3h0.6M108.9,219.9h0.6M120.8,211.5h0.6M121.2,209.1h0.6M128.7,196.7h0.6M128.7,197.9h0.6M125.9,206.2h0.6M123.4,198.2h0.6M124.4,196.0h0.6M120.5,193.1h0.6M132.5,194.7h0.6M118.4,199.6h0.6M108.8,203.7h0.6M119.3,212.8h0.6M119.8,213.9h0.6M138.0,192.9h0.6M113.6,209.6h0.6M107.4,207.3h0.6M116.1,210.9h0.6M105.4,229.1h0.6M105.0,227.9h0.6M122.9,190.7h0.6M108.0,225.8h0.6M108.5,211.6h0.6M110.6,228.3h0.6M123.0,198.3h0.6M118.1,195.9h0.6M112.2,200.6h0.6M136.6,192.6h0.6M92.3,217.6h0.6M110.2,221.3h0.6M122.4,202.3h0.6M108.7,221.3h0.6M131.1,210.3h0.6M115.0,209.2h0.6M126.1,214.6h0.6M110.5,219.7h0.6M134.0,194.1h0.6M115.7,211.3h0.6M119.7,216.3h0.6M129.3,190.3h0.6M124.3,210.0h0.6M115.6,206.3h0.6M121.8,196.3h0.6M121.3,192.8h0.6M129.2,192.0h0.6M112.3,227.5h0.6M140.5,189.4h0.6M117.8,204.0h0.6M127.3,201.1h0.6M112.4,201.2h0.6M134.6,205.7h0.6M126.4,195.5h0.6M138.6,194.5h0.6M122.4,221.0h0.6M129.5,188.2h0.6M136.7,192.6h0.6M123.6,195.2h0.6M115.6,205.6h0.6M140.6,199.5h0.6M123.7,197.1h0.6M112.3,223.5h0.6M119.4,213.6h0.6M119.5,204.2h0.6M117.8,198.2h0.6M139.4,195.8h0.6M139.6,172.3h0.6M117.1,208.6h0.6M118.4,196.6h0.6M118.8,219.4h0.6M105.2,218.7h0.6M129.8,200.2h0.6M110.2,219.8h0.6M123.2,214.3h0.6M123.4,238.4h0.6M131.1,196.1h0.6M130.4,208.2h0.6M121.4,196.5h0.6M119.4,204.0h0.6M120.3,193.6h0.6M133.4,193.5h0.6M119.0,202.2h0.6M122.1,209.2h0.6M127.9,201.3h0.6M118.6,233.9h0.6M106.8,225.1h0.6M124.6,197.3h0.6M119.1,204.8h0.6M132.7,201.1h0.6M121.9,207.0h0.6M126.6,202.4h0.6M126.0,191.6h0.6M117.1,226.3h0.6M120.6,193.7h0.6M131.9,206.8h0.6M124.2,202.7h0.6M116.5,207.5h0.6M112.8,229.8h0.6M108.0,208.5h0.6M129.8,197.4h0.6M125.4,199.1h0.6M111.0,199.3h0.6M122.1,194.0h0.6M135.7,212.7h0.6M121.5,205.3h0.6M115.8,196.4h0.6M122.9,205.8h0.6M128.3,203.9h0.6M128.5,210.1h0.6" stroke="#666" stroke-width="0.6" fill="none" opacity="0.8"/>
<path d="M98.40,163.90H143.50" stroke="#444" stroke-width="0.9" fill="none"/>
<path d="M98.40,163.80V217.50H112.25V163.80M143.50,163.80V204.75L112.25,217.80" stroke="#4a4a4a" stroke-width="0.65" fill="none"/>
<text x="105.00" y="190.60" font-size="5.4" text-anchor="middle" fill="#000" textLength="13.2" lengthAdjust="spacingAndGlyphs" stroke="#000" stroke-width="0.3" >42,65</text>
<text x="127.30" y="190.60" font-size="5.4" text-anchor="middle" fill="#000" textLength="13.4" lengthAdjust="spacingAndGlyphs" stroke="#000" stroke-width="0.3" >17,76</text>
<text x="74.50" y="209.30" font-size="7.4" text-anchor="middle" fill="#111" textLength="33.6" lengthAdjust="spacingAndGlyphs" transform="rotate(-90 74.50 209.30)" stroke="#111" stroke-width="0.3" >Cyclin D3</text>
<text x="128.00" y="261.90" font-size="7.4" text-anchor="middle" fill="#111" textLength="45.4" lengthAdjust="spacingAndGlyphs" stroke="#111" stroke-width="0.3" >DNA content</text>
<text x="126.60" y="158.50" font-size="7.5" text-anchor="middle" fill="#111" stroke="#111" stroke-width="0.3" >CT</text>
<path d="M203.90,163.30H284.90V244.20" stroke="#8a8a8a" stroke-width="0.6" fill="none"/>
<path d="M203.90,163.30V244.20H284.90" stroke="#555" stroke-width="0.7" fill="none"/>
<path d="M201.90,244.20H203.90M202.90,242.65H203.90M202.90,241.11H203.90M202.90,239.56H203.90M202.90,238.02H203.90M202.90,236.47H203.90M202.90,234.93H203.90M202.90,233.38H203.90M202.90,231.84H203.90M202.90,230.29H203.90M201.90,228.75H203.90M202.90,227.20H203.90M202.90,225.66H203.90M202.90,224.11H203.90M202.90,222.57H203.90M202.90,221.02H203.90M202.90,219.48H203.90M202.90,217.93H203.90M202.90,216.39H203.90M202.90,214.84H203.90M201.90,213.30H203.90M202.90,211.75H203.90M202.90,210.21H203.90M202.90,208.66H203.90M202.90,207.12H203.90M202.90,205.57H203.90M202.90,204.03H203.90M202.90,202.48H203.90M202.90,200.93H203.90M202.90,199.39H203.90M201.90,197.84H203.90M202.90,196.30H203.90M202.90,194.75H203.90M202.90,193.21H203.90M202.90,191.66H203.90M202.90,190.12H203.90M202.90,188.57H203.90M202.90,187.03H203.90M202.90,185.48H203.90M202.90,183.94H203.90M201.90,182.39H203.90M202.90,180.85H203.90M202.90,179.30H203.90M202.90,177.76H203.90M202.90,176.21H203.90M202.90,174.67H203.90M202.90,173.12H203.90M202.90,171.58H203.90M202.90,170.03H203.90M202.90,168.49H203.90M201.90,166.94H203.90M203.90,244.20V246.20M205.45,244.20V245.20M206.99,244.20V245.20M208.54,244.20V245.20M210.09,244.20V245.20M211.64,244.20V245.20M213.18,244.20V245.20M214.73,244.20V245.20M216.28,244.20V245.20M217.82,244.20V245.20M219.37,244.20V246.20M220.92,244.20V245.20M222.47,244.20V245.20M224.01,244.20V245.20M225.56,244.20V245.20M227.11,244.20V245.20M228.65,244.20V245.20M230.20,244.20V245.20M231.75,244.20V245.20M233.29,244.20V245.20M234.84,244.20V246.20M236.39,244.20V245.20M237.94,244.20V245.20M239.48,244.20V245.20M241.03,244.20V245.20M242.58,244.20V245.20M244.12,244.20V245.20M245.67,244.20V245.20M247.22,244.20V245.20M248.77,244.20V245.20M250.31,244.20V246.20M251.86,244.20V245.20M253.41,244.20V245.20M254.95,244.20V245.20M256.50,244.20V245.20M258.05,244.20V245.20M259.60,244.20V245.20M261.14,244.20V245.20M262.69,244.20V245.20M264.24,244.20V245.20M265.78,244.20V246.20M267.33,244.20V245.20M268.88,244.20V245.20M270.43,244.20V245.20M271.97,244.20V245.20M273.52,244.20V245.20M275.07,244.20V245.20M276.61,244.20V245.20M278.16,244.20V245.20M279.71,244.20V245.20M281.25,244.20V246.20" stroke="#555" stroke-width="0.45" fill="none"/>
<text x="200.30" y="229.85" font-size="3.2" text-anchor="end" fill="#666" >200</text>
<text x="219.37" y="250.50" font-size="3.2" text-anchor="middle" fill="#666" >200</text>
<text x="200.30" y="214.40" font-size="3.2" text-anchor="end" fill="#666" >400</text>
<text x="234.84" y="250.50" font-size="3.2" text-anchor="middle" fill="#666" >400</text>
<text x="200.30" y="198.94" font-size="3.2" text-anchor="end" fill="#666" >600</text>
<text x="250.31" y="250.50" font-size="3.2" text-anchor="middle" fill="#666" >600</text>
<text x="200.30" y="183.49" font-size="3.2" text-anchor="end" fill="#666" >800</text>
<text x="265.78" y="250.50" font-size="3.2" text-anchor="middle" fill="#666" >800</text>
<text x="200.30" y="168.04" font-size="3.2" text-anchor="end" fill="#666" >1000</text>
<text x="281.25" y="250.50" font-size="3.2" text-anchor="middle" fill="#666" >1000</text>
<path d="M220.1,221.7h0.8M219.3,210.4h0.8M219.7,213.2h0.8M222.8,210.6h0.8M220.6,206.4h0.8M223.2,204.3h0.8M221.2,216.0h0.8M222.1,203.3h0.8M220.5,213.6h0.8M220.1,205.4h0.8M221.5,203.8h0.8M220.4,207.1h0.8M219.6,219.8h0.8M220.3,207.7h0.8M221.0,209.4h0.8M221.9,205.1h0.8M221.3,210.2h0.8M222.4,201.4h0.8M222.9,213.9h0.8M221.8,213.1h0.8M220.6,218.5h0.8M219.0,228.8h0.8M219.0,217.7h0.8M220.8,223.2h0.8M220.0,210.4h0.8M222.1,201.2h0.8M220.9,216.0h0.8M218.5,221.0h0.8M221.5,218.7h0.8M220.4,206.9h0.8M222.2,205.4h0.8M221.6,210.2h0.8M220.5,210.6h0.8M219.5,219.6h0.8M221.3,216.1h0.8M221.4,221.9h0.8M219.9,217.7h0.8M222.1,208.8h0.8M219.7,215.7h0.8M218.6,220.0h0.8M223.1,206.0h0.8M223.3,201.0h0.8M222.1,211.4h0.8M221.7,207.1h0.8M223.4,211.4h0.8M218.1,224.7h0.8M220.9,220.1h0.8M221.8,205.5h0.8M221.6,209.0h0.8M220.8,211.4h0.8M221.0,213.7h0.8M224.2,206.2h0.8M219.9,225.8h0.8M222.0,213.7h0.8M222.8,206.5h0.8M220.9,207.9h0.8M221.1,225.2h0.8M221.3,205.2h0.8M222.9,204.9h0.8M219.6,230.2h0.8M221.2,220.3h0.8M219.7,218.0h0.8M219.4,223.9h0.8M221.4,206.6h0.8M221.4,226.3h0.8M223.4,201.2h0.8M219.4,217.0h0.8M220.1,224.6h0.8M221.3,204.6h0.8M220.8,213.5h0.8M221.3,215.3h0.8M222.4,199.3h0.8M222.9,207.9h0.8M220.6,215.4h0.8M220.8,222.7h0.8M219.9,217.0h0.8M220.3,213.0h0.8M219.8,220.5h0.8M222.2,203.5h0.8M220.1,209.8h0.8M221.0,226.9h0.8M219.2,216.0h0.8M221.5,214.3h0.8M218.6,225.1h0.8M220.4,211.6h0.8M222.7,208.3h0.8M221.1,210.5h0.8M220.4,213.7h0.8M221.2,214.4h0.8M221.7,215.7h0.8M222.9,195.9h0.8M222.2,211.3h0.8M221.4,209.1h0.8M221.6,216.9h0.8M222.1,209.4h0.8M220.9,219.0h0.8M221.6,208.1h0.8M223.7,209.4h0.8M219.9,226.3h0.8M218.7,221.3h0.8M221.4,215.2h0.8M220.0,213.0h0.8M219.2,223.2h0.8M220.3,213.3h0.8M221.3,223.9h0.8M220.1,219.2h0.8M220.0,217.2h0.8M220.8,213.2h0.8M220.5,209.2h0.8M221.5,223.8h0.8M221.7,214.1h0.8M222.7,205.6h0.8M219.6,213.1h0.8M220.5,224.5h0.8M222.2,209.0h0.8M217.5,224.5h0.8M218.9,220.5h0.8M220.2,212.3h0.8M221.9,202.7h0.8M221.4,217.4h0.8M220.5,211.2h0.8M223.7,208.2h0.8M219.7,221.8h0.8M218.2,220.6h0.8M222.3,209.4h0.8M222.4,207.0h0.8M219.1,227.2h0.8M219.3,217.9h0.8M220.7,221.1h0.8M222.7,215.8h0.8M219.7,210.1h0.8M223.1,207.6h0.8M219.9,213.1h0.8M221.4,201.3h0.8M219.1,213.8h0.8M218.2,221.8h0.8M223.2,206.3h0.8M219.4,216.1h0.8M221.4,214.0h0.8M218.5,223.8h0.8M221.6,214.3h0.8M221.6,213.1h0.8M217.5,221.7h0.8M220.5,211.3h0.8M220.6,214.3h0.8M220.8,210.1h0.8M222.4,203.7h0.8M222.2,210.0h0.8M222.4,206.5h0.8M218.8,225.4h0.8M223.3,200.9h0.8M222.0,209.7h0.8M219.8,217.8h0.8M221.6,218.1h0.8M223.1,211.3h0.8M223.4,210.4h0.8M220.3,210.2h0.8M223.0,201.6h0.8M222.4,205.4h0.8M220.9,215.8h0.8M218.8,221.1h0.8M219.7,219.5h0.8M219.7,222.8h0.8M223.3,211.7h0.8M222.7,200.9h0.8M221.7,207.4h0.8M221.4,210.8h0.8M220.6,217.2h0.8M220.1,223.7h0.8M219.7,215.4h0.8M221.2,216.1h0.8M220.9,218.3h0.8M223.1,209.8h0.8M219.9,221.0h0.8M223.0,210.2h0.8M222.0,211.8h0.8M219.1,223.6h0.8M222.4,202.0h0.8M222.4,198.5h0.8M219.2,215.2h0.8M221.9,209.2h0.8M223.1,199.6h0.8M219.4,215.1h0.8M221.9,214.2h0.8M223.0,208.6h0.8M221.8,207.5h0.8M221.8,209.4h0.8M221.5,223.0h0.8M220.4,210.8h0.8M221.7,210.9h0.8M223.4,206.8h0.8M218.7,234.6h0.8M221.6,202.8h0.8M219.5,226.4h0.8M221.7,211.2h0.8M219.5,221.1h0.8M222.0,212.3h0.8M223.4,198.4h0.8M218.2,217.4h0.8M222.0,206.1h0.8M220.0,214.1h0.8M220.0,208.2h0.8M221.3,212.8h0.8M222.6,211.6h0.8M221.0,214.2h0.8M220.3,207.4h0.8M220.8,215.6h0.8M221.2,206.8h0.8M222.2,208.0h0.8M218.2,223.6h0.8M219.8,223.5h0.8M222.0,212.2h0.8M221.3,207.7h0.8M222.9,206.2h0.8M222.0,210.3h0.8M220.2,222.5h0.8M218.9,220.5h0.8M220.9,216.0h0.8M220.7,213.8h0.8M220.3,220.5h0.8M219.0,218.5h0.8M222.6,213.1h0.8M219.6,216.2h0.8M224.1,204.1h0.8M220.6,215.5h0.8M224.2,212.4h0.8M222.2,212.7h0.8M219.7,210.2h0.8M218.8,221.0h0.8M221.6,210.5h0.8M222.5,201.0h0.8M221.4,211.4h0.8M223.5,212.9h0.8M222.8,211.7h0.8M221.7,204.4h0.8M221.3,208.7h0.8M221.3,212.8h0.8M220.6,213.3h0.8M222.3,202.6h0.8M223.4,208.8h0.8M222.7,209.3h0.8M223.5,204.0h0.8M221.3,201.3h0.8M223.0,199.9h0.8M218.7,225.6h0.8M219.7,223.3h0.8M218.6,223.8h0.8M221.5,211.5h0.8M220.1,219.1h0.8M221.0,214.2h0.8M220.8,213.5h0.8M220.3,207.2h0.8M220.7,217.0h0.8M220.1,216.2h0.8M220.8,216.6h0.8M222.1,204.8h0.8M221.1,215.4h0.8M218.9,214.9h0.8M220.9,211.6h0.8M221.1,217.6h0.8M220.5,213.1h0.8M217.2,228.5h0.8M220.9,213.4h0.8M221.7,210.5h0.8M219.3,216.7h0.8M219.9,221.2h0.8M220.7,221.7h0.8M218.0,222.6h0.8M219.1,214.6h0.8M221.6,202.0h0.8M220.8,213.8h0.8M218.5,219.0h0.8M220.1,226.7h0.8M224.2,206.7h0.8M220.2,223.8h0.8M221.9,213.7h0.8M221.3,217.2h0.8M222.5,207.3h0.8M222.3,203.4h0.8M221.9,202.6h0.8M219.9,201.5h0.8M220.3,213.3h0.8M222.1,213.6h0.8M221.8,208.5h0.8M221.2,201.4h0.8M221.8,219.4h0.8M219.3,210.9h0.8M220.2,211.0h0.8M223.6,203.3h0.8M221.8,217.5h0.8M221.2,219.5h0.8M221.5,209.4h0.8M219.4,223.4h0.8M218.3,229.5h0.8M220.5,226.6h0.8M217.7,220.0h0.8M222.0,209.5h0.8M222.7,217.4h0.8M221.9,208.1h0.8M217.5,217.6h0.8M222.5,210.3h0.8M219.1,217.5h0.8M219.4,213.6h0.8M221.8,213.6h0.8M222.8,203.0h0.8M222.0,212.2h0.8M222.1,203.7h0.8M219.1,222.0h0.8M219.0,222.2h0.8M221.3,214.4h0.8M221.3,212.4h0.8M221.1,216.1h0.8M222.7,207.4h0.8M222.2,203.0h0.8M222.5,215.5h0.8M221.7,212.2h0.8M221.7,216.0h0.8M219.7,216.2h0.8M220.6,213.9h0.8M221.5,207.6h0.8M221.0,212.6h0.8M220.8,211.1h0.8M220.7,205.6h0.8M220.0,216.1h0.8M221.7,209.0h0.8M221.2,210.1h0.8M219.2,218.4h0.8M220.2,215.8h0.8M221.7,211.6h0.8M221.9,206.7h0.8M219.3,218.6h0.8M221.5,213.1h0.8M223.1,199.9h0.8M224.6,201.5h0.8M221.2,221.0h0.8M223.5,205.7h0.8M222.0,213.7h0.8M220.5,216.9h0.8M222.8,213.6h0.8M221.8,215.2h0.8M220.4,213.0h0.8M221.9,211.9h0.8M221.0,218.6h0.8M219.5,218.4h0.8M221.0,211.9h0.8M218.5,220.2h0.8M221.3,213.4h0.8M220.8,216.8h0.8M220.0,224.3h0.8M221.7,210.6h0.8M220.5,217.8h0.8M222.2,212.8h0.8M221.6,211.6h0.8M221.2,218.7h0.8M221.7,205.2h0.8M222.0,209.1h0.8M219.7,213.7h0.8M220.9,201.0h0.8M221.0,211.3h0.8M221.7,205.5h0.8M221.7,213.3h0.8M221.0,210.3h0.8M222.1,208.8h0.8M221.5,206.5h0.8M220.6,213.8h0.8M220.5,219.4h0.8M222.9,210.9h0.8M221.1,215.8h0.8M222.0,205.5h0.8M221.2,213.1h0.8M219.4,218.2h0.8M222.3,205.7h0.8M219.8,213.9h0.8M222.3,212.9h0.8M219.1,221.4h0.8M223.5,206.0h0.8M222.0,202.6h0.8M220.9,209.2h0.8M221.2,209.8h0.8M222.6,212.3h0.8M221.1,211.1h0.8M221.4,213.2h0.8M220.8,217.1h0.8M223.2,209.6h0.8M217.9,227.7h0.8M220.7,222.3h0.8M223.6,196.6h0.8M222.3,212.8h0.8M218.5,230.5h0.8M218.2,235.2h0.8M220.1,217.0h0.8M220.8,211.1h0.8M222.1,205.8h0.8M223.9,211.2h0.8M221.5,216.8h0.8M221.5,219.4h0.8M222.1,206.8h0.8M223.6,206.8h0.8M222.4,203.9h0.8M222.1,214.0h0.8M219.0,223.7h0.8M222.1,210.2h0.8M224.6,200.8h0.8M221.8,211.3h0.8M219.6,222.6h0.8M221.1,211.7h0.8M221.7,213.2h0.8M219.6,220.0h0.8M220.5,226.0h0.8M218.4,220.6h0.8M221.6,208.2h0.8M221.6,206.8h0.8M223.8,198.9h0.8M221.3,212.5h0.8M221.6,215.1h0.8M222.6,199.6h0.8M220.6,221.1h0.8M220.6,205.9h0.8M219.4,218.2h0.8M222.1,209.7h0.8M219.2,218.4h0.8M219.7,208.5h0.8M221.5,209.0h0.8M223.9,200.4h0.8M220.2,217.5h0.8M220.1,215.3h0.8M222.1,213.1h0.8M219.4,223.9h0.8M223.2,203.3h0.8M219.5,219.0h0.8M218.7,219.2h0.8M222.2,205.6h0.8M219.0,218.1h0.8M220.2,216.1h0.8M222.2,201.6h0.8M222.2,212.9h0.8M221.5,208.9h0.8M220.3,228.7h0.8M221.2,209.3h0.8M220.0,214.0h0.8M218.8,219.5h0.8M222.0,210.1h0.8M222.0,212.4h0.8M221.7,209.8h0.8M220.8,219.7h0.8M222.8,205.4h0.8M221.8,204.9h0.8M221.3,220.4h0.8M220.7,217.6h0.8M220.9,214.8h0.8M220.3,215.3h0.8M221.2,226.0h0.8M219.4,211.9h0.8M219.1,219.6h0.8M217.9,218.3h0.8M223.2,209.8h0.8M221.5,215.3h0.8M220.4,209.2h0.8M220.6,204.9h0.8M220.2,217.4h0.8M222.4,204.9h0.8M220.2,214.3h0.8M221.2,212.9h0.8M223.1,208.7h0.8M221.8,208.5h0.8M222.5,214.8h0.8M221.2,212.1h0.8M224.3,201.4h0.8M221.5,209.6h0.8M221.5,218.0h0.8M221.6,216.8h0.8M220.4,218.9h0.8M221.6,210.8h0.8M221.6,212.0h0.8M218.9,221.1h0.8M222.7,214.8h0.8M220.0,214.2h0.8M220.5,218.0h0.8M221.6,205.3h0.8M221.8,209.7h0.8M219.8,215.8h0.8M220.2,214.5h0.8M219.9,209.6h0.8M222.9,205.9h0.8M223.0,209.8h0.8M220.0,209.2h0.8M221.5,213.2h0.8M219.3,218.0h0.8M222.0,210.6h0.8M220.4,216.4h0.8M220.0,216.9h0.8M222.0,214.1h0.8M219.2,224.5h0.8M222.9,202.5h0.8M222.0,212.6h0.8M218.9,220.2h0.8M218.1,224.7h0.8M222.1,211.9h0.8M220.0,216.3h0.8M222.0,210.8h0.8M219.5,211.5h0.8M218.1,216.9h0.8M220.5,211.7h0.8M221.9,218.2h0.8M222.8,204.6h0.8M221.5,211.7h0.8M220.5,217.5h0.8M222.0,200.4h0.8M220.6,218.1h0.8M222.7,207.5h0.8M220.0,220.1h0.8M219.6,215.2h0.8M220.7,212.9h0.8M222.3,207.3h0.8M220.4,218.8h0.8M220.1,215.9h0.8M221.6,217.0h0.8M219.0,216.1h0.8M221.1,218.9h0.8M222.1,198.7h0.8M220.4,215.9h0.8M220.1,223.2h0.8M221.3,213.9h0.8M222.9,198.2h0.8M222.6,208.2h0.8M219.9,217.8h0.8M223.2,203.0h0.8M220.1,212.4h0.8M222.4,207.6h0.8M224.5,198.8h0.8M222.1,208.1h0.8M220.6,213.0h0.8M221.6,211.5h0.8M222.7,209.2h0.8M220.8,211.3h0.8M223.3,208.2h0.8M220.7,219.3h0.8M222.1,209.9h0.8M221.4,210.1h0.8M222.6,214.4h0.8M221.3,201.5h0.8M219.1,230.8h0.8M219.9,218.0h0.8M219.9,224.4h0.8M220.5,213.8h0.8M224.2,207.7h0.8M223.6,203.6h0.8M221.3,216.4h0.8M222.1,213.9h0.8M221.6,209.6h0.8M220.9,209.7h0.8M223.2,208.3h0.8M221.2,216.0h0.8M220.4,225.0h0.8M220.9,207.4h0.8M222.8,201.7h0.8M218.1,225.1h0.8M221.6,207.5h0.8M220.6,205.8h0.8M221.9,214.3h0.8M221.1,218.2h0.8M221.0,216.0h0.8M223.5,211.6h0.8M220.6,222.0h0.8M221.2,204.4h0.8M223.4,213.3h0.8M219.2,206.0h0.8M219.2,214.9h0.8M220.6,211.4h0.8M219.7,217.2h0.8M220.9,211.5h0.8M220.0,219.6h0.8M220.6,210.6h0.8M220.5,205.7h0.8M221.1,210.7h0.8M221.9,202.7h0.8M219.1,217.9h0.8M223.5,200.1h0.8M219.7,220.9h0.8M221.6,220.2h0.8M219.5,210.4h0.8M222.1,212.2h0.8M221.5,213.6h0.8M221.1,214.3h0.8M220.6,212.0h0.8M221.5,211.2h0.8M220.4,213.7h0.8M220.3,220.4h0.8M219.5,207.6h0.8M221.9,217.3h0.8M221.2,207.2h0.8M221.4,204.2h0.8M222.2,219.1h0.8M220.4,216.5h0.8M218.5,224.6h0.8M219.8,221.5h0.8M220.4,226.1h0.8M220.1,215.9h0.8M221.2,217.9h0.8M222.1,203.0h0.8M224.1,202.8h0.8M222.6,204.4h0.8M220.3,223.7h0.8M220.9,216.3h0.8M219.0,226.3h0.8M220.4,211.8h0.8M222.9,211.7h0.8M220.6,211.9h0.8M221.2,197.0h0.8M220.6,219.8h0.8M218.3,217.2h0.8M222.1,211.9h0.8M221.7,219.1h0.8M222.7,210.3h0.8M219.6,223.9h0.8M224.5,202.9h0.8M222.3,204.5h0.8M220.6,212.2h0.8M221.4,205.9h0.8M219.2,212.4h0.8M221.4,224.0h0.8M221.3,213.1h0.8M219.0,228.5h0.8M221.6,199.2h0.8M218.7,229.7h0.8M220.3,217.1h0.8M218.6,221.9h0.8M220.5,222.0h0.8M221.8,214.0h0.8M220.6,221.0h0.8M220.7,216.6h0.8M222.0,207.1h0.8M219.1,215.7h0.8M221.9,213.2h0.8M220.4,217.8h0.8M218.1,225.4h0.8M222.7,210.9h0.8M219.1,215.4h0.8M219.2,215.9h0.8M222.7,215.7h0.8M221.2,211.4h0.8M221.7,206.4h0.8M221.6,211.3h0.8M220.0,210.3h0.8M222.6,208.8h0.8M216.3,228.8h0.8M221.7,219.9h0.8M221.7,213.5h0.8M222.4,209.8h0.8M219.9,217.8h0.8M222.0,211.0h0.8M221.9,209.6h0.8M221.7,217.0h0.8M222.5,210.4h0.8M219.6,231.1h0.8M218.9,230.3h0.8M220.5,218.1h0.8M220.3,216.8h0.8M221.6,212.2h0.8M217.8,218.7h0.8M220.8,219.0h0.8M220.7,219.4h0.8M219.8,215.9h0.8M223.8,205.7h0.8M220.9,214.2h0.8M220.7,206.7h0.8M221.3,219.7h0.8M221.4,207.2h0.8M220.7,218.9h0.8M219.2,223.2h0.8M218.4,214.8h0.8M222.4,209.5h0.8M220.7,205.9h0.8M219.0,222.3h0.8M221.8,222.8h0.8M219.8,220.2h0.8M221.7,212.2h0.8M221.4,203.3h0.8M222.0,207.4h0.8M220.1,221.7h0.8M221.3,223.5h0.8M221.3,218.7h0.8M221.7,204.4h0.8M220.3,219.8h0.8M220.9,220.9h0.8M220.5,212.2h0.8M221.1,218.4h0.8M221.3,223.8h0.8M220.1,218.9h0.8M221.8,220.2h0.8M223.1,208.0h0.8M221.8,209.0h0.8M223.3,201.8h0.8M222.0,210.6h0.8M222.0,208.4h0.8M219.3,214.5h0.8M221.8,199.0h0.8M218.3,228.4h0.8M224.1,200.2h0.8M220.7,217.8h0.8M219.1,213.4h0.8M221.0,215.9h0.8M221.0,205.2h0.8M217.3,229.1h0.8M221.5,211.2h0.8M221.3,212.5h0.8M219.3,215.9h0.8M221.9,210.4h0.8M222.8,209.7h0.8M217.5,221.9h0.8M221.4,226.3h0.8M220.6,220.0h0.8M221.8,213.7h0.8M223.6,191.0h0.8M220.3,214.6h0.8M221.8,211.9h0.8M221.4,220.5h0.8M222.6,205.6h0.8M220.7,214.3h0.8M220.1,225.1h0.8M219.6,220.3h0.8M221.1,206.4h0.8M221.4,217.3h0.8M222.2,200.4h0.8M221.5,205.7h0.8M221.9,210.9h0.8M221.0,221.6h0.8M222.8,200.9h0.8M220.2,211.5h0.8M222.8,201.0h0.8M220.6,222.6h0.8M219.0,223.7h0.8M220.4,228.6h0.8M222.6,198.0h0.8M219.8,218.0h0.8M221.1,217.6h0.8M221.5,203.2h0.8M219.7,210.2h0.8M222.4,202.8h0.8M221.9,218.6h0.8M222.3,214.4h0.8M223.7,206.2h0.8M220.3,219.1h0.8M221.2,210.9h0.8M221.8,202.8h0.8M223.4,206.7h0.8M218.2,227.1h0.8M219.6,219.8h0.8M221.3,210.8h0.8M220.7,212.9h0.8M221.5,214.2h0.8M221.0,208.2h0.8M220.2,214.2h0.8M219.5,214.6h0.8M222.6,206.9h0.8M220.3,214.3h0.8M220.0,216.6h0.8M221.2,224.5h0.8M223.0,190.3h0.8M220.5,221.8h0.8M220.1,209.1h0.8M219.7,227.0h0.8M220.5,227.7h0.8M220.7,217.0h0.8M220.5,213.5h0.8M220.6,214.5h0.8M222.2,204.8h0.8M220.5,213.7h0.8M219.7,217.9h0.8M222.9,213.7h0.8M222.4,205.7h0.8M223.7,202.0h0.8M221.1,212.0h0.8M220.2,221.2h0.8M219.2,215.5h0.8M221.7,222.8h0.8M221.8,212.1h0.8M220.8,212.1h0.8M222.6,210.4h0.8M221.3,215.8h0.8M221.6,206.3h0.8M220.5,212.2h0.8M221.3,209.2h0.8M221.4,205.4h0.8M222.4,201.7h0.8M219.3,219.3h0.8M220.8,208.8h0.8M224.1,201.1h0.8M220.1,209.7h0.8M220.3,213.6h0.8M219.7,226.3h0.8M222.6,198.0h0.8M223.1,208.0h0.8M219.8,220.2h0.8M221.8,211.7h0.8M220.2,221.6h0.8M221.9,214.4h0.8M218.9,224.6h0.8M220.3,217.0h0.8M221.1,208.4h0.8M223.0,194.3h0.8M222.9,207.8h0.8M221.8,206.7h0.8M220.0,219.3h0.8M221.8,208.9h0.8M222.2,209.5h0.8M219.3,219.6h0.8M222.0,203.4h0.8M221.4,224.9h0.8M219.3,219.2h0.8M220.9,206.6h0.8M221.2,219.8h0.8M222.7,219.6h0.8M223.8,213.2h0.8M221.2,212.6h0.8M220.2,218.0h0.8M220.5,217.0h0.8M220.5,207.9h0.8M218.1,219.7h0.8M222.4,203.0h0.8M221.0,213.6h0.8M222.3,206.5h0.8M221.7,207.5h0.8M220.9,214.4h0.8M220.3,226.7h0.8M218.5,224.4h0.8M221.8,208.8h0.8M223.5,208.1h0.8M224.2,200.7h0.8M222.9,215.4h0.8M220.1,219.7h0.8M221.8,206.5h0.8M220.6,214.3h0.8M219.9,203.6h0.8M223.3,204.8h0.8M221.5,214.1h0.8M221.2,220.5h0.8M223.1,192.0h0.8M222.3,203.7h0.8M220.2,215.8h0.8M219.6,214.7h0.8M221.4,223.3h0.8M221.6,213.7h0.8M221.8,211.4h0.8M218.6,224.1h0.8M222.7,209.2h0.8M219.4,221.5h0.8M220.7,221.1h0.8M221.4,211.1h0.8M220.8,218.1h0.8M220.3,213.2h0.8M220.7,211.1h0.8M222.6,206.9h0.8M221.0,218.4h0.8M220.4,213.0h0.8M218.5,219.7h0.8M220.3,221.5h0.8M221.6,205.0h0.8M221.5,212.4h0.8M222.2,208.1h0.8M223.0,205.0h0.8M220.7,218.9h0.8M218.6,229.9h0.8M221.6,213.5h0.8M221.6,215.7h0.8M221.5,204.2h0.8M220.8,217.4h0.8M221.7,210.1h0.8M220.7,207.5h0.8M223.0,208.2h0.8M222.5,205.8h0.8M221.2,215.2h0.8M219.4,213.8h0.8M220.4,217.8h0.8M219.6,217.0h0.8M220.5,215.1h0.8M221.1,213.0h0.8M222.2,212.5h0.8M221.6,212.6h0.8M217.0,221.7h0.8M221.3,216.4h0.8M220.1,215.8h0.8M220.7,222.3h0.8M220.8,217.2h0.8M222.7,205.7h0.8M223.1,197.8h0.8M222.7,206.9h0.8M220.5,218.1h0.8M219.5,217.3h0.8M220.6,211.3h0.8M221.9,201.7h0.8M220.6,217.3h0.8M220.6,217.2h0.8M219.1,217.6h0.8M217.4,230.2h0.8M223.0,202.9h0.8M220.7,212.4h0.8M221.2,214.6h0.8M218.9,223.1h0.8M221.4,219.9h0.8" stroke="#0a0a0a" stroke-width="0.8" fill="none"/>
<path d="M226.1,191.4h0.6M227.7,199.3h0.6M222.5,203.7h0.6M226.1,187.5h0.6M222.1,192.4h0.6M227.1,190.5h0.6M221.6,203.3h0.6M225.9,190.9h0.6M222.8,200.9h0.6M227.2,189.2h0.6M223.8,193.4h0.6M223.3,185.5h0.6M222.2,193.1h0.6M224.3,186.5h0.6M223.7,188.9h0.6M224.9,199.8h0.6M224.0,193.1h0.6M225.2,194.1h0.6M222.7,196.8h0.6M224.6,202.4h0.6M224.1,191.3h0.6M221.9,200.3h0.6M223.4,194.5h0.6M220.0,201.8h0.6M220.7,201.4h0.6M226.1,205.0h0.6M223.9,192.2h0.6M224.4,201.6h0.6M220.1,198.2h0.6M225.4,184.0h0.6M224.5,201.7h0.6M224.3,197.9h0.6M226.3,191.3h0.6M221.3,203.6h0.6M225.5,202.8h0.6M221.7,193.5h0.6M222.1,191.4h0.6M223.0,204.1h0.6M222.9,202.6h0.6M223.9,189.4h0.6M220.6,188.0h0.6M221.6,201.4h0.6M223.4,201.6h0.6M220.5,198.4h0.6M224.1,192.4h0.6M224.5,203.1h0.6M219.7,197.8h0.6M221.6,189.2h0.6M224.7,192.3h0.6M228.3,191.6h0.6M223.6,201.8h0.6M226.8,199.6h0.6M222.0,197.6h0.6M221.7,188.1h0.6M223.8,197.2h0.6M220.9,202.7h0.6M227.6,184.7h0.6M224.6,192.7h0.6M222.7,196.4h0.6M224.2,192.0h0.6M222.6,203.3h0.6M226.4,189.9h0.6M225.8,195.3h0.6M222.3,198.7h0.6M225.2,185.6h0.6M222.5,196.3h0.6M226.5,197.3h0.6M222.7,196.7h0.6M223.1,190.1h0.6M222.9,203.2h0.6M225.6,196.6h0.6M222.8,192.2h0.6M224.0,198.4h0.6M224.6,199.9h0.6M227.5,186.9h0.6M229.4,177.0h0.6M225.8,203.6h0.6M224.6,204.3h0.6M223.0,202.2h0.6M220.3,197.5h0.6M225.5,202.4h0.6M228.1,167.2h0.6M224.5,192.9h0.6M225.0,202.5h0.6M219.7,199.9h0.6M223.5,192.5h0.6M221.8,202.7h0.6M225.3,203.7h0.6M229.4,167.2h0.6M224.9,192.8h0.6M222.4,204.5h0.6M223.3,200.1h0.6M224.9,195.6h0.6M223.7,194.1h0.6M221.0,199.8h0.6M223.2,196.9h0.6M224.2,189.7h0.6M227.1,187.3h0.6M226.5,198.5h0.6M224.5,197.6h0.6M222.6,192.1h0.6M223.1,203.6h0.6M223.5,192.8h0.6M225.8,190.8h0.6M223.5,193.4h0.6M226.8,193.3h0.6M224.7,197.8h0.6M223.5,192.9h0.6M223.7,198.5h0.6M221.5,194.5h0.6M224.6,192.4h0.6M225.6,202.6h0.6M226.4,181.4h0.6M226.3,190.2h0.6M223.7,195.8h0.6M224.3,185.7h0.6M221.4,197.7h0.6M223.6,196.3h0.6M225.6,196.4h0.6M221.5,201.1h0.6M222.1,200.3h0.6M222.4,198.6h0.6M223.7,193.5h0.6M222.9,198.1h0.6M225.0,187.0h0.6M224.4,197.5h0.6M221.3,197.4h0.6M222.6,187.8h0.6M222.9,196.4h0.6M226.5,182.2h0.6M223.8,184.9h0.6M224.9,195.7h0.6M224.9,181.1h0.6M222.1,201.1h0.6M222.3,202.1h0.6M224.8,172.9h0.6M221.1,203.1h0.6M222.0,200.0h0.6M221.5,197.1h0.6M226.3,177.8h0.6M226.6,182.3h0.6M221.2,198.4h0.6M222.2,198.9h0.6M222.7,195.2h0.6M224.1,193.2h0.6M223.2,200.2h0.6M222.3,200.0h0.6M224.2,199.1h0.6M226.7,200.0h0.6M223.3,182.9h0.6M224.1,190.8h0.6M221.4,201.6h0.6M223.8,183.5h0.6M221.2,203.5h0.6M227.8,180.4h0.6M223.8,187.8h0.6M222.2,200.0h0.6M221.1,200.0h0.6M220.9,201.3h0.6M227.7,194.7h0.6M225.6,200.9h0.6M221.8,199.8h0.6M221.3,200.1h0.6M223.6,203.4h0.6M223.4,192.8h0.6M224.2,189.5h0.6M225.7,183.5h0.6M218.9,203.4h0.6M223.9,199.3h0.6M226.2,193.0h0.6" stroke="#444" stroke-width="0.6" fill="none" opacity="0.8"/>
<path d="M232.4,206.7h0.6M242.7,186.1h0.6M235.9,192.1h0.6M235.0,210.6h0.6M241.5,203.7h0.6M234.0,207.1h0.6M237.1,196.5h0.6M222.7,234.1h0.6M225.2,201.2h0.6M235.0,191.5h0.6M224.1,207.3h0.6M218.1,223.6h0.6M223.5,211.0h0.6M232.9,200.2h0.6M239.4,187.8h0.6M246.6,196.9h0.6M228.8,206.3h0.6M222.6,210.5h0.6M240.9,190.2h0.6M233.1,189.5h0.6M247.3,200.5h0.6M233.6,193.8h0.6M229.7,197.2h0.6M249.9,188.3h0.6M247.3,194.8h0.6M254.0,188.9h0.6M225.4,220.9h0.6M239.1,197.8h0.6M240.9,199.6h0.6M233.4,210.7h0.6M243.5,193.8h0.6M237.4,199.5h0.6M228.6,177.5h0.6M251.6,185.0h0.6M242.6,187.3h0.6M258.7,183.7h0.6M231.4,205.3h0.6M224.8,211.1h0.6M228.8,214.4h0.6M227.6,196.7h0.6M230.8,199.7h0.6M238.2,192.6h0.6M245.1,172.5h0.6M225.5,199.3h0.6M221.1,219.8h0.6M227.9,192.3h0.6M225.6,198.2h0.6M246.3,188.4h0.6M229.5,199.5h0.6M231.3,196.0h0.6M221.4,228.4h0.6M227.1,227.6h0.6M238.6,194.0h0.6M236.1,201.2h0.6M229.4,203.9h0.6M230.5,201.9h0.6M230.9,215.0h0.6M243.3,188.6h0.6M237.6,188.5h0.6M222.6,222.8h0.6M225.2,213.6h0.6M227.8,210.8h0.6M246.9,194.8h0.6M249.2,177.4h0.6M228.4,201.8h0.6M224.5,215.3h0.6M223.6,203.0h0.6M239.8,191.8h0.6M236.3,195.5h0.6M246.9,193.3h0.6M243.0,195.2h0.6M243.2,193.2h0.6M252.6,192.6h0.6M240.5,199.2h0.6M228.4,222.8h0.6M243.3,187.1h0.6M238.3,192.2h0.6M228.6,194.3h0.6M240.7,202.4h0.6M232.9,203.1h0.6M238.7,201.1h0.6M253.2,188.0h0.6M240.0,197.6h0.6M225.0,208.1h0.6M228.2,214.5h0.6M252.5,178.8h0.6M230.1,201.2h0.6M221.1,215.5h0.6M234.5,184.6h0.6M254.9,186.5h0.6M242.6,202.4h0.6M227.1,209.4h0.6M233.8,196.3h0.6M225.3,197.8h0.6M254.4,198.9h0.6M232.6,204.5h0.6M230.7,190.6h0.6M226.9,202.3h0.6M252.9,173.7h0.6M226.8,218.6h0.6M223.2,232.2h0.6M247.9,179.5h0.6M222.2,233.0h0.6M238.3,202.5h0.6M226.6,206.1h0.6M241.7,196.0h0.6M242.7,198.0h0.6M249.8,194.6h0.6M238.3,189.0h0.6M222.0,225.0h0.6M246.0,188.1h0.6M253.3,181.4h0.6M257.0,176.5h0.6M238.3,197.0h0.6M229.5,193.2h0.6M241.0,199.3h0.6M246.6,235.4h0.6M227.7,230.0h0.6M226.6,192.0h0.6M221.6,207.0h0.6M230.7,201.0h0.6M247.9,197.8h0.6M233.6,188.2h0.6M246.2,180.0h0.6M237.8,212.7h0.6M245.2,192.7h0.6M244.9,183.4h0.6M246.9,180.9h0.6M226.5,210.3h0.6M249.4,191.5h0.6M223.0,231.1h0.6M224.2,222.1h0.6M236.7,214.4h0.6M241.5,213.3h0.6M256.9,196.4h0.6M247.0,190.6h0.6M230.0,204.4h0.6M241.4,219.1h0.6M220.7,216.0h0.6M229.9,203.9h0.6M230.5,202.7h0.6M242.5,190.8h0.6M240.9,192.7h0.6M228.2,212.7h0.6M250.0,180.0h0.6M236.0,196.7h0.6M242.4,202.6h0.6M229.1,202.1h0.6M235.6,200.1h0.6M235.2,187.4h0.6M219.8,203.7h0.6M221.6,200.7h0.6M221.5,213.5h0.6M233.1,178.6h0.6M228.8,200.7h0.6M232.4,189.4h0.6M217.8,210.5h0.6M243.1,184.7h0.6M234.5,207.8h0.6M223.5,188.0h0.6M227.4,207.6h0.6M222.4,191.4h0.6M238.4,210.5h0.6M236.9,194.5h0.6M236.2,191.3h0.6M245.7,200.7h0.6M229.7,199.1h0.6M248.2,181.1h0.6M221.7,221.9h0.6M235.8,210.1h0.6M222.4,205.8h0.6M230.9,206.3h0.6M240.7,190.8h0.6M219.4,225.1h0.6M231.3,209.9h0.6M244.4,194.3h0.6M232.9,198.4h0.6M221.0,218.8h0.6M224.0,214.0h0.6M224.6,195.6h0.6M241.3,180.5h0.6M231.6,187.4h0.6M237.9,174.4h0.6M238.0,179.1h0.6M226.8,194.9h0.6M220.3,216.4h0.6M232.8,199.4h0.6M224.9,215.2h0.6M233.7,195.9h0.6M223.2,212.2h0.6M241.8,205.7h0.6M236.9,191.9h0.6M235.2,212.3h0.6M252.1,187.6h0.6M234.3,196.1h0.6M222.0,196.8h0.6M235.9,198.2h0.6M245.5,202.7h0.6M234.4,188.9h0.6M245.7,193.7h0.6M241.6,205.3h0.6M237.6,201.9h0.6M220.3,212.0h0.6M248.8,175.2h0.6M220.0,206.6h0.6M239.2,198.2h0.6M235.5,193.0h0.6M245.9,186.9h0.6M238.6,179.8h0.6M249.4,192.4h0.6M227.5,213.5h0.6M230.8,202.0h0.6M222.6,214.5h0.6M233.6,197.9h0.6M238.8,229.2h0.6M239.8,187.4h0.6M244.4,209.3h0.6M218.3,229.7h0.6M232.8,191.1h0.6M249.1,198.6h0.6M261.6,184.1h0.6M234.8,204.7h0.6M245.3,175.2h0.6M236.5,199.9h0.6M226.6,205.5h0.6M244.8,187.6h0.6M234.6,201.4h0.6M234.0,195.5h0.6M241.1,199.7h0.6M221.0,220.1h0.6M239.4,196.7h0.6M235.8,209.7h0.6M223.4,232.9h0.6M227.0,204.0h0.6M250.4,188.1h0.6M231.2,215.0h0.6M222.5,221.8h0.6M231.8,196.6h0.6M235.5,198.1h0.6M230.6,198.0h0.6M240.6,198.1h0.6M236.6,188.4h0.6M235.6,210.3h0.6M229.6,196.9h0.6M255.5,199.0h0.6M225.4,205.5h0.6M237.2,201.4h0.6M226.7,219.7h0.6M224.0,206.5h0.6M245.2,201.2h0.6M232.4,193.4h0.6M217.1,212.5h0.6M246.9,233.4h0.6M238.0,193.9h0.6M232.0,210.7h0.6M248.0,199.6h0.6M232.9,190.8h0.6M235.2,192.4h0.6M243.4,190.0h0.6M232.4,189.1h0.6M230.0,191.0h0.6M226.0,204.9h0.6M243.0,197.3h0.6M245.5,192.3h0.6M232.0,199.0h0.6M251.6,191.2h0.6M244.0,193.0h0.6M244.0,206.7h0.6M225.6,227.8h0.6M230.7,200.3h0.6M223.3,204.4h0.6M237.7,200.7h0.6M238.2,194.1h0.6M222.7,220.2h0.6M222.6,224.5h0.6M236.4,200.2h0.6M242.9,201.5h0.6M239.0,204.0h0.6M222.4,211.8h0.6M225.4,187.6h0.6M237.4,200.0h0.6M221.7,216.7h0.6M223.8,202.6h0.6M243.3,200.5h0.6M220.5,226.6h0.6M246.7,197.7h0.6M242.0,190.8h0.6M244.2,190.9h0.6M247.1,194.5h0.6M236.5,193.2h0.6M238.3,191.8h0.6M233.5,190.5h0.6M227.7,217.0h0.6M238.8,235.3h0.6M224.3,228.6h0.6M238.7,223.3h0.6M222.9,208.2h0.6M240.4,192.0h0.6M222.4,212.1h0.6M230.3,210.6h0.6M242.7,187.4h0.6M216.6,221.6h0.6M235.5,197.4h0.6M254.8,186.6h0.6M224.0,219.7h0.6M226.2,203.4h0.6M230.2,191.8h0.6M242.7,186.6h0.6M236.7,190.5h0.6M241.3,189.0h0.6M264.0,190.0h0.6M240.8,197.2h0.6M220.5,209.9h0.6M226.7,217.2h0.6M235.8,199.0h0.6M245.0,226.2h0.6M222.8,216.7h0.6M228.7,205.2h0.6M223.0,209.2h0.6M240.0,187.2h0.6M242.6,200.1h0.6M219.0,206.9h0.6M213.4,218.0h0.6M244.6,189.6h0.6M246.2,193.4h0.6M242.9,185.9h0.6M221.1,206.8h0.6M221.1,231.3h0.6M225.7,203.8h0.6M224.5,225.4h0.6M226.1,198.2h0.6M240.2,197.0h0.6M231.0,190.3h0.6M218.4,218.0h0.6M231.9,188.6h0.6M224.7,209.2h0.6M246.2,193.6h0.6M230.6,207.2h0.6M233.9,205.1h0.6M240.4,192.4h0.6M231.9,193.2h0.6M229.0,200.0h0.6M253.8,181.2h0.6M224.4,220.3h0.6M255.8,184.0h0.6M223.1,225.1h0.6M235.4,189.0h0.6M246.3,202.1h0.6M224.0,215.9h0.6M248.9,183.2h0.6M240.2,195.5h0.6M253.3,186.5h0.6M222.9,213.5h0.6M225.5,200.7h0.6M233.8,202.6h0.6M222.2,197.9h0.6M236.5,206.1h0.6M227.1,212.0h0.6M232.4,193.6h0.6M231.6,201.3h0.6M246.2,192.7h0.6M229.9,197.6h0.6M248.2,192.8h0.6M239.2,205.2h0.6M230.6,204.0h0.6M242.5,205.4h0.6M241.3,201.1h0.6M225.4,212.9h0.6M242.6,198.1h0.6M233.6,191.3h0.6M231.2,211.0h0.6M245.5,219.2h0.6M246.0,186.0h0.6M235.2,202.8h0.6M240.2,187.9h0.6M229.5,206.4h0.6M243.9,196.3h0.6M236.8,196.4h0.6M235.4,199.3h0.6M248.4,200.2h0.6M237.5,201.5h0.6M239.9,201.1h0.6M224.2,207.0h0.6M221.9,215.8h0.6M243.2,195.7h0.6M236.9,186.5h0.6M250.3,206.8h0.6M222.3,221.1h0.6M222.3,232.1h0.6M230.0,196.9h0.6M222.4,222.5h0.6M233.8,177.7h0.6M231.7,195.5h0.6M262.7,183.2h0.6M229.4,198.9h0.6M224.8,216.2h0.6M248.0,195.5h0.6M232.4,200.7h0.6M224.6,222.2h0.6M228.3,204.3h0.6M226.2,189.5h0.6M253.5,184.0h0.6M237.8,199.9h0.6M236.0,193.0h0.6M239.2,183.8h0.6M225.2,194.4h0.6M248.8,194.8h0.6M242.4,194.8h0.6M245.7,193.7h0.6M228.6,202.0h0.6M225.6,222.8h0.6M239.2,181.3h0.6M216.9,215.9h0.6M243.9,193.8h0.6M239.6,188.6h0.6M233.5,199.0h0.6M234.1,184.9h0.6M222.1,223.1h0.6M221.7,211.8h0.6M252.2,194.2h0.6M236.5,189.8h0.6M224.1,208.1h0.6M219.6,228.8h0.6M240.4,182.2h0.6M236.0,202.6h0.6M223.8,212.5h0.6M254.3,199.5h0.6M236.1,187.7h0.6M228.7,202.6h0.6M257.1,186.4h0.6M249.6,193.4h0.6M235.5,185.8h0.6M223.1,205.7h0.6M235.8,192.8h0.6M235.5,193.0h0.6M243.7,181.6h0.6M231.7,202.6h0.6M225.1,184.3h0.6M231.6,192.2h0.6M218.2,231.5h0.6M229.6,207.1h0.6M214.2,215.3h0.6M243.1,182.3h0.6M238.0,191.5h0.6M226.6,191.6h0.6M248.3,184.6h0.6M240.8,195.0h0.6M237.7,201.6h0.6M256.6,185.5h0.6M219.4,215.9h0.6M229.4,199.3h0.6M240.0,198.9h0.6M224.5,220.9h0.6M246.2,193.5h0.6M236.7,174.5h0.6M238.6,196.6h0.6M248.0,188.9h0.6M228.1,195.8h0.6M240.0,206.4h0.6M230.8,193.3h0.6M238.1,197.7h0.6M231.9,197.9h0.6M227.9,208.2h0.6M220.7,219.4h0.6M223.6,185.6h0.6M244.7,189.0h0.6M233.1,197.9h0.6M218.9,233.9h0.6M238.2,200.1h0.6M240.4,191.1h0.6M223.5,206.2h0.6M226.6,202.5h0.6M246.9,186.4h0.6M221.5,208.2h0.6M222.7,222.9h0.6M217.0,207.3h0.6M228.0,197.5h0.6M226.5,220.0h0.6M221.7,218.4h0.6M245.0,201.6h0.6" stroke="#666" stroke-width="0.6" fill="none" opacity="0.8"/>
<path d="M212.00,163.70H257.00" stroke="#444" stroke-width="0.9" fill="none"/>
<path d="M212.00,163.60V217.40H225.40V163.60M257.00,163.60V204.20L225.40,217.70" stroke="#4a4a4a" stroke-width="0.65" fill="none"/>
<text x="219.20" y="190.40" font-size="5.4" text-anchor="middle" fill="#000" textLength="13.2" lengthAdjust="spacingAndGlyphs" stroke="#000" stroke-width="0.3" >63,92</text>
<text x="241.00" y="190.40" font-size="5.4" text-anchor="middle" fill="#000" textLength="13.4" lengthAdjust="spacingAndGlyphs" stroke="#000" stroke-width="0.3" >20,24</text>
<text x="243.40" y="261.70" font-size="7.4" text-anchor="middle" fill="#111" textLength="45.4" lengthAdjust="spacingAndGlyphs" stroke="#111" stroke-width="0.3" >DNA content</text>
<text x="243.20" y="148.80" font-size="7.5" text-anchor="middle" fill="#111" textLength="42.1" lengthAdjust="spacingAndGlyphs" stroke="#111" stroke-width="0.3" >IgG Control</text>
<text x="243.20" y="158.90" font-size="7.5" text-anchor="middle" fill="#111" textLength="35.7" lengthAdjust="spacingAndGlyphs" stroke="#111" stroke-width="0.3" >+ CXCL12</text>
<path d="M87.90,297.70H168.60V378.30" stroke="#8a8a8a" stroke-width="0.6" fill="none"/>
<path d="M87.90,297.70V378.30H168.60" stroke="#555" stroke-width="0.7" fill="none"/>
<path d="M85.90,378.30H87.90M86.90,376.76H87.90M86.90,375.22H87.90M86.90,373.68H87.90M86.90,372.14H87.90M86.90,370.60H87.90M86.90,369.06H87.90M86.90,367.52H87.90M86.90,365.98H87.90M86.90,364.44H87.90M85.90,362.91H87.90M86.90,361.37H87.90M86.90,359.83H87.90M86.90,358.29H87.90M86.90,356.75H87.90M86.90,355.21H87.90M86.90,353.67H87.90M86.90,352.13H87.90M86.90,350.59H87.90M86.90,349.05H87.90M85.90,347.51H87.90M86.90,345.97H87.90M86.90,344.43H87.90M86.90,342.89H87.90M86.90,341.35H87.90M86.90,339.81H87.90M86.90,338.27H87.90M86.90,336.73H87.90M86.90,335.20H87.90M86.90,333.66H87.90M85.90,332.12H87.90M86.90,330.58H87.90M86.90,329.04H87.90M86.90,327.50H87.90M86.90,325.96H87.90M86.90,324.42H87.90M86.90,322.88H87.90M86.90,321.34H87.90M86.90,319.80H87.90M86.90,318.26H87.90M85.90,316.72H87.90M86.90,315.18H87.90M86.90,313.64H87.90M86.90,312.10H87.90M86.90,310.56H87.90M86.90,309.02H87.90M86.90,307.48H87.90M86.90,305.95H87.90M86.90,304.41H87.90M86.90,302.87H87.90M85.90,301.33H87.90M87.90,378.30V380.30M89.44,378.30V379.30M90.98,378.30V379.30M92.52,378.30V379.30M94.07,378.30V379.30M95.61,378.30V379.30M97.15,378.30V379.30M98.69,378.30V379.30M100.23,378.30V379.30M101.77,378.30V379.30M103.31,378.30V380.30M104.86,378.30V379.30M106.40,378.30V379.30M107.94,378.30V379.30M109.48,378.30V379.30M111.02,378.30V379.30M112.56,378.30V379.30M114.10,378.30V379.30M115.64,378.30V379.30M117.19,378.30V379.30M118.73,378.30V380.30M120.27,378.30V379.30M121.81,378.30V379.30M123.35,378.30V379.30M124.89,378.30V379.30M126.43,378.30V379.30M127.98,378.30V379.30M129.52,378.30V379.30M131.06,378.30V379.30M132.60,378.30V379.30M134.14,378.30V380.30M135.68,378.30V379.30M137.22,378.30V379.30M138.77,378.30V379.30M140.31,378.30V379.30M141.85,378.30V379.30M143.39,378.30V379.30M144.93,378.30V379.30M146.47,378.30V379.30M148.01,378.30V379.30M149.55,378.30V380.30M151.10,378.30V379.30M152.64,378.30V379.30M154.18,378.30V379.30M155.72,378.30V379.30M157.26,378.30V379.30M158.80,378.30V379.30M160.34,378.30V379.30M161.89,378.30V379.30M163.43,378.30V379.30M164.97,378.30V380.30" stroke="#555" stroke-width="0.45" fill="none"/>
<text x="84.30" y="364.01" font-size="3.2" text-anchor="end" fill="#666" >200</text>
<text x="103.31" y="384.60" font-size="3.2" text-anchor="middle" fill="#666" >200</text>
<text x="84.30" y="348.61" font-size="3.2" text-anchor="end" fill="#666" >400</text>
<text x="118.73" y="384.60" font-size="3.2" text-anchor="middle" fill="#666" >400</text>
<text x="84.30" y="333.22" font-size="3.2" text-anchor="end" fill="#666" >600</text>
<text x="134.14" y="384.60" font-size="3.2" text-anchor="middle" fill="#666" >600</text>
<text x="84.30" y="317.82" font-size="3.2" text-anchor="end" fill="#666" >800</text>
<text x="149.55" y="384.60" font-size="3.2" text-anchor="middle" fill="#666" >800</text>
<text x="84.30" y="302.43" font-size="3.2" text-anchor="end" fill="#666" >1000</text>
<text x="164.97" y="384.60" font-size="3.2" text-anchor="middle" fill="#666" >1000</text>
<path d="M106.0,358.0h0.8M106.6,355.8h0.8M105.5,358.1h0.8M107.0,356.3h0.8M107.7,350.5h0.8M105.9,363.5h0.8M107.6,348.8h0.8M105.9,360.0h0.8M104.4,367.3h0.8M105.0,357.5h0.8M106.1,354.9h0.8M104.7,363.6h0.8M108.8,355.2h0.8M107.6,352.7h0.8M106.0,358.9h0.8M106.7,353.5h0.8M107.8,355.8h0.8M105.4,360.3h0.8M106.9,355.5h0.8M106.0,357.5h0.8M108.3,357.7h0.8M105.9,352.0h0.8M106.7,357.0h0.8M105.3,356.7h0.8M106.6,357.6h0.8M106.4,359.6h0.8M103.5,365.6h0.8M107.0,356.8h0.8M106.0,357.6h0.8M107.7,356.6h0.8M107.1,353.9h0.8M107.3,359.0h0.8M107.8,355.3h0.8M105.6,358.0h0.8M106.1,356.3h0.8M108.1,353.1h0.8M105.8,365.1h0.8M108.4,352.5h0.8M105.4,358.7h0.8M108.2,353.8h0.8M105.5,356.7h0.8M105.8,362.7h0.8M105.4,360.0h0.8M107.9,355.7h0.8M104.6,364.4h0.8M107.4,352.4h0.8M107.0,358.5h0.8M104.6,361.0h0.8M108.1,357.3h0.8M107.2,353.5h0.8M106.8,353.4h0.8M104.2,361.1h0.8M107.6,356.3h0.8M106.8,355.8h0.8M107.3,358.8h0.8M105.1,357.0h0.8M106.8,352.1h0.8M106.8,355.7h0.8M107.5,353.4h0.8M107.6,352.7h0.8M105.8,358.7h0.8M106.2,354.6h0.8M106.9,353.7h0.8M105.1,360.3h0.8M108.2,358.0h0.8M107.1,354.3h0.8M107.8,360.7h0.8M106.4,358.1h0.8M107.6,358.9h0.8M106.2,356.4h0.8M105.7,356.3h0.8M105.7,360.9h0.8M105.8,367.7h0.8M106.8,349.8h0.8M104.9,357.4h0.8M106.9,356.5h0.8M105.8,354.2h0.8M105.5,359.2h0.8M108.6,358.4h0.8M106.4,357.8h0.8M107.0,359.1h0.8M109.4,348.1h0.8M106.5,351.4h0.8M107.3,353.3h0.8M108.4,352.8h0.8M105.4,354.5h0.8M106.2,356.5h0.8M106.9,355.5h0.8M105.7,353.1h0.8M106.0,359.8h0.8M106.4,355.9h0.8M106.6,357.2h0.8M107.1,353.3h0.8M105.0,355.9h0.8M103.4,366.3h0.8M104.6,355.4h0.8M106.7,355.6h0.8M105.9,357.0h0.8M107.1,358.8h0.8M106.8,355.8h0.8M106.4,358.9h0.8M107.3,352.8h0.8M105.2,358.2h0.8M105.7,356.6h0.8M106.5,362.5h0.8M104.2,359.0h0.8M107.9,360.0h0.8M105.2,357.3h0.8M106.5,361.2h0.8M107.0,355.7h0.8M106.9,357.9h0.8M108.0,351.7h0.8M105.1,357.5h0.8M108.4,355.8h0.8M105.8,354.6h0.8M107.9,356.7h0.8M106.6,359.5h0.8M108.9,353.0h0.8M103.8,362.6h0.8M107.5,355.9h0.8M106.3,358.4h0.8M107.5,358.8h0.8M105.4,365.2h0.8M105.1,361.6h0.8M104.7,362.5h0.8M106.6,357.2h0.8M107.5,350.6h0.8M107.1,355.9h0.8M108.1,356.4h0.8M106.8,356.6h0.8M106.5,357.5h0.8M107.5,357.5h0.8M106.6,357.1h0.8M107.3,357.4h0.8M107.2,359.0h0.8M106.9,359.3h0.8M108.0,350.2h0.8M105.4,357.2h0.8M107.1,354.5h0.8M106.5,353.7h0.8M108.7,355.6h0.8M106.5,355.6h0.8M105.7,361.8h0.8M107.6,354.8h0.8M104.8,361.0h0.8M104.9,360.5h0.8M106.6,358.2h0.8M108.0,350.2h0.8M105.9,351.6h0.8M108.3,351.7h0.8M107.6,355.7h0.8M108.8,355.2h0.8M105.4,353.9h0.8M107.0,363.7h0.8M107.8,357.7h0.8M105.7,358.2h0.8M106.6,358.4h0.8M106.1,356.3h0.8M107.5,355.3h0.8M104.9,360.2h0.8M105.0,364.2h0.8M105.9,357.0h0.8M106.0,359.3h0.8M107.1,357.1h0.8M107.5,354.2h0.8M106.4,352.9h0.8M107.3,355.0h0.8M105.2,360.8h0.8M106.9,355.5h0.8M105.2,361.6h0.8M108.4,351.7h0.8M107.9,357.1h0.8M105.8,360.4h0.8M106.9,353.6h0.8M106.4,361.3h0.8M105.1,350.9h0.8M105.4,356.3h0.8M105.0,358.0h0.8M107.6,347.6h0.8M105.9,356.8h0.8M105.5,360.6h0.8M108.4,356.7h0.8M108.3,356.4h0.8M105.9,361.0h0.8M104.7,358.4h0.8M108.8,343.6h0.8M106.0,356.1h0.8M105.2,359.0h0.8M106.8,353.3h0.8M106.6,357.7h0.8M106.0,361.6h0.8M106.9,357.8h0.8M106.3,358.5h0.8M107.8,355.4h0.8M107.1,359.8h0.8M105.7,360.7h0.8M106.8,356.7h0.8M104.0,366.0h0.8M107.3,358.0h0.8M107.6,359.9h0.8M105.4,363.7h0.8M106.9,355.2h0.8M107.6,356.3h0.8M106.6,360.1h0.8M107.0,353.2h0.8M103.9,365.3h0.8M105.0,360.0h0.8M106.1,355.4h0.8M108.7,348.2h0.8M105.4,361.8h0.8M108.2,351.7h0.8M106.9,361.0h0.8M108.4,359.2h0.8M106.8,359.2h0.8M106.5,355.0h0.8M107.6,357.9h0.8M106.8,355.3h0.8M108.6,355.8h0.8M107.6,353.8h0.8M105.3,355.6h0.8M106.2,356.5h0.8M106.5,354.4h0.8M105.8,355.3h0.8M106.4,353.7h0.8M107.1,357.3h0.8M106.4,358.3h0.8M109.0,353.6h0.8M104.5,363.5h0.8M107.9,354.8h0.8M106.3,358.9h0.8M108.6,358.2h0.8M105.3,357.6h0.8M104.3,362.5h0.8M107.0,352.3h0.8M108.5,350.2h0.8M107.4,355.8h0.8M108.0,354.4h0.8M105.4,360.6h0.8M106.3,359.1h0.8M105.2,357.8h0.8M107.8,359.9h0.8M107.1,349.3h0.8M106.8,355.7h0.8M106.7,360.3h0.8M108.1,357.7h0.8M106.6,355.4h0.8M104.7,366.7h0.8M106.4,353.9h0.8M107.8,354.0h0.8M105.2,363.5h0.8M107.5,356.1h0.8M106.6,356.6h0.8M106.0,358.3h0.8M105.5,356.9h0.8M106.7,354.7h0.8M106.4,355.1h0.8M107.0,355.7h0.8M107.6,354.0h0.8M107.0,353.7h0.8M106.3,357.3h0.8M105.6,361.6h0.8M108.0,353.3h0.8M106.3,360.3h0.8M105.7,354.2h0.8M107.1,355.9h0.8M107.3,354.5h0.8M103.5,363.1h0.8M107.5,349.9h0.8M108.6,352.7h0.8M105.5,356.6h0.8M107.4,352.2h0.8M107.4,355.3h0.8M108.2,353.8h0.8M104.3,362.0h0.8M106.7,356.6h0.8M106.9,354.3h0.8M108.4,358.1h0.8M108.6,352.3h0.8M106.5,353.2h0.8M106.4,357.4h0.8M105.0,360.9h0.8M105.5,356.3h0.8M107.4,355.2h0.8M106.1,357.9h0.8M107.4,355.0h0.8M105.6,355.6h0.8M107.5,363.4h0.8M105.8,359.4h0.8M104.6,363.6h0.8M106.9,359.9h0.8M103.5,366.4h0.8M105.8,358.5h0.8M105.6,359.9h0.8M105.8,362.9h0.8M107.5,352.8h0.8M107.4,359.3h0.8M105.9,355.2h0.8M105.6,359.1h0.8M107.7,357.5h0.8M106.0,359.6h0.8M105.5,356.5h0.8M106.8,359.0h0.8M105.5,352.7h0.8M106.7,354.5h0.8M108.0,352.6h0.8M108.2,350.0h0.8M105.5,358.4h0.8M106.2,362.4h0.8M107.7,355.4h0.8M105.3,355.6h0.8M106.1,358.5h0.8M107.4,356.7h0.8M107.8,352.0h0.8M104.2,364.4h0.8M104.4,364.7h0.8M106.0,361.5h0.8M107.5,358.1h0.8M106.8,353.1h0.8M107.2,353.7h0.8M108.2,355.7h0.8M105.7,361.3h0.8M106.8,351.4h0.8M106.8,356.4h0.8M105.0,358.4h0.8M105.2,359.4h0.8M107.5,353.2h0.8M105.9,354.4h0.8M107.0,355.3h0.8M106.6,353.2h0.8M108.4,354.4h0.8M106.9,350.4h0.8M104.4,360.9h0.8M107.8,353.7h0.8M105.9,355.7h0.8M108.9,352.9h0.8M106.4,357.2h0.8M107.8,352.9h0.8M107.1,352.2h0.8M106.5,355.8h0.8M105.9,359.1h0.8M106.9,358.2h0.8M106.4,358.2h0.8M104.8,359.8h0.8M106.6,351.8h0.8M108.7,350.7h0.8M104.4,365.3h0.8M106.3,358.6h0.8M105.9,357.7h0.8M107.3,352.6h0.8M106.5,353.5h0.8M107.4,359.9h0.8M105.3,357.9h0.8M107.5,357.9h0.8M105.8,357.6h0.8M107.9,355.0h0.8M106.1,357.8h0.8M108.9,358.9h0.8M108.1,358.1h0.8M106.9,357.7h0.8M105.4,364.5h0.8M106.3,356.9h0.8M105.0,358.4h0.8M105.7,362.5h0.8M106.1,359.4h0.8M106.0,357.7h0.8M107.9,360.1h0.8M105.3,361.0h0.8M105.3,358.0h0.8M106.8,360.7h0.8M107.3,353.8h0.8M109.5,345.5h0.8M106.6,352.5h0.8M108.9,353.5h0.8M108.1,358.8h0.8M104.9,359.8h0.8M105.8,357.1h0.8M105.9,354.6h0.8M104.7,356.5h0.8M107.6,357.4h0.8M106.7,358.1h0.8M106.2,353.0h0.8M105.8,361.7h0.8M106.5,356.1h0.8M107.1,360.8h0.8M105.5,361.3h0.8M107.2,357.4h0.8M105.5,358.6h0.8M107.1,349.7h0.8M106.9,354.2h0.8M106.2,358.8h0.8M106.7,358.1h0.8M104.9,366.3h0.8M105.7,356.7h0.8M108.6,358.9h0.8M108.4,350.5h0.8M106.4,356.2h0.8M107.0,352.0h0.8M106.7,360.2h0.8M105.2,360.5h0.8M106.0,351.6h0.8M106.6,357.4h0.8M105.3,355.9h0.8M106.1,357.9h0.8M108.8,350.3h0.8M106.9,360.0h0.8M106.9,354.7h0.8M106.1,357.9h0.8M104.9,362.6h0.8M108.6,354.0h0.8M107.4,350.3h0.8M104.7,354.5h0.8M105.2,357.9h0.8M105.5,353.8h0.8M104.8,360.7h0.8M107.6,355.8h0.8M107.7,360.7h0.8M105.9,356.4h0.8M106.8,355.8h0.8M107.4,354.2h0.8M109.1,349.4h0.8M106.9,359.6h0.8M106.1,354.2h0.8M105.3,359.7h0.8M105.6,366.1h0.8M107.6,358.1h0.8M106.3,359.1h0.8M108.0,354.6h0.8M105.8,355.8h0.8M108.8,349.3h0.8M109.0,352.5h0.8M107.9,352.1h0.8M107.5,355.5h0.8M106.4,362.7h0.8M106.3,360.7h0.8M106.6,360.9h0.8M108.6,359.3h0.8M107.2,356.5h0.8M105.7,360.3h0.8M106.3,357.3h0.8M105.4,358.5h0.8M106.7,354.3h0.8M106.4,360.1h0.8M105.9,360.0h0.8M105.3,358.8h0.8M105.6,357.8h0.8M106.1,361.7h0.8M105.0,357.9h0.8M106.5,358.6h0.8M107.2,355.6h0.8M107.3,356.3h0.8M105.5,358.7h0.8M106.6,354.8h0.8M107.2,357.2h0.8M108.4,353.9h0.8M105.8,359.5h0.8M105.6,354.8h0.8M106.3,361.7h0.8M105.3,359.1h0.8M107.6,354.3h0.8M106.9,353.7h0.8M106.1,358.1h0.8M104.8,355.7h0.8M106.8,359.7h0.8M106.0,359.9h0.8M107.1,356.7h0.8M105.2,358.6h0.8M107.5,348.0h0.8M106.0,350.6h0.8M106.5,356.7h0.8M109.8,350.6h0.8M106.2,353.4h0.8M105.3,359.9h0.8M106.5,359.0h0.8M105.8,359.9h0.8M108.9,352.0h0.8M104.4,363.6h0.8M107.6,358.7h0.8M108.2,358.6h0.8M108.2,356.0h0.8M105.7,360.1h0.8M107.8,353.5h0.8M105.1,363.8h0.8M107.3,356.5h0.8M107.8,359.7h0.8M108.1,356.8h0.8M106.9,355.6h0.8M105.2,358.0h0.8M107.9,354.1h0.8M106.8,353.7h0.8M105.5,360.6h0.8M106.4,358.2h0.8M106.3,353.4h0.8M106.9,359.0h0.8M109.3,354.2h0.8M106.1,355.0h0.8M105.1,360.7h0.8M106.9,356.9h0.8M105.9,357.2h0.8M106.4,357.7h0.8M107.0,355.0h0.8M104.9,359.8h0.8M107.5,351.7h0.8M106.4,357.7h0.8M107.0,353.0h0.8M106.5,356.4h0.8M106.0,354.8h0.8M107.7,356.5h0.8M107.9,352.9h0.8M108.3,356.3h0.8M108.4,354.8h0.8M104.7,361.2h0.8M106.8,354.2h0.8M105.4,358.5h0.8M106.4,351.5h0.8M105.3,356.5h0.8M108.6,358.1h0.8M107.7,348.2h0.8M107.5,361.0h0.8M104.3,359.8h0.8M105.8,355.6h0.8M106.7,362.5h0.8M105.1,359.5h0.8M106.5,356.4h0.8M107.4,353.1h0.8M108.7,351.5h0.8M108.8,350.9h0.8M107.1,356.9h0.8M105.1,356.7h0.8M106.5,361.4h0.8M104.2,365.4h0.8M105.7,361.7h0.8M106.1,360.8h0.8M106.0,357.7h0.8M103.9,359.7h0.8M105.4,356.6h0.8M106.7,358.2h0.8M107.9,353.4h0.8M106.2,351.5h0.8M108.5,354.9h0.8M105.8,355.5h0.8M106.3,355.5h0.8M107.2,359.6h0.8M105.4,357.5h0.8M108.0,359.8h0.8M106.7,360.2h0.8M107.8,356.6h0.8M105.5,357.9h0.8M105.2,359.2h0.8M108.5,347.8h0.8M107.6,358.4h0.8M106.8,354.7h0.8M107.2,354.9h0.8M108.9,353.3h0.8M106.3,358.2h0.8M107.6,357.9h0.8M107.6,355.8h0.8M106.6,353.7h0.8M108.0,356.8h0.8M107.9,353.9h0.8M106.0,358.0h0.8M105.8,360.1h0.8M105.2,357.0h0.8M106.6,352.8h0.8M107.3,356.3h0.8M104.5,358.7h0.8M107.6,353.7h0.8M107.5,358.2h0.8M106.2,353.7h0.8M104.8,357.0h0.8M107.7,358.2h0.8M106.8,360.2h0.8M105.3,362.4h0.8M108.8,354.0h0.8M107.6,355.6h0.8M105.4,350.5h0.8M107.3,363.5h0.8M108.7,348.3h0.8M106.9,356.9h0.8M106.0,356.9h0.8M106.4,357.1h0.8M107.7,354.8h0.8M107.8,353.7h0.8M107.3,360.8h0.8M104.9,366.6h0.8M106.3,355.8h0.8M106.8,350.2h0.8M105.3,361.2h0.8M107.6,355.7h0.8M107.3,356.8h0.8M105.5,359.5h0.8M105.4,356.4h0.8M106.3,356.3h0.8M106.1,354.4h0.8M105.7,358.8h0.8M105.4,358.2h0.8M105.1,357.8h0.8M107.6,355.3h0.8M106.4,357.1h0.8M105.1,360.1h0.8M105.6,357.7h0.8M106.0,361.3h0.8M106.2,357.1h0.8M106.0,359.9h0.8M105.7,359.5h0.8M107.4,356.5h0.8M106.5,354.3h0.8M106.3,352.6h0.8M107.7,357.9h0.8M108.2,348.6h0.8M106.0,358.3h0.8M105.6,361.4h0.8M105.6,358.4h0.8M106.6,352.7h0.8M108.5,351.2h0.8M106.4,354.7h0.8M104.3,358.5h0.8M106.5,356.0h0.8M106.2,355.6h0.8M105.5,355.1h0.8M105.6,364.9h0.8M104.3,352.7h0.8M107.1,352.4h0.8M105.0,357.4h0.8M106.6,360.7h0.8M106.1,359.7h0.8M108.4,358.0h0.8M105.9,353.7h0.8M105.2,358.6h0.8M105.0,361.9h0.8M107.3,353.2h0.8M106.9,354.7h0.8M106.4,358.6h0.8M108.4,357.7h0.8M108.1,350.8h0.8M105.1,354.6h0.8M108.8,357.9h0.8M106.8,360.0h0.8M107.0,352.7h0.8M106.0,357.8h0.8M107.1,354.3h0.8M108.7,351.9h0.8M109.0,357.6h0.8M105.8,358.1h0.8M105.6,357.8h0.8M106.2,358.5h0.8M105.6,353.6h0.8M104.9,361.9h0.8M106.8,358.2h0.8M107.5,360.1h0.8M106.0,358.9h0.8M107.7,357.1h0.8M106.8,356.0h0.8M106.4,359.0h0.8M106.5,355.6h0.8M104.8,356.8h0.8M107.4,359.2h0.8M107.4,352.0h0.8M106.9,365.0h0.8M108.9,358.1h0.8M107.3,358.7h0.8M107.5,359.5h0.8M106.3,352.8h0.8M110.1,353.0h0.8M105.3,357.7h0.8M106.4,356.0h0.8M104.6,362.2h0.8M105.3,355.9h0.8M107.7,353.3h0.8M107.8,358.0h0.8M106.6,360.5h0.8M105.4,361.8h0.8M106.5,354.7h0.8M107.1,357.6h0.8M108.8,351.9h0.8M106.6,355.4h0.8M107.3,362.5h0.8M105.7,350.1h0.8M107.1,354.0h0.8M107.3,354.6h0.8M106.4,357.8h0.8M107.7,357.4h0.8M105.9,357.9h0.8M107.6,354.9h0.8M107.1,355.6h0.8M108.6,352.1h0.8M106.5,356.3h0.8M105.2,354.4h0.8M105.6,358.8h0.8M106.3,356.4h0.8M108.9,348.5h0.8M109.0,356.1h0.8M106.3,357.0h0.8M108.2,352.9h0.8M108.3,354.0h0.8M105.7,358.3h0.8M106.2,359.6h0.8M106.2,353.4h0.8M104.9,358.7h0.8M108.6,350.2h0.8M105.5,356.1h0.8M105.3,360.6h0.8M105.4,356.7h0.8M107.6,358.1h0.8M106.7,357.1h0.8M105.0,364.4h0.8M105.8,357.5h0.8M105.6,362.0h0.8M105.4,360.6h0.8M105.5,362.7h0.8M106.3,353.7h0.8M105.3,355.7h0.8M107.5,355.1h0.8M107.2,358.6h0.8M106.0,360.2h0.8M107.6,351.1h0.8M107.0,361.2h0.8M106.6,355.1h0.8M103.6,363.2h0.8M107.0,362.7h0.8M105.9,355.9h0.8M108.7,353.3h0.8M106.5,360.1h0.8M105.9,363.0h0.8M106.4,350.4h0.8M106.0,356.8h0.8M106.6,357.4h0.8M107.6,356.3h0.8M107.9,355.5h0.8M108.3,353.7h0.8M106.5,359.5h0.8M105.5,358.3h0.8M108.1,350.2h0.8M104.6,356.6h0.8M107.2,358.0h0.8M105.9,357.7h0.8M107.2,351.8h0.8M106.3,358.2h0.8M107.4,358.1h0.8M106.9,355.1h0.8M106.1,358.3h0.8M107.4,351.1h0.8M105.5,354.5h0.8M107.4,356.1h0.8M107.7,352.7h0.8M107.2,355.1h0.8M109.2,353.7h0.8M105.9,356.2h0.8M106.8,355.0h0.8M107.7,355.0h0.8M106.2,356.5h0.8M105.6,355.8h0.8M105.9,356.0h0.8M107.0,355.5h0.8M105.3,357.6h0.8M105.9,356.8h0.8M107.1,357.7h0.8M105.9,353.5h0.8M108.5,354.0h0.8M107.6,353.2h0.8M108.2,357.7h0.8M104.9,357.9h0.8M106.9,356.8h0.8M104.7,360.5h0.8M107.9,350.2h0.8M106.5,354.2h0.8M105.4,362.4h0.8M106.8,352.3h0.8M105.3,363.3h0.8M106.4,358.1h0.8M105.6,360.7h0.8M107.1,359.1h0.8M107.5,356.7h0.8M104.5,356.9h0.8M105.8,364.0h0.8M108.0,354.2h0.8M104.8,357.0h0.8M106.6,358.9h0.8M107.1,352.2h0.8M105.5,358.9h0.8M108.1,353.7h0.8M106.6,363.7h0.8M104.6,360.1h0.8M104.9,362.5h0.8M110.5,349.4h0.8M105.1,361.3h0.8M107.1,356.6h0.8M104.7,358.5h0.8M105.7,358.4h0.8M105.6,363.4h0.8M104.0,361.9h0.8M108.4,351.9h0.8M107.6,352.0h0.8M106.2,358.5h0.8M106.4,362.0h0.8M106.4,356.1h0.8M105.3,363.6h0.8M109.0,351.6h0.8M106.8,353.9h0.8M107.2,356.7h0.8M107.7,356.6h0.8M103.9,359.0h0.8M104.1,365.4h0.8M106.3,362.0h0.8M107.3,353.3h0.8M107.0,355.2h0.8M106.2,356.4h0.8M107.5,358.7h0.8M106.4,358.0h0.8M108.3,353.1h0.8M106.6,358.5h0.8M106.0,360.7h0.8M106.8,356.0h0.8M107.0,356.6h0.8M104.2,365.8h0.8M106.1,356.7h0.8M105.7,360.4h0.8M107.4,351.4h0.8M105.7,359.3h0.8M106.3,361.3h0.8M106.8,360.7h0.8M107.7,354.0h0.8M107.1,353.4h0.8M105.4,363.2h0.8M105.5,354.6h0.8M106.8,361.6h0.8M108.1,355.8h0.8M107.1,354.7h0.8M107.7,355.7h0.8M106.3,357.1h0.8M106.5,355.9h0.8M107.4,348.5h0.8M104.4,362.2h0.8M106.8,353.3h0.8M106.5,356.5h0.8M105.4,355.8h0.8M106.1,356.7h0.8M107.9,353.4h0.8M104.8,361.3h0.8M108.1,355.3h0.8M106.9,354.3h0.8M105.0,352.7h0.8M105.3,358.8h0.8M106.5,360.8h0.8M107.0,356.1h0.8M107.1,357.6h0.8M106.5,354.2h0.8M106.3,353.6h0.8M106.4,350.6h0.8M105.3,357.9h0.8M107.9,357.2h0.8M107.8,360.0h0.8M107.8,352.2h0.8M107.1,359.3h0.8M104.0,367.0h0.8M107.1,353.7h0.8M107.5,348.2h0.8M105.5,361.7h0.8M108.6,355.3h0.8M105.6,363.3h0.8M106.7,352.5h0.8M105.1,358.5h0.8M107.9,354.5h0.8M107.2,355.0h0.8M107.1,353.5h0.8M107.8,354.7h0.8M107.9,352.6h0.8M107.3,356.9h0.8M103.9,362.3h0.8M107.7,351.4h0.8M105.3,360.7h0.8M106.5,357.6h0.8M107.0,360.0h0.8M108.2,363.6h0.8M107.5,361.2h0.8M105.4,354.4h0.8M105.8,361.4h0.8M106.3,356.0h0.8M106.7,357.1h0.8M105.9,361.2h0.8M107.4,348.9h0.8M106.6,360.8h0.8M108.4,352.5h0.8M106.1,359.3h0.8M106.5,356.3h0.8M107.9,355.8h0.8M106.9,355.1h0.8M108.2,358.1h0.8M107.7,361.8h0.8M107.1,354.5h0.8M107.9,360.1h0.8M108.2,352.9h0.8M106.2,349.3h0.8M106.3,356.7h0.8M106.2,359.7h0.8M107.4,355.2h0.8M105.2,357.3h0.8M107.5,355.2h0.8M108.9,349.6h0.8M105.5,356.8h0.8M107.7,347.2h0.8" stroke="#0a0a0a" stroke-width="0.8" fill="none"/>
<path d="M109.1,350.1h0.6M110.8,346.4h0.6M108.6,339.5h0.6M105.8,349.8h0.6M111.0,345.4h0.6M107.9,348.6h0.6M108.7,345.5h0.6M105.7,351.9h0.6M107.1,342.0h0.6M109.8,336.1h0.6M110.0,323.5h0.6M106.7,348.4h0.6M113.9,329.9h0.6M113.7,326.1h0.6M109.5,335.1h0.6M109.7,335.8h0.6M105.2,351.6h0.6M108.2,351.7h0.6M105.7,351.6h0.6M111.0,341.2h0.6M108.9,351.8h0.6M108.1,339.6h0.6M104.4,351.7h0.6M110.5,339.7h0.6M110.0,341.7h0.6M104.8,347.1h0.6M111.0,347.0h0.6M107.7,352.2h0.6M106.3,343.2h0.6M115.8,333.4h0.6M106.4,350.1h0.6M104.5,350.3h0.6M113.5,335.1h0.6M109.6,343.2h0.6M110.9,341.5h0.6M109.1,341.9h0.6M111.3,335.9h0.6M105.6,348.1h0.6M113.1,332.8h0.6M108.7,345.8h0.6M110.6,336.4h0.6M108.9,343.4h0.6M107.6,351.4h0.6M114.2,320.8h0.6M107.6,348.8h0.6M107.3,343.7h0.6M111.0,328.6h0.6M107.8,332.7h0.6M106.2,340.1h0.6M112.7,335.2h0.6M113.0,340.9h0.6M104.8,343.1h0.6M105.8,351.8h0.6M111.0,330.3h0.6M110.8,337.8h0.6M109.7,333.8h0.6M111.0,343.3h0.6M106.0,351.1h0.6M106.2,340.4h0.6M110.8,342.1h0.6M112.1,328.3h0.6M109.0,351.4h0.6M111.6,338.3h0.6M114.9,333.2h0.6M111.1,331.8h0.6M108.1,350.0h0.6M111.1,340.2h0.6M115.4,322.8h0.6M108.6,340.2h0.6M109.3,343.1h0.6M111.2,343.2h0.6M110.3,346.0h0.6M109.9,350.7h0.6M106.6,346.3h0.6M105.1,352.1h0.6M111.6,336.5h0.6M111.6,331.1h0.6M108.8,341.4h0.6M107.4,346.9h0.6M107.4,351.7h0.6M106.9,345.9h0.6M110.6,338.2h0.6M109.4,346.2h0.6M106.4,345.7h0.6M109.6,343.0h0.6M108.6,342.9h0.6M110.3,348.4h0.6M114.2,331.4h0.6M108.5,345.8h0.6M108.6,351.5h0.6M109.7,342.8h0.6M106.5,339.8h0.6M108.0,349.9h0.6M109.9,344.3h0.6M110.4,343.7h0.6M111.9,339.4h0.6M112.7,317.8h0.6M111.5,336.6h0.6M111.2,341.0h0.6M108.7,332.3h0.6M109.1,347.7h0.6M108.8,336.1h0.6M106.8,352.0h0.6M107.5,350.4h0.6M104.8,350.1h0.6M107.6,352.1h0.6M102.3,346.5h0.6M107.9,343.4h0.6M112.1,341.9h0.6M109.3,340.5h0.6M114.3,345.7h0.6M110.5,340.2h0.6M111.3,345.3h0.6M109.8,338.2h0.6M107.5,344.3h0.6M112.5,332.4h0.6M110.7,331.3h0.6M105.6,345.2h0.6M110.4,324.5h0.6M109.3,340.0h0.6M110.3,336.9h0.6M107.5,352.3h0.6M109.3,341.5h0.6M107.7,350.4h0.6M112.2,338.7h0.6M106.8,343.2h0.6M108.5,346.9h0.6M106.9,341.5h0.6M110.7,336.3h0.6M106.5,347.2h0.6M110.3,338.0h0.6M105.0,350.2h0.6M111.9,341.7h0.6M111.6,339.2h0.6M113.5,333.3h0.6M110.1,331.7h0.6M110.0,344.0h0.6M111.2,336.7h0.6M110.7,336.9h0.6M107.9,348.3h0.6M108.4,339.3h0.6M111.1,332.0h0.6M105.4,347.8h0.6M108.8,346.9h0.6M107.6,336.0h0.6M106.5,350.7h0.6M110.2,337.1h0.6M110.6,343.0h0.6M114.9,318.1h0.6M108.6,327.5h0.6M108.1,345.7h0.6M106.1,350.5h0.6M108.6,338.8h0.6M106.1,351.5h0.6M106.9,346.9h0.6M106.0,349.1h0.6M107.9,325.0h0.6M107.6,352.3h0.6M108.4,339.9h0.6M107.6,337.4h0.6M108.1,342.6h0.6M109.6,339.8h0.6M104.9,348.4h0.6M110.3,344.1h0.6M110.0,344.9h0.6M112.9,331.7h0.6M115.8,317.1h0.6M106.1,348.0h0.6M107.5,345.5h0.6M104.4,349.5h0.6" stroke="#444" stroke-width="0.6" fill="none" opacity="0.8"/>
<path d="M117.4,346.2h0.6M124.6,329.4h0.6M117.6,341.9h0.6M120.8,351.4h0.6M115.2,346.4h0.6M118.4,337.3h0.6M108.3,356.0h0.6M123.7,331.0h0.6M114.1,339.8h0.6M138.3,351.8h0.6M113.8,359.9h0.6M107.9,363.2h0.6M117.1,352.2h0.6M112.9,375.2h0.6M123.9,342.0h0.6M126.9,347.0h0.6M111.5,360.0h0.6M115.2,342.4h0.6M125.2,340.5h0.6M119.9,339.3h0.6M120.1,340.8h0.6M109.4,342.1h0.6M126.5,338.3h0.6M128.5,322.3h0.6M105.3,355.7h0.6M113.7,341.7h0.6M123.1,334.4h0.6M104.5,339.6h0.6M117.4,349.7h0.6M120.3,355.0h0.6M117.1,347.5h0.6M121.3,338.2h0.6M132.6,342.1h0.6M126.8,342.8h0.6M122.9,356.3h0.6M109.2,356.1h0.6M129.8,342.7h0.6M116.9,357.4h0.6M123.5,334.2h0.6M136.0,331.7h0.6M120.3,330.6h0.6M108.1,369.9h0.6M143.0,326.6h0.6M115.7,348.2h0.6M107.9,350.9h0.6M136.0,335.0h0.6M120.7,334.6h0.6M114.2,341.0h0.6M113.2,345.6h0.6M106.5,349.6h0.6M113.0,350.3h0.6M137.6,327.6h0.6M137.9,339.5h0.6M115.2,334.7h0.6M124.3,337.8h0.6M133.6,340.3h0.6M127.3,337.1h0.6M113.4,347.9h0.6M132.6,331.8h0.6M125.8,339.4h0.6M120.5,346.1h0.6M135.1,340.2h0.6M107.7,366.6h0.6M121.8,360.0h0.6M101.0,365.6h0.6M110.7,334.9h0.6M110.5,356.8h0.6M123.8,333.1h0.6M128.5,336.3h0.6M127.2,333.3h0.6M133.4,328.1h0.6M131.1,337.5h0.6M129.0,331.8h0.6M107.3,354.1h0.6M113.8,370.2h0.6M127.5,351.7h0.6M132.0,330.5h0.6M117.4,344.1h0.6M115.2,336.3h0.6M111.3,339.2h0.6M126.1,339.3h0.6M139.6,334.1h0.6M135.1,328.1h0.6M130.2,341.5h0.6M126.5,323.6h0.6M135.0,330.4h0.6M108.4,343.1h0.6M103.7,353.3h0.6M131.5,328.0h0.6M133.4,340.6h0.6M127.2,333.7h0.6M104.3,358.8h0.6M128.2,327.0h0.6M135.0,322.8h0.6M107.3,363.1h0.6M118.9,341.3h0.6M121.8,348.6h0.6M111.4,352.6h0.6M98.2,359.9h0.6M110.6,346.2h0.6M112.5,351.8h0.6M133.7,343.2h0.6M139.3,340.2h0.6M125.6,316.7h0.6M101.9,366.3h0.6M108.5,344.3h0.6M116.9,339.1h0.6M119.3,345.5h0.6M136.8,334.7h0.6M125.4,336.6h0.6M117.4,341.8h0.6M110.9,349.2h0.6M109.5,356.4h0.6M126.9,344.3h0.6M112.1,366.8h0.6M122.4,341.4h0.6M123.6,332.3h0.6M120.8,343.6h0.6M122.7,328.4h0.6M123.1,343.6h0.6M109.1,352.6h0.6M126.4,312.8h0.6M127.4,337.4h0.6M140.6,336.1h0.6M151.5,321.6h0.6M111.1,348.6h0.6M122.5,348.0h0.6M118.9,332.1h0.6M108.4,359.7h0.6M121.3,351.7h0.6M125.0,353.2h0.6M106.8,353.9h0.6M115.2,344.2h0.6M107.5,355.7h0.6M117.4,333.2h0.6M112.1,331.1h0.6M110.6,338.9h0.6M126.2,333.2h0.6M134.8,331.2h0.6M109.0,356.3h0.6M107.0,348.7h0.6M125.4,334.7h0.6M127.7,339.9h0.6M134.0,332.8h0.6M116.5,356.3h0.6M119.9,340.5h0.6M127.6,336.6h0.6M111.4,371.9h0.6M108.0,340.6h0.6M117.2,359.2h0.6M135.3,327.2h0.6M122.9,349.7h0.6M114.3,373.6h0.6M113.9,345.0h0.6M116.4,354.7h0.6M110.9,336.0h0.6M142.2,323.8h0.6M121.9,333.8h0.6M131.3,333.0h0.6M124.1,339.9h0.6M127.4,326.6h0.6M118.7,349.9h0.6M125.1,346.2h0.6M127.9,344.6h0.6M107.1,363.7h0.6M116.4,344.6h0.6M114.5,346.2h0.6M123.7,337.7h0.6M119.4,359.8h0.6M116.9,353.1h0.6M107.8,366.4h0.6M126.4,329.4h0.6M105.9,368.3h0.6M103.5,352.5h0.6M121.6,352.7h0.6M127.5,354.9h0.6M115.5,342.3h0.6M123.9,344.8h0.6M114.3,336.3h0.6M110.6,352.5h0.6M108.1,376.5h0.6M121.4,343.0h0.6M118.0,336.2h0.6M109.8,354.5h0.6M118.9,350.0h0.6M140.3,328.9h0.6M115.8,344.5h0.6M117.3,347.8h0.6M112.3,341.1h0.6M126.1,336.9h0.6M125.3,346.2h0.6M124.6,336.8h0.6M116.3,342.7h0.6M110.7,358.9h0.6M107.0,364.2h0.6M122.1,333.4h0.6M120.5,341.3h0.6M119.4,340.4h0.6M123.9,334.5h0.6M121.7,350.7h0.6M121.0,358.5h0.6M129.7,333.8h0.6M118.8,357.4h0.6M118.4,340.5h0.6M129.9,352.1h0.6M130.7,329.7h0.6M102.8,354.6h0.6M122.4,331.5h0.6M138.2,337.6h0.6M116.0,341.8h0.6M105.3,362.6h0.6M109.3,328.9h0.6M107.2,356.4h0.6M121.7,338.1h0.6M120.4,343.1h0.6M110.6,354.4h0.6M122.5,339.4h0.6M128.5,346.6h0.6M104.4,348.1h0.6M124.2,340.3h0.6M104.6,365.5h0.6M123.1,340.7h0.6M111.2,365.9h0.6M116.6,344.4h0.6M99.2,345.8h0.6M123.7,343.7h0.6M124.3,341.4h0.6M107.4,376.9h0.6M108.5,362.1h0.6M124.5,329.6h0.6M113.5,357.1h0.6M121.4,350.1h0.6M133.0,342.2h0.6M108.0,362.8h0.6M121.0,338.2h0.6M114.2,339.9h0.6M135.4,329.6h0.6M112.2,345.3h0.6M146.0,332.3h0.6M109.9,360.1h0.6M118.7,353.9h0.6M112.6,362.0h0.6M112.2,354.1h0.6M126.0,333.0h0.6M109.4,367.1h0.6M127.8,344.8h0.6M114.0,336.1h0.6M125.4,340.2h0.6M136.7,333.4h0.6M132.6,324.7h0.6M122.7,332.1h0.6M136.4,332.1h0.6M112.9,343.3h0.6M127.4,332.3h0.6M133.1,326.2h0.6M112.0,363.0h0.6M114.1,350.0h0.6M121.0,336.4h0.6M109.1,360.9h0.6M108.9,376.6h0.6M118.1,350.7h0.6M122.0,323.7h0.6M108.3,352.5h0.6M116.9,336.1h0.6M124.9,348.1h0.6M121.4,344.0h0.6M119.2,337.1h0.6M104.7,354.5h0.6M132.0,337.3h0.6M121.8,333.7h0.6M125.0,333.7h0.6M128.9,333.8h0.6M115.6,341.9h0.6M113.8,357.3h0.6M115.9,336.8h0.6M121.0,345.7h0.6M122.8,342.0h0.6M104.3,362.4h0.6M127.3,338.0h0.6M140.0,327.9h0.6M136.0,324.2h0.6M122.0,349.1h0.6M102.9,366.8h0.6M106.9,333.0h0.6M103.7,364.2h0.6M138.8,315.0h0.6M118.7,343.4h0.6M126.6,334.3h0.6M108.1,376.4h0.6M107.7,347.7h0.6M123.5,331.5h0.6M124.4,349.2h0.6M108.9,366.5h0.6M114.4,342.8h0.6M107.8,356.2h0.6M133.8,338.9h0.6M130.0,346.0h0.6M131.4,330.3h0.6M110.9,341.3h0.6M114.5,343.7h0.6M117.2,333.7h0.6M137.3,322.3h0.6M138.8,313.0h0.6M127.8,341.6h0.6M128.7,339.7h0.6M134.0,331.0h0.6M118.2,339.1h0.6M123.8,341.2h0.6M106.3,368.8h0.6M117.1,362.5h0.6M114.0,358.7h0.6M111.5,347.6h0.6M127.4,337.7h0.6M114.6,346.7h0.6M130.4,344.5h0.6M136.9,337.9h0.6M120.1,330.0h0.6M118.6,346.6h0.6M116.5,339.4h0.6M121.1,347.3h0.6M119.0,335.7h0.6M124.2,335.9h0.6M132.7,339.9h0.6M116.1,367.3h0.6M122.9,333.0h0.6M129.6,337.6h0.6M110.0,361.7h0.6M123.0,334.3h0.6M132.9,332.0h0.6M127.4,342.5h0.6M135.6,341.0h0.6M106.7,365.8h0.6M123.7,343.7h0.6M115.9,345.3h0.6M110.8,334.4h0.6M116.6,344.0h0.6M115.3,344.8h0.6M120.3,342.7h0.6M120.3,345.8h0.6M110.6,346.5h0.6M103.6,355.2h0.6M128.3,321.5h0.6M122.7,331.6h0.6M131.6,340.2h0.6M118.7,327.8h0.6M128.4,332.4h0.6M116.6,351.7h0.6M108.4,365.6h0.6M135.9,343.0h0.6M132.8,338.5h0.6M133.5,339.2h0.6M103.1,349.1h0.6M133.5,333.1h0.6M119.2,349.5h0.6M107.1,375.8h0.6M128.2,353.5h0.6M123.8,345.0h0.6M116.5,339.6h0.6M114.9,344.4h0.6M122.4,340.8h0.6M121.6,326.6h0.6M128.5,343.8h0.6M124.2,337.8h0.6M133.7,327.5h0.6M109.9,373.6h0.6M109.5,363.4h0.6M101.3,355.8h0.6M119.2,346.0h0.6M124.7,334.3h0.6M109.8,354.0h0.6M126.7,337.0h0.6M117.0,358.5h0.6M128.7,331.4h0.6M130.6,324.6h0.6M123.9,343.6h0.6M125.1,344.0h0.6M123.4,345.6h0.6M108.1,364.3h0.6M120.7,342.3h0.6M132.1,333.0h0.6M116.9,345.3h0.6M114.6,361.3h0.6M118.1,347.4h0.6M115.0,356.2h0.6M128.6,344.1h0.6M129.5,333.6h0.6M116.4,358.4h0.6M111.8,350.5h0.6M106.1,373.5h0.6M122.0,346.7h0.6M110.0,342.6h0.6M115.7,340.6h0.6M121.9,346.6h0.6M117.5,344.4h0.6M124.5,346.9h0.6M131.3,330.7h0.6M118.0,351.8h0.6M104.1,362.4h0.6M127.6,341.4h0.6M123.5,342.5h0.6M118.5,343.3h0.6M103.6,367.1h0.6M119.9,331.5h0.6M116.0,345.6h0.6M106.6,367.9h0.6M126.5,336.8h0.6M124.5,338.0h0.6M114.8,354.0h0.6M111.3,362.7h0.6M123.4,341.0h0.6M104.8,346.6h0.6M129.7,351.4h0.6M121.4,344.2h0.6M130.7,344.3h0.6M108.5,354.9h0.6M125.2,346.9h0.6" stroke="#666" stroke-width="0.6" fill="none" opacity="0.8"/>
<path d="M97.60,298.10H142.60" stroke="#444" stroke-width="0.9" fill="none"/>
<path d="M97.60,298.00V351.70H111.50V298.00M142.60,298.00V338.50L111.50,352.00" stroke="#4a4a4a" stroke-width="0.65" fill="none"/>
<text x="104.60" y="324.60" font-size="5.4" text-anchor="middle" fill="#000" textLength="13.2" lengthAdjust="spacingAndGlyphs" stroke="#000" stroke-width="0.3" >33,21</text>
<text x="127.00" y="324.60" font-size="5.4" text-anchor="middle" fill="#000" textLength="13.4" lengthAdjust="spacingAndGlyphs" stroke="#000" stroke-width="0.3" >15,47</text>
<text x="74.50" y="341.20" font-size="7.4" text-anchor="middle" fill="#111" textLength="33.6" lengthAdjust="spacingAndGlyphs" transform="rotate(-90 74.50 341.20)" stroke="#111" stroke-width="0.3" >Cyclin D3</text>
<text x="128.00" y="396.30" font-size="7.4" text-anchor="middle" fill="#111" textLength="45.4" lengthAdjust="spacingAndGlyphs" stroke="#111" stroke-width="0.3" >DNA content</text>
<text x="126.60" y="285.00" font-size="7.5" text-anchor="middle" fill="#111" textLength="42.8" lengthAdjust="spacingAndGlyphs" stroke="#111" stroke-width="0.3" >Anti-CXCR7</text>
<text x="126.60" y="294.90" font-size="7.5" text-anchor="middle" fill="#111" textLength="35" lengthAdjust="spacingAndGlyphs" stroke="#111" stroke-width="0.3" >+ CXCL12</text>
<path d="M203.80,297.70H285.40V378.50" stroke="#8a8a8a" stroke-width="0.6" fill="none"/>
<path d="M203.80,297.70V378.50H285.40" stroke="#555" stroke-width="0.7" fill="none"/>
<path d="M201.80,378.50H203.80M202.80,376.96H203.80M202.80,375.41H203.80M202.80,373.87H203.80M202.80,372.33H203.80M202.80,370.78H203.80M202.80,369.24H203.80M202.80,367.70H203.80M202.80,366.15H203.80M202.80,364.61H203.80M201.80,363.07H203.80M202.80,361.52H203.80M202.80,359.98H203.80M202.80,358.44H203.80M202.80,356.89H203.80M202.80,355.35H203.80M202.80,353.81H203.80M202.80,352.26H203.80M202.80,350.72H203.80M202.80,349.18H203.80M201.80,347.63H203.80M202.80,346.09H203.80M202.80,344.55H203.80M202.80,343.00H203.80M202.80,341.46H203.80M202.80,339.92H203.80M202.80,338.37H203.80M202.80,336.83H203.80M202.80,335.29H203.80M202.80,333.74H203.80M201.80,332.20H203.80M202.80,330.66H203.80M202.80,329.12H203.80M202.80,327.57H203.80M202.80,326.03H203.80M202.80,324.49H203.80M202.80,322.94H203.80M202.80,321.40H203.80M202.80,319.86H203.80M202.80,318.31H203.80M201.80,316.77H203.80M202.80,315.23H203.80M202.80,313.68H203.80M202.80,312.14H203.80M202.80,310.60H203.80M202.80,309.05H203.80M202.80,307.51H203.80M202.80,305.97H203.80M202.80,304.42H203.80M202.80,302.88H203.80M201.80,301.34H203.80M203.80,378.50V380.50M205.36,378.50V379.50M206.92,378.50V379.50M208.48,378.50V379.50M210.03,378.50V379.50M211.59,378.50V379.50M213.15,378.50V379.50M214.71,378.50V379.50M216.27,378.50V379.50M217.83,378.50V379.50M219.39,378.50V380.50M220.94,378.50V379.50M222.50,378.50V379.50M224.06,378.50V379.50M225.62,378.50V379.50M227.18,378.50V379.50M228.74,378.50V379.50M230.30,378.50V379.50M231.85,378.50V379.50M233.41,378.50V379.50M234.97,378.50V380.50M236.53,378.50V379.50M238.09,378.50V379.50M239.65,378.50V379.50M241.21,378.50V379.50M242.76,378.50V379.50M244.32,378.50V379.50M245.88,378.50V379.50M247.44,378.50V379.50M249.00,378.50V379.50M250.56,378.50V380.50M252.12,378.50V379.50M253.67,378.50V379.50M255.23,378.50V379.50M256.79,378.50V379.50M258.35,378.50V379.50M259.91,378.50V379.50M261.47,378.50V379.50M263.03,378.50V379.50M264.58,378.50V379.50M266.14,378.50V380.50M267.70,378.50V379.50M269.26,378.50V379.50M270.82,378.50V379.50M272.38,378.50V379.50M273.94,378.50V379.50M275.49,378.50V379.50M277.05,378.50V379.50M278.61,378.50V379.50M280.17,378.50V379.50M281.73,378.50V380.50" stroke="#555" stroke-width="0.45" fill="none"/>
<text x="200.20" y="364.17" font-size="3.2" text-anchor="end" fill="#666" >200</text>
<text x="219.39" y="384.80" font-size="3.2" text-anchor="middle" fill="#666" >200</text>
<text x="200.20" y="348.73" font-size="3.2" text-anchor="end" fill="#666" >400</text>
<text x="234.97" y="384.80" font-size="3.2" text-anchor="middle" fill="#666" >400</text>
<text x="200.20" y="333.30" font-size="3.2" text-anchor="end" fill="#666" >600</text>
<text x="250.56" y="384.80" font-size="3.2" text-anchor="middle" fill="#666" >600</text>
<text x="200.20" y="317.87" font-size="3.2" text-anchor="end" fill="#666" >800</text>
<text x="266.14" y="384.80" font-size="3.2" text-anchor="middle" fill="#666" >800</text>
<text x="200.20" y="302.44" font-size="3.2" text-anchor="end" fill="#666" >1000</text>
<text x="281.73" y="384.80" font-size="3.2" text-anchor="middle" fill="#666" >1000</text>
<path d="M220.1,362.0h0.8M221.1,358.4h0.8M223.1,360.3h0.8M220.7,366.8h0.8M220.9,362.4h0.8M220.9,358.9h0.8M221.0,363.3h0.8M217.0,369.2h0.8M223.4,358.7h0.8M224.5,348.4h0.8M221.4,360.2h0.8M224.2,354.9h0.8M222.1,361.0h0.8M223.8,357.1h0.8M222.0,358.4h0.8M220.3,360.1h0.8M223.7,355.7h0.8M224.2,351.8h0.8M221.2,358.5h0.8M220.6,361.6h0.8M223.1,355.2h0.8M219.9,366.8h0.8M221.2,357.7h0.8M223.2,356.9h0.8M220.0,360.9h0.8M222.6,358.2h0.8M224.0,358.2h0.8M221.8,355.7h0.8M222.9,353.0h0.8M223.6,353.6h0.8M223.0,350.9h0.8M224.0,353.6h0.8M222.4,360.9h0.8M225.7,346.7h0.8M221.6,360.0h0.8M224.4,350.9h0.8M223.7,349.9h0.8M222.5,350.4h0.8M222.2,357.3h0.8M223.4,359.2h0.8M222.3,359.4h0.8M225.7,348.6h0.8M221.4,358.3h0.8M220.8,365.7h0.8M224.9,353.0h0.8M225.2,356.2h0.8M221.1,352.6h0.8M222.5,360.8h0.8M223.1,358.7h0.8M224.8,345.0h0.8M225.1,346.8h0.8M221.1,363.2h0.8M223.1,352.5h0.8M223.6,349.4h0.8M223.4,357.8h0.8M221.8,357.4h0.8M223.3,356.9h0.8M226.1,349.3h0.8M224.8,348.3h0.8M220.7,364.1h0.8M221.1,358.2h0.8M222.0,358.9h0.8M223.7,356.7h0.8M222.8,361.1h0.8M223.5,356.6h0.8M222.8,350.7h0.8M223.8,349.3h0.8M224.3,355.2h0.8M222.1,352.1h0.8M224.1,356.2h0.8M222.4,357.2h0.8M224.5,356.8h0.8M221.0,358.8h0.8M220.8,361.4h0.8M222.8,357.8h0.8M220.7,356.5h0.8M221.6,363.9h0.8M222.1,353.0h0.8M221.2,351.8h0.8M226.0,346.4h0.8M221.3,364.2h0.8M222.2,356.7h0.8M222.0,358.2h0.8M221.6,356.8h0.8M222.6,359.3h0.8M221.9,353.9h0.8M223.8,359.3h0.8M225.3,353.9h0.8M220.0,362.4h0.8M218.1,365.8h0.8M221.1,358.0h0.8M220.7,361.3h0.8M223.3,357.7h0.8M221.5,353.6h0.8M224.1,349.8h0.8M221.5,361.1h0.8M220.7,358.0h0.8M223.9,349.5h0.8M222.6,359.5h0.8M225.1,349.2h0.8M222.1,360.8h0.8M224.4,351.8h0.8M222.9,353.6h0.8M220.8,356.5h0.8M220.6,359.5h0.8M224.3,357.0h0.8M218.6,366.4h0.8M221.5,360.8h0.8M223.2,351.2h0.8M223.1,360.5h0.8M223.7,355.1h0.8M222.9,352.7h0.8M222.2,355.4h0.8M222.0,359.9h0.8M221.8,354.3h0.8M222.4,360.3h0.8M223.6,356.1h0.8M221.5,357.8h0.8M224.2,353.3h0.8M220.3,369.7h0.8M222.5,360.2h0.8M224.2,349.5h0.8M221.8,361.1h0.8M223.4,356.4h0.8M221.3,363.0h0.8M224.5,352.8h0.8M224.7,354.1h0.8M223.0,360.7h0.8M221.9,355.4h0.8M222.6,358.0h0.8M224.5,355.5h0.8M222.4,355.6h0.8M224.9,346.7h0.8M222.7,360.6h0.8M221.4,358.3h0.8M222.7,361.8h0.8M221.5,361.4h0.8M221.9,358.6h0.8M221.9,360.4h0.8M224.5,354.2h0.8M221.0,357.9h0.8M221.0,363.3h0.8M221.2,368.2h0.8M222.8,356.5h0.8M220.4,362.7h0.8M222.5,360.2h0.8M222.9,358.6h0.8M221.2,353.8h0.8M223.8,358.0h0.8M222.2,359.0h0.8M221.2,356.9h0.8M225.1,346.7h0.8M223.0,353.6h0.8M225.6,350.6h0.8M225.1,351.6h0.8M225.0,353.8h0.8M223.3,354.8h0.8M222.7,352.7h0.8M220.6,368.3h0.8M222.1,355.7h0.8M221.4,357.6h0.8M221.9,360.5h0.8M223.7,356.3h0.8M223.3,357.2h0.8M222.7,353.3h0.8M220.0,364.1h0.8M221.8,357.6h0.8M224.5,346.5h0.8M222.4,354.3h0.8M222.2,353.2h0.8M224.0,352.4h0.8M220.9,358.1h0.8M224.0,348.9h0.8M221.8,349.4h0.8M223.2,362.5h0.8M224.8,348.6h0.8M224.5,352.3h0.8M222.4,358.3h0.8M219.9,361.4h0.8M223.6,356.3h0.8M221.6,355.6h0.8M223.8,352.8h0.8M223.3,353.2h0.8M223.5,358.1h0.8M223.0,350.1h0.8M222.4,361.9h0.8M223.2,355.0h0.8M222.6,361.3h0.8M223.1,355.8h0.8M222.6,354.7h0.8M223.3,354.9h0.8M223.9,353.5h0.8M220.4,362.2h0.8M223.6,358.2h0.8M223.1,359.9h0.8M224.9,352.0h0.8M225.3,346.4h0.8M224.4,355.5h0.8M224.2,355.1h0.8M224.0,357.6h0.8M221.1,354.5h0.8M223.8,351.7h0.8M221.3,360.5h0.8M223.6,358.2h0.8M223.0,355.1h0.8M221.7,356.4h0.8M221.4,359.4h0.8M221.2,357.3h0.8M223.3,358.7h0.8M223.2,354.6h0.8M222.8,355.0h0.8M222.2,362.2h0.8M225.9,346.6h0.8M226.1,354.2h0.8M221.8,362.2h0.8M222.0,358.1h0.8M220.7,364.1h0.8M221.5,354.4h0.8M221.9,357.5h0.8M222.2,361.3h0.8M225.1,349.3h0.8M224.7,352.2h0.8M223.2,357.1h0.8M223.8,350.5h0.8M221.1,356.9h0.8M219.7,364.8h0.8M224.1,352.7h0.8M224.4,355.8h0.8M222.1,365.0h0.8M223.6,356.5h0.8M223.5,350.2h0.8M222.1,360.7h0.8M222.0,356.7h0.8M221.8,357.0h0.8M222.4,355.9h0.8M223.6,348.7h0.8M223.5,354.0h0.8M223.5,349.2h0.8M224.0,359.2h0.8M221.5,359.5h0.8M221.2,358.1h0.8M225.7,351.5h0.8M221.7,357.1h0.8M221.8,362.9h0.8M222.7,359.2h0.8M219.4,367.4h0.8M223.9,353.9h0.8M219.7,369.6h0.8M222.8,356.0h0.8M221.8,358.0h0.8M223.4,356.1h0.8M219.0,370.9h0.8M223.6,352.4h0.8M223.1,350.8h0.8M226.0,348.2h0.8M225.1,359.2h0.8M226.1,350.5h0.8M221.2,362.0h0.8M224.4,354.8h0.8M221.4,355.9h0.8M223.9,351.1h0.8M222.9,354.5h0.8M221.1,356.8h0.8M222.8,353.4h0.8M221.1,364.8h0.8M223.7,357.0h0.8M222.4,352.6h0.8M222.5,357.4h0.8M221.7,355.9h0.8M223.8,356.5h0.8M225.7,351.4h0.8M220.9,352.5h0.8M221.8,357.7h0.8M220.9,370.1h0.8M223.8,352.5h0.8M223.6,355.1h0.8M223.9,358.0h0.8M225.7,348.6h0.8M222.3,359.2h0.8M224.6,352.4h0.8M222.9,360.0h0.8M224.2,353.5h0.8M222.2,358.5h0.8M220.4,365.2h0.8M221.9,358.5h0.8M222.0,357.8h0.8M222.9,356.3h0.8M221.8,359.3h0.8M223.1,357.2h0.8M222.8,354.5h0.8M220.0,359.9h0.8M221.7,362.4h0.8M223.3,361.2h0.8M222.1,357.2h0.8M221.9,357.2h0.8M222.0,359.5h0.8M221.1,363.2h0.8M221.6,356.8h0.8M224.3,352.1h0.8M223.3,351.5h0.8M220.0,361.9h0.8M218.9,363.2h0.8M224.0,349.4h0.8M222.4,355.6h0.8M224.2,357.7h0.8M219.6,364.2h0.8M221.9,355.8h0.8M224.9,353.9h0.8M224.5,352.8h0.8M223.6,357.6h0.8M220.5,359.9h0.8M222.1,357.7h0.8M223.1,350.8h0.8M223.2,351.2h0.8M219.4,361.9h0.8M221.1,356.4h0.8M223.0,355.7h0.8M220.2,357.9h0.8M222.6,359.1h0.8M221.3,364.9h0.8M222.1,356.4h0.8M223.6,355.9h0.8M221.8,356.5h0.8M222.9,352.9h0.8M224.1,355.3h0.8M225.9,351.2h0.8M224.0,352.0h0.8M222.6,357.6h0.8M226.4,355.1h0.8M222.6,353.4h0.8M222.8,349.3h0.8M222.5,351.7h0.8M220.9,361.4h0.8M220.9,357.5h0.8M223.3,353.8h0.8M223.2,350.3h0.8M221.3,365.0h0.8M223.5,357.9h0.8M218.6,366.8h0.8M224.8,356.7h0.8M219.2,361.7h0.8M223.6,359.1h0.8M223.1,349.1h0.8M220.0,358.9h0.8M220.7,360.2h0.8M224.4,355.0h0.8M225.1,345.8h0.8M223.9,353.0h0.8M224.9,356.6h0.8M225.2,353.9h0.8M223.9,355.5h0.8M223.2,354.3h0.8M221.4,359.7h0.8M222.3,356.5h0.8M221.5,358.0h0.8M223.4,352.7h0.8M222.3,357.1h0.8M223.7,350.6h0.8M223.4,350.0h0.8M225.1,349.9h0.8M222.6,359.0h0.8M223.0,351.2h0.8M222.8,357.7h0.8M222.1,357.5h0.8M223.0,356.6h0.8M225.1,353.5h0.8M225.4,358.9h0.8M224.2,358.6h0.8M221.0,356.8h0.8M221.8,358.5h0.8M221.8,351.2h0.8M221.8,359.4h0.8M223.9,353.8h0.8M223.5,352.7h0.8M223.7,358.0h0.8M225.1,349.0h0.8M222.0,355.7h0.8M225.6,347.2h0.8M221.7,353.4h0.8M226.0,354.5h0.8M222.3,357.3h0.8M224.3,349.7h0.8M225.7,353.3h0.8M220.5,361.6h0.8M223.6,353.6h0.8M222.6,356.4h0.8M223.2,356.1h0.8M221.8,358.7h0.8M221.8,355.3h0.8M220.9,354.0h0.8M223.3,353.7h0.8M222.7,362.3h0.8M223.5,362.4h0.8M223.1,360.2h0.8M224.3,357.3h0.8M223.5,357.9h0.8M220.3,357.5h0.8M223.6,355.0h0.8M224.9,355.3h0.8M220.3,359.5h0.8M222.3,355.3h0.8M222.6,357.1h0.8M222.9,360.6h0.8M224.4,357.6h0.8M224.1,355.8h0.8M221.7,357.7h0.8M221.1,358.7h0.8M223.4,354.6h0.8M219.8,361.0h0.8M219.8,360.0h0.8M220.1,360.2h0.8M222.3,353.1h0.8M221.9,359.2h0.8M223.2,356.6h0.8M224.3,353.4h0.8M223.6,358.5h0.8M222.4,354.7h0.8M223.2,349.6h0.8M224.6,354.8h0.8M223.2,356.2h0.8M223.5,356.2h0.8M223.0,355.6h0.8M221.5,352.9h0.8M222.7,355.4h0.8M225.3,347.9h0.8M222.6,359.7h0.8M221.0,358.0h0.8M222.9,358.0h0.8M225.2,351.6h0.8M222.8,355.5h0.8M224.2,356.0h0.8M223.8,357.5h0.8M221.8,360.1h0.8M224.3,353.3h0.8M222.4,355.6h0.8M220.2,364.5h0.8M221.3,360.3h0.8M223.7,349.3h0.8M223.6,352.8h0.8M221.5,361.5h0.8M222.3,352.9h0.8M220.9,361.7h0.8M222.9,353.2h0.8M223.7,354.8h0.8M223.2,356.7h0.8M224.0,350.9h0.8M221.9,354.9h0.8M221.8,359.8h0.8M222.9,352.8h0.8M222.1,363.0h0.8M222.7,345.4h0.8M221.6,361.3h0.8M222.2,354.2h0.8M224.2,355.4h0.8M223.1,358.0h0.8M221.9,355.8h0.8M221.3,359.2h0.8M225.4,351.0h0.8M221.3,355.1h0.8M221.7,358.7h0.8M220.5,365.1h0.8M221.6,355.0h0.8M221.7,358.4h0.8M225.5,348.6h0.8M223.7,353.2h0.8M222.2,362.5h0.8M219.9,359.1h0.8M223.2,353.3h0.8M223.2,356.7h0.8M222.9,357.7h0.8M223.8,350.8h0.8M222.3,358.2h0.8M223.0,353.6h0.8M222.1,356.1h0.8M223.2,357.1h0.8M221.6,360.2h0.8M220.3,362.9h0.8M223.3,356.4h0.8M221.4,361.1h0.8M222.0,360.8h0.8M223.5,355.6h0.8M220.9,357.1h0.8M220.6,358.7h0.8M221.9,359.6h0.8M223.2,351.7h0.8M222.0,360.1h0.8M222.4,366.2h0.8M222.0,363.7h0.8M224.8,352.6h0.8M223.3,357.3h0.8M223.3,358.4h0.8M221.1,359.3h0.8M222.6,354.8h0.8M222.5,353.4h0.8M222.0,355.2h0.8M224.8,357.6h0.8M220.2,361.0h0.8M220.6,363.6h0.8M224.1,349.4h0.8M223.5,352.5h0.8M224.1,359.9h0.8M222.0,351.4h0.8M222.0,361.0h0.8M223.2,353.7h0.8M223.6,355.4h0.8M223.3,358.4h0.8M222.5,360.5h0.8M223.9,352.7h0.8M222.3,358.1h0.8M220.4,366.4h0.8M219.0,362.3h0.8M222.6,353.0h0.8M223.1,355.1h0.8M219.7,364.1h0.8M222.9,357.9h0.8M221.4,356.0h0.8M222.2,359.0h0.8M220.8,362.0h0.8M219.8,358.4h0.8M225.6,349.3h0.8M223.2,358.9h0.8M223.1,361.6h0.8M222.4,358.3h0.8M222.1,359.2h0.8M223.1,355.2h0.8M222.5,360.4h0.8M223.3,354.2h0.8M223.1,351.8h0.8M224.0,351.0h0.8M223.9,349.9h0.8M222.6,357.8h0.8M225.4,352.2h0.8M221.4,358.4h0.8M224.8,353.6h0.8M223.1,353.5h0.8M224.1,351.1h0.8M223.5,356.0h0.8M219.7,358.5h0.8M223.7,355.9h0.8M223.7,354.9h0.8M224.0,356.2h0.8M224.4,356.5h0.8M223.6,356.6h0.8M222.4,359.1h0.8M223.3,354.8h0.8M224.5,349.9h0.8M224.3,351.8h0.8M223.0,351.6h0.8M223.3,358.5h0.8M222.2,360.3h0.8M223.5,354.2h0.8M223.7,354.9h0.8M222.8,357.8h0.8M221.6,358.7h0.8M220.8,363.5h0.8M220.8,364.0h0.8M221.8,355.4h0.8M223.1,356.4h0.8M221.3,357.9h0.8M223.0,357.2h0.8M225.8,353.1h0.8M220.8,365.3h0.8M222.5,354.5h0.8M225.2,355.8h0.8M224.2,356.5h0.8M223.4,351.9h0.8M221.3,367.0h0.8M222.6,349.4h0.8M221.7,357.3h0.8M223.0,355.7h0.8M223.4,351.5h0.8M223.1,347.8h0.8M225.7,356.4h0.8M223.2,357.2h0.8M225.6,359.6h0.8M223.3,352.6h0.8M220.7,365.0h0.8M221.4,352.9h0.8M222.7,358.9h0.8M219.8,367.0h0.8M219.5,363.2h0.8M224.3,355.2h0.8M223.3,351.4h0.8M221.4,353.9h0.8M221.6,363.2h0.8M221.2,358.1h0.8M220.3,364.7h0.8M223.1,346.3h0.8M222.7,361.5h0.8M219.9,364.8h0.8M224.0,356.6h0.8M224.5,357.4h0.8M222.5,356.7h0.8M223.6,354.8h0.8M220.0,362.9h0.8M222.8,357.7h0.8M220.5,361.8h0.8M222.2,360.0h0.8M222.8,358.7h0.8M222.2,354.7h0.8M221.0,357.6h0.8M223.7,356.4h0.8M219.7,360.4h0.8M223.0,354.3h0.8M223.1,356.9h0.8M224.1,355.2h0.8M219.8,358.0h0.8M221.8,358.7h0.8M222.6,358.5h0.8M223.8,358.1h0.8M222.0,359.4h0.8M224.5,358.8h0.8M220.5,360.5h0.8M223.1,358.5h0.8M222.5,356.5h0.8M218.8,362.4h0.8M222.2,357.5h0.8M225.1,349.0h0.8M224.2,355.0h0.8M220.4,360.2h0.8M223.8,358.6h0.8M223.2,352.1h0.8M222.3,362.3h0.8M222.8,351.5h0.8M223.7,349.4h0.8M223.3,353.3h0.8M221.7,357.9h0.8M224.1,353.7h0.8M223.3,353.0h0.8M224.0,360.9h0.8M224.4,349.0h0.8M223.0,362.1h0.8M222.9,356.0h0.8M224.0,353.0h0.8M224.9,356.7h0.8M221.2,365.1h0.8M221.6,361.0h0.8M222.8,357.4h0.8M220.7,367.4h0.8M224.9,346.2h0.8M224.4,352.8h0.8M222.5,355.2h0.8M223.7,353.9h0.8M225.2,350.5h0.8M218.8,358.9h0.8M224.9,350.1h0.8M222.2,355.7h0.8M227.0,345.9h0.8M222.4,356.1h0.8M224.8,354.5h0.8M224.3,354.6h0.8M223.4,355.6h0.8M221.4,362.3h0.8M222.7,356.4h0.8M222.7,357.8h0.8M221.8,359.1h0.8M223.6,363.1h0.8M220.4,360.2h0.8M221.6,358.9h0.8M218.9,360.7h0.8M225.7,349.6h0.8M222.8,358.5h0.8M219.7,361.1h0.8M223.7,355.3h0.8M221.9,359.7h0.8M219.0,370.2h0.8M224.1,352.0h0.8M223.5,356.0h0.8M218.9,365.5h0.8M221.5,362.3h0.8M220.0,358.9h0.8M223.5,352.6h0.8M226.0,352.7h0.8M219.4,363.6h0.8M225.4,352.2h0.8M223.5,355.0h0.8M224.2,353.7h0.8M222.0,362.5h0.8M223.4,352.1h0.8M221.1,360.6h0.8M222.6,359.4h0.8M223.6,353.2h0.8M220.4,357.5h0.8M221.1,358.2h0.8M222.4,359.2h0.8M226.6,356.9h0.8M221.1,360.4h0.8M221.1,361.7h0.8M223.4,358.2h0.8M221.4,365.6h0.8M222.9,353.6h0.8M222.1,359.7h0.8M223.1,354.2h0.8M222.5,357.3h0.8M221.7,361.5h0.8M223.4,354.1h0.8M221.4,361.7h0.8M222.9,357.2h0.8M223.1,358.7h0.8M224.8,352.0h0.8M224.2,355.9h0.8M222.5,356.8h0.8M221.0,363.0h0.8M223.1,350.9h0.8M222.2,352.8h0.8M224.9,355.8h0.8M221.5,356.1h0.8M222.9,355.3h0.8M223.1,352.9h0.8M220.2,364.2h0.8M224.4,354.3h0.8M223.0,355.4h0.8M223.3,353.5h0.8M222.4,358.7h0.8M223.4,351.6h0.8M222.6,354.2h0.8M222.0,360.0h0.8M220.2,362.4h0.8M220.7,361.8h0.8M224.1,361.3h0.8M223.5,353.9h0.8M218.6,362.0h0.8M222.5,354.5h0.8M223.5,351.9h0.8M220.5,362.3h0.8M219.4,363.1h0.8M222.9,353.3h0.8M222.9,353.4h0.8M221.8,357.5h0.8M221.4,358.9h0.8M224.4,350.0h0.8M222.2,365.8h0.8M225.3,351.3h0.8M222.4,357.1h0.8M222.2,358.8h0.8M223.2,354.6h0.8M220.7,360.1h0.8M226.4,349.7h0.8M220.6,362.0h0.8M223.2,357.0h0.8M222.8,357.2h0.8M224.3,355.3h0.8M222.3,362.8h0.8M223.7,354.8h0.8M220.7,363.3h0.8M223.0,358.0h0.8M224.2,353.8h0.8M222.5,362.8h0.8M223.7,356.6h0.8M221.9,356.5h0.8M226.4,345.1h0.8M223.1,353.1h0.8M223.6,358.0h0.8M225.0,355.1h0.8M223.0,351.0h0.8M222.1,363.9h0.8M223.1,353.9h0.8M221.8,357.8h0.8M224.6,348.6h0.8M222.0,363.1h0.8M222.9,357.2h0.8M222.2,358.4h0.8M221.0,365.3h0.8M221.5,359.7h0.8M224.4,355.6h0.8M220.0,366.3h0.8M224.3,354.5h0.8M221.9,360.8h0.8M224.1,355.1h0.8M221.8,359.4h0.8M223.2,359.3h0.8M223.5,351.7h0.8M222.7,357.4h0.8M221.5,360.7h0.8M224.5,353.0h0.8M221.2,359.6h0.8M221.0,356.8h0.8M223.2,355.3h0.8M220.9,362.6h0.8M221.6,359.6h0.8M223.0,361.0h0.8M222.3,361.2h0.8M224.4,356.1h0.8M222.6,357.0h0.8M220.8,355.9h0.8M225.2,345.9h0.8M221.2,357.8h0.8M224.2,357.7h0.8M222.2,360.2h0.8M224.8,352.3h0.8M220.4,358.1h0.8M223.7,355.0h0.8M221.9,358.1h0.8M223.1,348.4h0.8M221.5,358.8h0.8M220.1,363.5h0.8M223.0,360.6h0.8M219.2,364.2h0.8M221.4,355.1h0.8M219.7,365.5h0.8M220.3,361.9h0.8M222.9,357.5h0.8M221.6,359.5h0.8M223.3,353.5h0.8M222.9,353.3h0.8M224.5,354.8h0.8M224.1,363.7h0.8M222.0,358.1h0.8M223.0,357.6h0.8M221.3,362.1h0.8M223.4,359.7h0.8M221.3,364.6h0.8M221.5,357.9h0.8M222.6,356.0h0.8M223.0,356.6h0.8M223.7,351.2h0.8M221.9,348.5h0.8M226.0,348.8h0.8M224.7,349.7h0.8M222.0,355.2h0.8M223.1,350.4h0.8M221.7,360.3h0.8M223.3,355.7h0.8M221.0,361.8h0.8M224.4,354.8h0.8M224.0,353.4h0.8M221.8,357.7h0.8M222.0,359.0h0.8M222.8,354.2h0.8M224.1,347.2h0.8M223.4,353.0h0.8M222.1,357.2h0.8M224.2,349.7h0.8M223.4,354.3h0.8M224.1,353.5h0.8M223.9,349.1h0.8M223.4,360.8h0.8M224.2,351.0h0.8M222.6,358.1h0.8M223.4,350.7h0.8M224.3,350.2h0.8M221.9,358.2h0.8M220.6,366.2h0.8M220.6,362.5h0.8M221.9,360.8h0.8M223.6,353.5h0.8M223.3,356.0h0.8M225.1,349.7h0.8M224.4,349.6h0.8M222.4,355.0h0.8M222.5,353.8h0.8M222.6,354.4h0.8M223.5,358.6h0.8M223.6,356.3h0.8M220.5,357.3h0.8M224.2,350.1h0.8M222.9,359.9h0.8M220.6,361.6h0.8M223.3,351.4h0.8M223.7,351.6h0.8M222.5,357.7h0.8M223.2,359.2h0.8M224.0,351.8h0.8M223.9,354.1h0.8M223.0,348.7h0.8M224.8,352.4h0.8M222.3,358.1h0.8M223.5,358.6h0.8M222.0,362.0h0.8M224.7,351.1h0.8M221.7,358.7h0.8M219.2,365.9h0.8M223.0,351.5h0.8M220.5,364.0h0.8M221.4,363.5h0.8M222.6,360.9h0.8M221.1,356.9h0.8M221.1,360.0h0.8M222.9,360.8h0.8M221.9,361.3h0.8M222.6,359.5h0.8M219.4,362.7h0.8M224.7,354.8h0.8M220.8,362.8h0.8M221.1,358.7h0.8M223.9,352.4h0.8M220.9,362.9h0.8M223.5,350.5h0.8M221.2,358.8h0.8M222.3,355.8h0.8M222.9,352.5h0.8M221.4,363.4h0.8M218.0,370.7h0.8M223.3,355.5h0.8M221.6,359.2h0.8M227.0,355.3h0.8M221.6,360.3h0.8M222.7,358.9h0.8M223.2,356.8h0.8M224.3,349.3h0.8" stroke="#0a0a0a" stroke-width="0.8" fill="none"/>
<path d="M225.8,347.3h0.6M230.3,324.7h0.6M231.6,330.5h0.6M231.4,315.9h0.6M228.1,338.6h0.6M228.5,334.5h0.6M228.4,350.1h0.6M229.0,347.6h0.6M230.0,340.3h0.6M221.7,343.3h0.6M226.1,340.2h0.6M225.7,350.5h0.6M227.3,342.7h0.6M229.7,342.2h0.6M228.1,336.1h0.6M226.0,343.6h0.6M223.8,347.7h0.6M223.1,350.3h0.6M225.1,342.8h0.6M226.3,345.1h0.6M225.6,349.3h0.6M232.0,339.0h0.6M227.7,342.4h0.6M223.5,350.7h0.6M231.7,329.8h0.6M226.1,347.6h0.6M229.1,343.3h0.6M227.2,338.3h0.6M223.1,347.1h0.6M226.5,348.2h0.6M226.6,346.2h0.6M223.8,349.3h0.6M230.1,336.0h0.6M233.3,319.5h0.6M226.0,336.8h0.6M226.1,348.2h0.6M225.0,331.0h0.6M230.5,327.9h0.6M225.2,349.6h0.6M224.9,346.2h0.6M224.6,337.1h0.6M225.5,349.6h0.6M229.3,330.0h0.6M229.8,332.0h0.6M227.7,342.5h0.6M225.5,348.5h0.6M226.5,340.5h0.6M228.1,327.3h0.6M222.6,348.2h0.6M224.6,343.8h0.6M228.6,335.5h0.6M228.2,339.2h0.6M225.7,327.2h0.6M221.2,347.8h0.6M225.3,349.4h0.6M226.9,349.0h0.6M221.7,348.3h0.6M227.4,331.7h0.6M225.1,349.8h0.6M227.2,339.8h0.6M226.1,331.5h0.6M228.9,329.7h0.6M222.6,348.2h0.6M233.3,322.3h0.6M223.1,345.5h0.6M225.9,343.8h0.6M222.4,348.4h0.6M225.7,348.3h0.6M228.1,328.3h0.6M230.7,339.7h0.6M226.2,342.7h0.6M227.0,337.1h0.6M225.8,347.9h0.6M229.3,348.8h0.6M224.7,333.4h0.6M228.0,336.2h0.6M228.1,338.8h0.6M230.3,315.5h0.6M229.6,334.3h0.6M233.9,319.1h0.6M228.3,345.9h0.6M224.7,345.0h0.6M227.9,338.2h0.6M227.2,345.9h0.6M230.0,333.0h0.6M227.8,335.4h0.6M228.6,339.1h0.6M229.8,338.8h0.6M223.9,348.6h0.6M226.0,346.5h0.6M224.0,350.2h0.6M224.5,347.7h0.6M224.2,346.5h0.6M228.7,331.3h0.6M228.9,326.8h0.6M229.5,340.1h0.6M226.4,344.2h0.6M232.6,322.4h0.6M229.5,331.7h0.6M229.7,325.6h0.6M226.8,341.6h0.6M224.4,347.2h0.6M223.8,346.6h0.6M226.4,343.8h0.6M224.4,346.4h0.6M225.3,344.6h0.6M224.9,347.2h0.6M224.4,342.1h0.6M227.9,326.8h0.6M231.3,346.6h0.6M228.1,329.9h0.6M230.4,352.4h0.6M222.8,347.8h0.6M229.2,346.6h0.6M231.3,315.1h0.6M226.2,334.8h0.6M223.4,349.3h0.6M224.1,340.7h0.6M225.6,347.2h0.6M226.8,344.0h0.6M221.6,348.2h0.6M223.6,346.4h0.6M225.5,344.2h0.6M226.6,349.5h0.6M227.5,350.3h0.6M224.3,339.8h0.6M228.2,344.1h0.6M227.9,345.2h0.6M225.8,343.8h0.6M224.8,337.3h0.6M223.6,349.8h0.6M227.7,349.6h0.6M223.4,344.2h0.6M226.5,338.6h0.6M226.7,349.4h0.6M226.8,347.5h0.6M223.2,348.3h0.6M222.8,346.4h0.6M228.3,336.1h0.6M225.4,338.3h0.6M224.8,339.7h0.6M225.1,347.4h0.6M226.6,343.6h0.6M222.8,350.1h0.6M224.3,341.0h0.6M228.9,333.8h0.6M226.6,346.7h0.6M224.9,339.6h0.6M228.1,347.2h0.6M225.4,347.2h0.6M227.1,328.3h0.6M232.2,311.9h0.6M222.0,349.4h0.6M227.7,335.5h0.6M230.5,319.7h0.6M226.6,343.3h0.6M227.0,338.0h0.6M223.0,339.6h0.6M224.6,347.0h0.6M225.6,344.4h0.6M229.3,328.1h0.6M224.1,343.9h0.6M231.8,336.0h0.6M225.2,340.5h0.6M229.7,333.3h0.6M227.9,340.9h0.6M227.0,343.9h0.6M229.2,339.9h0.6M227.4,337.6h0.6M222.0,350.4h0.6" stroke="#444" stroke-width="0.6" fill="none" opacity="0.8"/>
<path d="M243.3,346.4h0.6M225.4,343.3h0.6M234.6,333.4h0.6M250.9,336.6h0.6M230.7,358.5h0.6M222.4,359.8h0.6M240.5,333.5h0.6M237.5,341.1h0.6M250.5,342.9h0.6M226.4,365.5h0.6M234.0,370.7h0.6M242.9,326.3h0.6M234.0,331.9h0.6M243.8,332.8h0.6M228.6,348.9h0.6M256.2,329.5h0.6M249.4,335.5h0.6M230.7,353.9h0.6M226.1,368.6h0.6M228.4,342.5h0.6M240.8,341.6h0.6M243.8,338.3h0.6M241.6,336.8h0.6M225.4,365.2h0.6M252.3,328.5h0.6M229.9,349.7h0.6M235.5,347.7h0.6M238.7,336.7h0.6M250.9,337.8h0.6M258.6,344.4h0.6M230.2,352.7h0.6M228.8,346.9h0.6M229.9,339.1h0.6M238.9,337.4h0.6M220.0,354.0h0.6M224.8,370.8h0.6M238.1,343.1h0.6M229.4,351.2h0.6M256.8,324.0h0.6M218.1,353.2h0.6M222.2,359.4h0.6M238.3,335.5h0.6M233.3,351.8h0.6M222.3,359.6h0.6M242.9,339.5h0.6M227.6,346.4h0.6M233.5,343.8h0.6M230.2,344.6h0.6M244.1,330.2h0.6M228.4,366.5h0.6M243.3,341.0h0.6M257.1,338.5h0.6M239.6,342.5h0.6M236.0,332.8h0.6M220.9,355.3h0.6M239.5,331.8h0.6M248.7,345.2h0.6M249.0,340.8h0.6M229.5,352.2h0.6M236.6,341.2h0.6M248.1,329.2h0.6M216.0,347.0h0.6M230.7,356.3h0.6M225.4,374.8h0.6M236.7,354.4h0.6M244.3,329.9h0.6M227.1,368.9h0.6M242.4,323.0h0.6M221.6,362.4h0.6M239.8,343.6h0.6M227.8,332.8h0.6M239.6,328.8h0.6M223.0,342.4h0.6M231.8,352.6h0.6M247.2,344.5h0.6M236.5,362.6h0.6M244.1,336.1h0.6M235.5,339.4h0.6M224.9,344.6h0.6M227.2,341.2h0.6M228.1,344.4h0.6M237.0,346.3h0.6M242.7,327.3h0.6M243.9,333.5h0.6M238.9,329.4h0.6M224.4,353.6h0.6M229.3,364.6h0.6M227.6,348.5h0.6M217.4,367.7h0.6M233.8,352.0h0.6M249.1,333.1h0.6M242.3,352.2h0.6M225.4,357.0h0.6M235.8,344.8h0.6M227.0,371.3h0.6M235.1,340.7h0.6M239.3,338.6h0.6M255.8,330.3h0.6M248.9,348.2h0.6M227.2,352.9h0.6M241.8,338.3h0.6M251.6,321.5h0.6M251.3,331.3h0.6M246.6,320.7h0.6M225.6,349.3h0.6M220.5,371.8h0.6M232.0,338.6h0.6M226.0,334.0h0.6M227.0,346.2h0.6M243.2,342.3h0.6M245.5,327.7h0.6M223.3,359.6h0.6M224.4,347.8h0.6M233.2,338.8h0.6M246.8,339.9h0.6M259.0,332.5h0.6M234.4,337.0h0.6M223.7,352.1h0.6M234.2,355.6h0.6M230.8,352.8h0.6M239.1,344.8h0.6M236.4,341.6h0.6M236.8,343.8h0.6M236.1,347.2h0.6M224.5,360.0h0.6M249.3,329.2h0.6M224.0,358.8h0.6M242.0,342.0h0.6M225.0,354.0h0.6M230.4,366.4h0.6M239.5,340.6h0.6M226.4,367.6h0.6M234.8,325.0h0.6M236.7,327.1h0.6M245.4,335.8h0.6M243.7,338.4h0.6M246.3,335.0h0.6M224.8,372.5h0.6M230.2,364.3h0.6M256.7,325.8h0.6M231.8,375.1h0.6M233.4,341.3h0.6M229.3,337.0h0.6M250.1,331.3h0.6M237.4,355.7h0.6M252.3,335.6h0.6M217.4,353.1h0.6M236.4,340.4h0.6M240.8,346.8h0.6M252.2,335.4h0.6M244.5,345.7h0.6M239.2,353.4h0.6M237.6,345.1h0.6M225.6,360.6h0.6M225.9,349.4h0.6M238.6,330.2h0.6M229.6,359.1h0.6M240.5,345.0h0.6M237.7,330.9h0.6M243.8,329.5h0.6M234.3,330.3h0.6M247.6,331.0h0.6M234.3,350.6h0.6M236.9,348.6h0.6M225.9,367.5h0.6M224.8,357.1h0.6M228.3,356.4h0.6M222.1,370.7h0.6M242.3,336.9h0.6M240.6,334.5h0.6M225.7,348.8h0.6M240.1,346.1h0.6M237.2,334.0h0.6M246.2,342.3h0.6M239.2,343.4h0.6M231.7,346.1h0.6M239.9,337.1h0.6M239.8,342.1h0.6M230.4,353.3h0.6M233.3,358.2h0.6M235.1,346.0h0.6M226.9,360.5h0.6M221.8,369.5h0.6M242.5,342.9h0.6M238.6,322.2h0.6M237.8,334.5h0.6M253.5,342.9h0.6M223.5,347.5h0.6M227.4,352.5h0.6M231.7,344.1h0.6M253.6,347.6h0.6M244.3,335.4h0.6M215.1,362.2h0.6M242.7,360.0h0.6M223.8,314.4h0.6M226.4,343.4h0.6M223.2,348.5h0.6M236.6,331.7h0.6M230.6,366.4h0.6M224.9,350.7h0.6M245.9,339.3h0.6M251.4,330.2h0.6M244.4,341.0h0.6M225.4,333.7h0.6M256.4,331.2h0.6M246.5,326.1h0.6M237.8,345.8h0.6M243.9,351.5h0.6M241.5,367.8h0.6M224.2,335.8h0.6M236.0,335.5h0.6M244.2,337.5h0.6M222.6,374.6h0.6M234.2,338.2h0.6M233.3,340.1h0.6M231.4,349.9h0.6M223.4,354.9h0.6M234.5,342.0h0.6M218.6,348.5h0.6M254.8,345.6h0.6M225.2,370.6h0.6M236.6,336.7h0.6M223.4,349.4h0.6M240.3,341.0h0.6M248.8,331.1h0.6M227.0,369.6h0.6M244.4,339.3h0.6M243.3,340.1h0.6M250.8,321.4h0.6M230.1,345.2h0.6M245.1,346.2h0.6M244.3,333.0h0.6M242.4,335.3h0.6M233.2,347.2h0.6M217.6,351.3h0.6M247.4,333.9h0.6M223.5,364.2h0.6M244.0,342.8h0.6M227.4,340.0h0.6M254.0,337.5h0.6M225.1,358.1h0.6M252.3,332.6h0.6M240.2,325.2h0.6M226.3,332.8h0.6M221.7,354.2h0.6M235.3,339.6h0.6M243.0,338.0h0.6M235.7,346.0h0.6M226.9,365.9h0.6M261.1,342.5h0.6M226.9,358.8h0.6M247.3,331.1h0.6M242.3,339.7h0.6M237.1,339.5h0.6M236.8,353.0h0.6M225.1,333.2h0.6M232.6,354.3h0.6M242.2,313.7h0.6M235.3,344.7h0.6M229.9,363.2h0.6M252.7,325.6h0.6M220.8,371.0h0.6M236.8,357.8h0.6M229.6,363.5h0.6M227.7,343.7h0.6M242.1,330.7h0.6M222.9,340.9h0.6M224.0,347.4h0.6M254.8,328.6h0.6M231.5,332.5h0.6M242.9,327.9h0.6M245.7,339.3h0.6M248.6,339.6h0.6M237.9,343.3h0.6M231.2,370.3h0.6M230.9,337.4h0.6M239.1,345.5h0.6M242.6,346.9h0.6M252.2,335.8h0.6M245.2,331.2h0.6M226.9,334.4h0.6M234.6,337.0h0.6M224.1,352.6h0.6M227.1,348.8h0.6M234.5,349.0h0.6M247.6,341.3h0.6M256.2,325.8h0.6M234.2,345.8h0.6M233.7,351.5h0.6M235.7,343.2h0.6M232.7,354.7h0.6M222.9,376.6h0.6M250.3,336.2h0.6M258.2,345.1h0.6M244.5,353.5h0.6M239.9,343.4h0.6M250.4,341.9h0.6M248.7,344.6h0.6M254.6,353.6h0.6M248.1,332.0h0.6M244.7,329.3h0.6M229.3,360.7h0.6M252.7,330.6h0.6M244.9,343.0h0.6M223.2,350.3h0.6M235.5,339.2h0.6M241.8,324.4h0.6M219.4,359.4h0.6M231.6,341.4h0.6M239.5,342.8h0.6M224.6,361.9h0.6M249.4,331.2h0.6M244.7,332.6h0.6M246.9,350.3h0.6M240.1,344.6h0.6M219.8,374.5h0.6M248.4,337.3h0.6M248.7,338.8h0.6M242.8,341.5h0.6M232.4,349.9h0.6M240.4,339.8h0.6M236.2,330.4h0.6M239.1,346.4h0.6M239.3,360.6h0.6M245.2,335.5h0.6M227.1,357.5h0.6M218.5,339.5h0.6M227.0,344.9h0.6M250.1,338.1h0.6M242.7,338.3h0.6M230.5,342.5h0.6M226.3,343.1h0.6M236.3,345.4h0.6M226.9,364.4h0.6M226.9,345.6h0.6M228.6,349.5h0.6M253.2,331.9h0.6M237.6,344.4h0.6M219.9,353.1h0.6M247.8,336.7h0.6M254.9,333.1h0.6M238.2,342.5h0.6M225.5,362.9h0.6M244.4,333.7h0.6M255.7,321.9h0.6M226.0,340.0h0.6M246.6,332.6h0.6M246.2,330.9h0.6M235.3,351.6h0.6M250.0,318.3h0.6M245.9,333.5h0.6M232.6,329.7h0.6M243.3,333.8h0.6M235.9,349.4h0.6M247.1,325.4h0.6M243.4,342.5h0.6M225.6,341.5h0.6M230.0,353.5h0.6M245.9,330.5h0.6M239.1,331.8h0.6M235.0,332.3h0.6M242.2,328.1h0.6M239.7,336.7h0.6M225.5,354.8h0.6M237.9,337.6h0.6M228.7,353.4h0.6M240.8,327.8h0.6M231.0,347.0h0.6M223.9,367.8h0.6M246.7,347.7h0.6M243.7,344.1h0.6M227.0,361.6h0.6M263.8,367.2h0.6M240.7,337.8h0.6M248.2,323.8h0.6M244.8,339.4h0.6M228.8,341.6h0.6M231.8,342.6h0.6M240.1,336.0h0.6M234.5,349.8h0.6M224.4,349.2h0.6M237.2,328.0h0.6M247.7,344.8h0.6M217.5,358.9h0.6M246.0,348.6h0.6M225.4,373.2h0.6M234.3,336.3h0.6M233.5,332.7h0.6M234.6,338.1h0.6M245.4,340.9h0.6M246.7,336.3h0.6M239.3,348.7h0.6M226.3,357.6h0.6M257.3,330.9h0.6M224.1,345.6h0.6M242.3,340.0h0.6M237.7,337.9h0.6M245.2,336.8h0.6M220.2,342.7h0.6M240.9,341.2h0.6M239.5,339.7h0.6M229.8,347.2h0.6M228.2,349.5h0.6M221.3,335.4h0.6M224.9,370.3h0.6M234.8,347.1h0.6M256.2,325.8h0.6M234.7,347.1h0.6M242.1,341.0h0.6M238.7,353.4h0.6M244.8,343.9h0.6M246.2,341.5h0.6M257.7,362.7h0.6M257.8,334.9h0.6M235.4,345.6h0.6M246.6,341.2h0.6M227.5,362.9h0.6M228.0,350.2h0.6M232.0,343.0h0.6M219.2,347.9h0.6M221.7,363.5h0.6M249.2,332.8h0.6M226.1,362.3h0.6M229.4,351.2h0.6M228.0,353.6h0.6M238.6,338.5h0.6M232.9,337.7h0.6M253.9,331.3h0.6M226.2,349.8h0.6M221.9,367.4h0.6M241.6,360.1h0.6M232.7,345.1h0.6M226.6,360.6h0.6M245.4,323.8h0.6M245.7,339.0h0.6M224.3,355.1h0.6M217.5,361.2h0.6M239.6,345.5h0.6M235.7,344.3h0.6M252.7,322.8h0.6M241.2,330.5h0.6M234.7,339.1h0.6M232.6,346.4h0.6M249.4,340.6h0.6M237.1,342.9h0.6M255.3,332.7h0.6M238.0,334.4h0.6M226.3,355.9h0.6" stroke="#666" stroke-width="0.6" fill="none" opacity="0.8"/>
<path d="M214.80,298.10H259.70" stroke="#444" stroke-width="0.9" fill="none"/>
<path d="M214.80,298.00V351.30H228.30V298.00M259.70,298.00V337.80L228.30,351.60" stroke="#4a4a4a" stroke-width="0.65" fill="none"/>
<text x="221.30" y="324.50" font-size="5.4" text-anchor="middle" fill="#000" textLength="13.2" lengthAdjust="spacingAndGlyphs" stroke="#000" stroke-width="0.3" >31,00</text>
<text x="244.10" y="324.50" font-size="5.4" text-anchor="middle" fill="#000" textLength="13.4" lengthAdjust="spacingAndGlyphs" stroke="#000" stroke-width="0.3" >17,32</text>
<text x="242.90" y="396.30" font-size="7.4" text-anchor="middle" fill="#111" textLength="45.4" lengthAdjust="spacingAndGlyphs" stroke="#111" stroke-width="0.3" >DNA content</text>
<text x="243.60" y="285.00" font-size="7.5" text-anchor="middle" fill="#111" textLength="43.2" lengthAdjust="spacingAndGlyphs" stroke="#111" stroke-width="0.3" >Anti-CXCR4</text>
<text x="243.60" y="294.90" font-size="7.5" text-anchor="middle" fill="#111" textLength="35" lengthAdjust="spacingAndGlyphs" stroke="#111" stroke-width="0.3" >+ CXCL12</text>
<path d="M90.50,433.30H170.50V514.20" stroke="#8a8a8a" stroke-width="0.6" fill="none"/>
<path d="M90.50,433.30V514.20H170.50" stroke="#555" stroke-width="0.7" fill="none"/>
<path d="M88.50,514.20H90.50M89.50,512.65H90.50M89.50,511.11H90.50M89.50,509.56H90.50M89.50,508.02H90.50M89.50,506.47H90.50M89.50,504.93H90.50M89.50,503.38H90.50M89.50,501.84H90.50M89.50,500.29H90.50M88.50,498.75H90.50M89.50,497.20H90.50M89.50,495.66H90.50M89.50,494.11H90.50M89.50,492.57H90.50M89.50,491.02H90.50M89.50,489.48H90.50M89.50,487.93H90.50M89.50,486.39H90.50M89.50,484.84H90.50M88.50,483.30H90.50M89.50,481.75H90.50M89.50,480.21H90.50M89.50,478.66H90.50M89.50,477.12H90.50M89.50,475.57H90.50M89.50,474.03H90.50M89.50,472.48H90.50M89.50,470.93H90.50M89.50,469.39H90.50M88.50,467.84H90.50M89.50,466.30H90.50M89.50,464.75H90.50M89.50,463.21H90.50M89.50,461.66H90.50M89.50,460.12H90.50M89.50,458.57H90.50M89.50,457.03H90.50M89.50,455.48H90.50M89.50,453.94H90.50M88.50,452.39H90.50M89.50,450.85H90.50M89.50,449.30H90.50M89.50,447.76H90.50M89.50,446.21H90.50M89.50,444.67H90.50M89.50,443.12H90.50M89.50,441.58H90.50M89.50,440.03H90.50M89.50,438.49H90.50M88.50,436.94H90.50M90.50,514.20V516.20M92.03,514.20V515.20M93.56,514.20V515.20M95.08,514.20V515.20M96.61,514.20V515.20M98.14,514.20V515.20M99.67,514.20V515.20M101.20,514.20V515.20M102.72,514.20V515.20M104.25,514.20V515.20M105.78,514.20V516.20M107.31,514.20V515.20M108.84,514.20V515.20M110.36,514.20V515.20M111.89,514.20V515.20M113.42,514.20V515.20M114.95,514.20V515.20M116.48,514.20V515.20M118.00,514.20V515.20M119.53,514.20V515.20M121.06,514.20V516.20M122.59,514.20V515.20M124.12,514.20V515.20M125.64,514.20V515.20M127.17,514.20V515.20M128.70,514.20V515.20M130.23,514.20V515.20M131.76,514.20V515.20M133.28,514.20V515.20M134.81,514.20V515.20M136.34,514.20V516.20M137.87,514.20V515.20M139.40,514.20V515.20M140.92,514.20V515.20M142.45,514.20V515.20M143.98,514.20V515.20M145.51,514.20V515.20M147.04,514.20V515.20M148.56,514.20V515.20M150.09,514.20V515.20M151.62,514.20V516.20M153.15,514.20V515.20M154.68,514.20V515.20M156.20,514.20V515.20M157.73,514.20V515.20M159.26,514.20V515.20M160.79,514.20V515.20M162.32,514.20V515.20M163.84,514.20V515.20M165.37,514.20V515.20M166.90,514.20V516.20" stroke="#555" stroke-width="0.45" fill="none"/>
<text x="86.90" y="499.85" font-size="3.2" text-anchor="end" fill="#666" >200</text>
<text x="105.78" y="520.50" font-size="3.2" text-anchor="middle" fill="#666" >200</text>
<text x="86.90" y="484.40" font-size="3.2" text-anchor="end" fill="#666" >400</text>
<text x="121.06" y="520.50" font-size="3.2" text-anchor="middle" fill="#666" >400</text>
<text x="86.90" y="468.94" font-size="3.2" text-anchor="end" fill="#666" >600</text>
<text x="136.34" y="520.50" font-size="3.2" text-anchor="middle" fill="#666" >600</text>
<text x="86.90" y="453.49" font-size="3.2" text-anchor="end" fill="#666" >800</text>
<text x="151.62" y="520.50" font-size="3.2" text-anchor="middle" fill="#666" >800</text>
<text x="86.90" y="438.04" font-size="3.2" text-anchor="end" fill="#666" >1000</text>
<text x="166.90" y="520.50" font-size="3.2" text-anchor="middle" fill="#666" >1000</text>
<path d="M106.1,496.8h0.8M106.1,493.6h0.8M108.0,496.1h0.8M107.6,495.0h0.8M107.4,492.9h0.8M107.4,495.0h0.8M106.9,499.2h0.8M105.8,499.5h0.8M105.5,497.5h0.8M106.3,503.0h0.8M107.6,493.5h0.8M107.9,486.8h0.8M106.5,492.4h0.8M106.2,492.5h0.8M106.9,487.6h0.8M107.3,497.0h0.8M107.0,504.0h0.8M106.6,499.1h0.8M107.4,491.6h0.8M106.8,491.7h0.8M105.3,492.9h0.8M106.9,489.5h0.8M106.5,498.7h0.8M107.0,488.7h0.8M106.5,495.4h0.8M105.3,498.9h0.8M107.7,493.2h0.8M106.7,498.3h0.8M107.4,493.7h0.8M106.8,496.0h0.8M106.1,494.2h0.8M107.5,496.0h0.8M107.7,497.7h0.8M105.8,496.2h0.8M105.6,496.4h0.8M105.8,492.9h0.8M106.7,495.3h0.8M107.1,496.6h0.8M106.5,494.2h0.8M106.8,492.2h0.8M108.4,492.0h0.8M107.8,494.0h0.8M106.7,500.6h0.8M106.1,501.2h0.8M104.9,492.4h0.8M105.9,498.4h0.8M106.5,499.1h0.8M106.1,492.8h0.8M105.0,497.6h0.8M104.8,497.9h0.8M106.6,501.3h0.8M106.5,491.9h0.8M106.3,494.0h0.8M108.8,491.4h0.8M105.1,504.9h0.8M106.2,497.8h0.8M108.8,489.5h0.8M107.4,495.5h0.8M105.9,501.5h0.8M106.6,496.5h0.8M105.7,494.1h0.8M108.2,499.7h0.8M106.2,502.1h0.8M107.6,492.6h0.8M105.5,495.0h0.8M105.3,497.1h0.8M108.0,487.8h0.8M107.3,492.6h0.8M107.7,497.0h0.8M107.8,492.0h0.8M107.7,493.2h0.8M107.1,496.5h0.8M106.7,495.1h0.8M108.9,493.1h0.8M107.2,503.4h0.8M107.7,497.2h0.8M106.3,499.3h0.8M107.2,491.4h0.8M106.0,493.9h0.8M107.8,500.0h0.8M106.8,494.8h0.8M105.4,500.7h0.8M106.4,499.4h0.8M106.3,495.8h0.8M106.7,498.0h0.8M106.2,490.7h0.8M107.2,501.0h0.8M105.9,500.9h0.8M108.4,495.1h0.8M103.5,503.1h0.8M107.7,495.8h0.8M106.2,494.8h0.8M105.2,494.5h0.8M108.4,492.4h0.8M107.4,496.3h0.8M107.6,499.6h0.8M105.9,497.8h0.8M105.0,498.2h0.8M108.8,493.0h0.8M106.1,500.9h0.8M106.6,493.6h0.8M106.5,501.5h0.8M107.4,491.5h0.8M106.1,499.5h0.8M106.0,502.9h0.8M108.3,490.8h0.8M107.2,495.8h0.8M106.7,497.4h0.8M106.7,497.7h0.8M106.8,497.4h0.8M107.1,492.7h0.8M106.7,500.5h0.8M106.3,496.3h0.8M106.4,493.2h0.8M107.7,491.8h0.8M106.0,498.0h0.8M106.0,495.8h0.8M105.3,491.5h0.8M106.6,494.8h0.8M106.9,499.7h0.8M107.0,497.3h0.8M106.4,497.1h0.8M107.9,493.5h0.8M107.3,491.5h0.8M107.2,489.6h0.8M104.7,500.5h0.8M105.5,500.9h0.8M106.4,502.3h0.8M106.8,495.3h0.8M106.9,494.5h0.8M106.5,496.4h0.8M105.9,495.1h0.8M108.7,490.6h0.8M108.8,495.5h0.8M107.2,499.2h0.8M106.7,501.7h0.8M107.4,498.4h0.8M107.7,495.1h0.8M107.5,493.1h0.8M108.1,496.6h0.8M107.4,494.1h0.8M107.2,489.8h0.8M108.5,488.8h0.8M105.7,495.0h0.8M107.1,490.7h0.8M107.0,495.0h0.8M107.8,491.8h0.8M105.5,502.4h0.8M107.1,494.1h0.8M107.7,492.4h0.8M106.9,489.0h0.8M107.7,490.4h0.8M107.6,494.3h0.8M107.3,496.8h0.8M107.4,496.3h0.8M107.5,498.5h0.8M105.6,501.2h0.8M107.0,495.6h0.8M106.2,498.4h0.8M107.8,494.5h0.8M107.0,490.4h0.8M106.6,495.6h0.8M105.8,501.2h0.8M106.2,490.9h0.8M108.9,484.4h0.8M107.7,488.7h0.8M106.2,504.3h0.8M107.0,489.2h0.8M108.0,490.6h0.8M107.8,492.4h0.8M107.6,493.2h0.8M107.7,490.8h0.8M107.5,493.0h0.8M106.2,494.8h0.8M105.2,502.2h0.8M105.1,500.0h0.8M106.9,492.7h0.8M110.0,490.8h0.8M106.8,492.4h0.8M106.8,493.9h0.8M108.7,494.5h0.8M108.6,489.3h0.8M108.5,494.4h0.8M108.0,492.3h0.8M105.8,499.8h0.8M106.7,494.7h0.8M104.9,497.2h0.8M106.4,498.3h0.8M106.1,494.1h0.8M108.3,496.1h0.8M105.3,494.6h0.8M106.8,496.1h0.8M107.6,490.5h0.8M107.7,490.1h0.8M108.5,491.0h0.8M107.7,489.5h0.8M110.5,493.3h0.8M106.5,500.1h0.8M106.5,493.5h0.8M107.1,492.2h0.8M107.4,492.3h0.8M107.3,499.1h0.8M108.5,487.7h0.8M105.5,494.1h0.8M107.0,494.1h0.8M104.9,498.3h0.8M107.9,493.7h0.8M109.1,492.8h0.8M106.3,502.7h0.8M108.0,495.6h0.8M106.0,495.4h0.8M107.2,495.6h0.8M105.9,498.1h0.8M107.7,494.4h0.8M107.2,496.3h0.8M106.3,497.3h0.8M107.8,494.7h0.8M107.4,489.2h0.8M108.7,493.8h0.8M106.9,492.1h0.8M105.8,493.7h0.8M105.3,503.4h0.8M105.4,498.0h0.8M106.9,491.4h0.8M107.0,495.0h0.8M105.8,496.0h0.8M106.0,487.7h0.8M107.4,495.6h0.8M106.7,496.1h0.8M107.2,494.2h0.8M107.6,496.8h0.8M108.4,493.6h0.8M105.2,494.8h0.8M105.7,501.7h0.8M105.7,493.5h0.8M107.7,497.6h0.8M106.4,494.0h0.8M106.9,495.8h0.8M106.4,496.9h0.8M106.8,497.8h0.8M108.8,489.4h0.8M108.3,500.4h0.8M105.6,495.7h0.8M106.3,501.1h0.8M106.4,494.4h0.8M106.3,498.4h0.8M107.5,494.4h0.8M105.1,493.0h0.8M106.8,497.7h0.8M107.7,494.0h0.8M107.6,501.2h0.8M106.2,499.9h0.8M106.3,497.1h0.8M107.2,498.4h0.8M107.5,492.4h0.8M105.8,500.2h0.8M107.2,495.6h0.8M106.4,497.4h0.8M108.0,485.3h0.8M104.6,496.3h0.8M107.9,498.4h0.8M106.2,492.0h0.8M107.3,492.4h0.8M107.2,498.5h0.8M106.3,497.7h0.8M107.0,495.3h0.8M106.9,497.0h0.8M107.0,495.4h0.8M106.5,493.8h0.8M106.2,500.6h0.8M107.7,490.7h0.8M106.3,494.4h0.8M105.3,499.6h0.8M106.2,498.8h0.8M106.1,501.2h0.8M106.8,501.4h0.8M105.3,495.3h0.8M106.8,497.5h0.8M107.7,494.0h0.8M106.6,496.7h0.8M107.2,496.3h0.8M106.4,498.0h0.8M106.6,494.8h0.8M107.6,499.6h0.8M106.3,493.4h0.8M107.0,487.8h0.8M106.2,498.6h0.8M108.4,493.4h0.8M107.9,490.2h0.8M107.5,495.2h0.8M105.9,498.3h0.8M107.3,493.3h0.8M106.1,494.4h0.8M105.7,494.3h0.8M107.3,491.8h0.8M106.2,497.8h0.8M110.7,485.1h0.8M107.7,498.1h0.8M106.6,506.5h0.8M107.1,495.3h0.8M105.3,498.9h0.8M106.6,494.4h0.8M108.0,493.5h0.8M107.3,495.8h0.8M107.1,494.7h0.8M106.8,497.3h0.8M107.1,493.7h0.8M105.4,496.9h0.8M107.7,499.5h0.8M107.5,491.5h0.8M106.9,494.2h0.8M108.0,492.8h0.8M107.0,496.3h0.8M105.9,491.6h0.8M106.0,498.9h0.8M106.0,499.7h0.8M106.2,498.5h0.8M106.1,493.4h0.8M108.1,495.1h0.8M105.9,494.5h0.8M107.6,497.7h0.8M106.2,496.3h0.8M106.6,492.3h0.8M106.9,499.6h0.8M106.3,495.2h0.8M108.0,493.7h0.8M107.4,491.2h0.8M107.5,493.6h0.8M107.7,501.1h0.8M106.1,497.8h0.8M105.7,498.4h0.8M107.3,491.2h0.8M105.1,497.4h0.8M106.9,494.7h0.8M106.3,499.2h0.8M106.6,502.3h0.8M106.8,500.0h0.8M105.1,494.8h0.8M105.8,499.5h0.8M107.7,492.4h0.8M108.5,493.1h0.8M106.3,496.4h0.8M105.2,502.4h0.8M106.4,493.1h0.8M107.3,498.7h0.8M107.0,504.8h0.8M105.9,490.3h0.8M107.0,493.6h0.8M107.0,491.9h0.8M108.0,495.9h0.8M107.0,497.6h0.8M107.0,492.9h0.8M107.7,492.1h0.8M105.8,492.0h0.8M106.7,499.3h0.8M108.6,491.1h0.8M106.2,495.2h0.8M104.7,499.3h0.8M107.1,497.3h0.8M105.6,495.5h0.8M106.9,495.7h0.8M107.8,498.3h0.8M108.0,493.8h0.8M106.1,494.9h0.8M108.3,491.4h0.8M105.5,497.4h0.8M106.7,492.2h0.8M106.3,499.7h0.8M106.5,493.2h0.8M107.7,495.3h0.8M105.8,492.4h0.8M108.7,492.8h0.8M107.2,491.9h0.8M105.7,493.8h0.8M106.2,497.5h0.8M107.7,487.5h0.8M107.9,499.2h0.8M106.0,490.5h0.8M105.3,495.9h0.8M105.4,491.2h0.8M106.7,488.2h0.8M108.2,499.5h0.8M107.4,493.3h0.8M106.4,492.0h0.8M107.0,492.0h0.8M107.3,493.4h0.8M106.3,490.0h0.8M106.8,500.6h0.8M108.3,486.5h0.8M107.4,496.0h0.8M106.4,499.9h0.8M106.3,501.7h0.8M108.6,492.8h0.8M107.4,497.3h0.8M106.5,490.2h0.8M105.2,496.2h0.8M106.9,498.7h0.8M105.8,502.9h0.8M108.4,492.7h0.8M106.2,504.8h0.8M104.6,497.4h0.8M106.9,499.2h0.8M107.5,495.5h0.8M107.3,496.5h0.8M105.6,498.9h0.8M105.3,495.8h0.8M107.2,490.7h0.8M105.7,498.9h0.8M106.6,499.0h0.8M107.4,496.8h0.8M106.3,499.7h0.8M105.8,501.0h0.8M107.3,490.2h0.8M107.2,492.0h0.8M105.7,499.4h0.8M106.7,499.6h0.8M109.5,494.7h0.8M108.3,489.1h0.8M106.6,499.0h0.8M108.5,499.0h0.8M107.6,498.2h0.8M107.0,500.5h0.8M106.0,499.9h0.8M107.1,494.7h0.8M106.8,495.6h0.8M106.4,498.6h0.8M106.0,495.5h0.8M107.2,493.2h0.8M107.7,498.3h0.8M105.0,497.3h0.8M107.1,490.6h0.8M107.8,489.9h0.8M107.5,498.8h0.8M107.8,493.7h0.8M108.2,495.3h0.8M107.0,491.8h0.8M106.2,501.0h0.8M106.0,495.0h0.8M108.1,496.2h0.8M107.6,497.2h0.8M105.6,498.8h0.8M107.1,491.8h0.8M107.8,494.6h0.8M106.5,489.1h0.8M107.3,493.2h0.8M108.5,495.0h0.8M106.2,496.2h0.8M105.3,493.3h0.8M106.2,493.9h0.8M106.4,494.1h0.8M106.9,493.4h0.8M107.0,498.1h0.8M105.8,492.4h0.8M106.1,500.2h0.8M107.8,496.9h0.8M107.9,489.4h0.8M107.0,491.2h0.8M106.6,500.5h0.8M107.5,502.1h0.8M108.0,494.5h0.8M105.2,497.6h0.8M107.2,496.2h0.8M106.3,496.1h0.8M106.7,495.0h0.8M106.3,490.0h0.8M105.9,503.7h0.8M105.6,494.2h0.8M107.2,495.6h0.8M107.3,494.1h0.8M105.3,498.1h0.8M106.9,491.7h0.8M107.6,500.7h0.8M104.7,492.3h0.8M108.1,485.7h0.8M107.0,501.5h0.8M108.1,494.3h0.8M105.4,495.2h0.8M106.4,495.9h0.8M106.8,494.3h0.8M106.0,493.1h0.8M106.2,497.4h0.8M105.6,493.7h0.8M108.9,495.6h0.8M107.0,502.2h0.8M107.7,495.1h0.8M107.1,495.2h0.8M107.4,494.0h0.8M106.2,499.9h0.8M108.8,488.6h0.8M105.7,498.5h0.8M107.7,496.1h0.8M106.7,491.9h0.8M105.8,504.3h0.8M107.2,501.7h0.8M108.0,489.9h0.8M107.6,493.2h0.8M108.6,488.5h0.8M106.5,489.8h0.8M106.6,497.3h0.8M105.7,503.7h0.8M106.8,495.5h0.8M107.7,485.8h0.8M106.7,496.1h0.8M105.5,496.5h0.8M107.3,491.2h0.8M107.0,494.0h0.8M105.2,498.2h0.8M107.2,496.5h0.8M107.4,495.9h0.8M106.3,498.3h0.8M106.8,494.8h0.8M108.2,494.9h0.8M106.8,497.0h0.8M107.1,497.9h0.8M106.3,494.5h0.8M105.4,499.1h0.8M106.9,496.5h0.8M106.5,497.2h0.8M108.9,495.1h0.8M109.3,491.2h0.8M107.1,494.9h0.8M108.0,488.1h0.8M106.7,492.9h0.8M107.3,497.5h0.8M106.0,497.6h0.8M106.5,501.0h0.8M107.3,495.8h0.8M105.4,498.6h0.8M107.3,491.2h0.8M106.2,492.3h0.8M104.1,500.0h0.8M107.8,494.4h0.8M108.9,490.6h0.8M105.1,502.2h0.8M105.9,497.3h0.8M106.1,496.1h0.8M106.2,500.9h0.8M106.2,494.9h0.8M105.7,495.2h0.8M106.4,496.6h0.8M106.6,497.1h0.8M105.2,500.1h0.8M107.1,498.6h0.8M105.6,498.9h0.8M107.5,487.9h0.8M105.9,496.8h0.8M107.9,489.9h0.8M108.3,494.6h0.8M104.9,499.7h0.8M107.7,491.3h0.8M107.3,497.4h0.8M108.5,496.0h0.8M106.6,500.2h0.8M108.0,491.8h0.8M106.4,496.7h0.8M107.3,497.1h0.8M106.6,496.9h0.8M107.2,491.5h0.8M106.8,494.5h0.8M104.9,495.2h0.8M106.8,499.0h0.8M106.0,497.8h0.8M108.8,495.4h0.8M105.7,498.2h0.8M106.5,502.2h0.8M106.1,495.5h0.8M107.5,497.1h0.8M107.6,491.6h0.8M108.2,491.1h0.8M107.3,497.2h0.8M107.6,494.9h0.8M108.8,494.6h0.8M106.6,500.2h0.8M108.4,499.7h0.8M106.3,497.3h0.8M106.8,495.5h0.8M107.5,489.0h0.8M107.9,494.6h0.8M106.6,489.6h0.8M105.8,494.1h0.8M108.3,493.7h0.8M106.4,497.4h0.8M107.7,491.0h0.8M106.8,492.3h0.8M106.4,496.6h0.8M106.2,489.3h0.8M108.0,497.5h0.8M105.9,495.6h0.8M106.8,494.5h0.8M107.2,495.9h0.8M105.9,492.3h0.8M108.2,494.8h0.8M106.2,500.5h0.8M106.9,499.9h0.8M106.2,498.6h0.8M107.1,497.0h0.8M105.1,500.2h0.8M108.1,494.8h0.8M107.0,497.4h0.8M107.0,494.4h0.8M106.4,495.4h0.8M107.8,496.5h0.8M108.1,493.9h0.8M106.6,498.2h0.8M105.4,497.7h0.8M107.0,492.0h0.8M105.7,494.4h0.8M106.6,496.4h0.8M107.6,497.0h0.8M107.1,493.7h0.8M106.6,494.5h0.8M106.3,498.1h0.8M106.3,499.3h0.8M107.8,496.0h0.8M108.8,497.3h0.8M106.7,497.4h0.8M106.3,495.5h0.8M105.3,495.5h0.8M106.8,491.2h0.8M105.2,495.4h0.8M106.0,493.2h0.8M106.5,490.2h0.8M107.1,498.3h0.8M105.6,490.4h0.8M107.6,502.0h0.8M105.7,493.6h0.8M107.3,497.1h0.8M108.0,497.0h0.8M106.7,498.1h0.8M108.6,491.2h0.8M107.5,494.6h0.8M106.6,496.7h0.8M106.9,497.6h0.8M106.3,492.2h0.8M106.4,499.8h0.8M107.9,487.9h0.8M106.9,494.9h0.8M105.5,501.7h0.8M105.6,489.5h0.8M106.5,488.5h0.8M110.0,488.0h0.8M107.3,489.8h0.8M106.6,493.2h0.8M106.8,497.2h0.8M106.0,507.4h0.8M105.8,496.5h0.8M107.3,496.6h0.8M106.8,498.4h0.8M106.4,500.5h0.8M107.0,499.9h0.8M106.9,499.4h0.8M106.2,503.0h0.8M106.6,491.2h0.8M106.1,495.2h0.8M107.7,493.7h0.8M108.5,491.2h0.8M106.7,490.5h0.8M107.4,495.1h0.8M105.8,494.6h0.8M109.9,488.1h0.8M104.6,495.0h0.8M107.4,488.6h0.8M106.9,486.8h0.8M107.8,493.5h0.8M105.9,500.8h0.8M107.6,493.7h0.8M104.7,493.7h0.8M106.2,504.5h0.8M106.1,489.3h0.8M107.8,494.1h0.8M105.0,499.0h0.8M106.6,494.4h0.8M106.6,495.8h0.8M107.1,495.9h0.8M106.6,497.5h0.8M105.8,497.5h0.8M106.2,494.1h0.8M107.0,493.4h0.8M107.8,491.4h0.8M106.0,503.0h0.8M107.2,493.0h0.8M107.8,495.4h0.8M105.9,492.8h0.8M107.8,495.2h0.8M105.8,494.7h0.8M107.7,492.6h0.8M107.5,491.1h0.8M107.6,495.1h0.8M107.9,499.8h0.8M107.2,494.0h0.8M107.8,492.7h0.8M106.7,503.9h0.8M106.1,495.8h0.8M108.0,492.1h0.8M106.4,494.0h0.8M106.0,495.0h0.8M107.3,485.9h0.8M108.6,492.3h0.8M106.0,498.6h0.8M105.7,503.9h0.8M106.4,500.5h0.8M106.8,496.3h0.8M106.4,495.3h0.8M106.8,495.0h0.8M106.3,498.1h0.8M105.5,497.5h0.8M105.2,495.4h0.8M107.0,493.5h0.8M107.9,495.0h0.8M106.8,491.8h0.8M108.0,494.3h0.8M107.1,496.1h0.8M106.1,493.8h0.8M106.6,494.4h0.8M107.1,496.5h0.8M106.3,492.9h0.8M106.6,496.4h0.8M106.8,499.1h0.8M106.1,496.2h0.8M107.2,491.9h0.8M106.3,499.8h0.8M107.0,496.2h0.8M108.3,487.0h0.8M107.3,490.0h0.8M107.5,493.7h0.8M107.0,495.9h0.8M107.3,497.2h0.8M108.0,499.0h0.8M104.1,509.3h0.8M107.1,496.0h0.8M105.5,494.8h0.8M106.2,493.8h0.8M106.5,494.7h0.8M105.4,496.3h0.8M105.8,500.3h0.8M106.6,499.5h0.8M106.4,500.8h0.8M106.4,493.3h0.8M106.1,499.0h0.8M108.4,492.6h0.8M107.8,487.4h0.8M107.3,493.2h0.8M105.9,495.4h0.8M107.7,496.9h0.8M106.9,490.2h0.8M107.8,501.7h0.8M107.2,495.4h0.8M105.2,495.9h0.8M106.1,494.2h0.8M106.2,496.5h0.8M108.9,496.7h0.8M105.7,489.6h0.8M105.7,501.2h0.8M107.2,498.1h0.8M106.8,489.5h0.8M106.9,493.3h0.8M107.1,503.0h0.8M106.8,488.8h0.8M106.6,493.0h0.8M106.4,495.8h0.8M106.8,496.0h0.8M106.8,497.8h0.8M107.0,500.4h0.8M104.8,498.9h0.8M106.9,492.3h0.8M107.4,497.6h0.8M108.5,495.8h0.8M105.7,493.7h0.8M106.0,497.3h0.8M108.2,496.7h0.8M109.5,485.4h0.8M107.5,493.8h0.8M104.9,494.6h0.8M109.2,490.4h0.8M106.6,497.4h0.8M106.4,498.1h0.8M105.5,498.6h0.8M105.6,490.7h0.8M106.2,491.5h0.8M104.9,496.2h0.8M106.2,492.9h0.8M107.0,486.0h0.8M107.5,494.6h0.8M105.7,499.1h0.8M106.9,499.6h0.8M107.9,494.5h0.8M105.4,500.8h0.8M106.4,495.9h0.8M108.0,494.4h0.8M106.2,494.9h0.8M106.2,495.6h0.8M108.2,498.1h0.8M108.7,493.1h0.8M106.7,496.3h0.8M106.5,500.3h0.8M107.8,492.8h0.8M106.4,499.9h0.8M106.8,491.9h0.8M106.7,492.8h0.8M106.3,495.4h0.8M105.5,501.0h0.8M106.7,494.8h0.8M106.3,495.4h0.8M107.0,492.1h0.8M106.6,493.9h0.8M107.3,490.5h0.8M109.0,494.0h0.8M105.6,493.7h0.8M106.8,498.0h0.8M105.0,500.3h0.8M105.4,495.8h0.8M107.7,491.4h0.8M107.8,496.8h0.8M105.5,497.9h0.8M107.2,492.0h0.8M107.7,496.4h0.8M107.4,496.0h0.8M108.0,494.7h0.8M106.6,493.3h0.8M107.1,489.7h0.8M106.4,488.8h0.8M104.9,495.0h0.8M108.2,493.6h0.8M107.1,497.0h0.8M108.0,496.4h0.8M107.3,494.2h0.8M105.9,491.2h0.8M107.2,492.9h0.8M107.4,490.6h0.8M107.0,493.2h0.8M106.0,499.1h0.8M105.6,496.0h0.8M106.4,495.6h0.8M107.4,488.6h0.8M107.0,495.0h0.8M105.7,492.7h0.8M107.5,502.2h0.8M105.7,498.5h0.8M107.6,491.1h0.8M107.2,498.5h0.8M107.8,499.9h0.8M107.0,496.7h0.8M108.5,495.7h0.8M106.4,499.0h0.8M105.9,487.2h0.8M106.9,497.3h0.8M107.1,496.3h0.8M106.3,491.0h0.8M107.7,498.0h0.8M105.3,487.8h0.8M107.9,493.5h0.8M105.8,497.9h0.8M106.2,499.7h0.8M107.0,499.8h0.8M107.0,498.1h0.8M107.0,501.4h0.8M108.0,493.0h0.8M109.0,494.6h0.8M107.3,491.8h0.8M107.2,489.3h0.8M108.4,495.0h0.8M106.6,497.2h0.8M107.1,494.5h0.8M107.6,496.4h0.8M107.4,487.3h0.8M105.8,500.9h0.8M105.1,500.5h0.8M107.4,499.4h0.8M107.5,494.9h0.8M107.7,495.9h0.8M107.8,497.1h0.8M107.4,492.1h0.8M105.3,500.8h0.8M106.0,494.3h0.8M106.6,496.0h0.8M106.8,490.2h0.8M106.5,494.9h0.8M106.9,498.3h0.8M106.0,491.6h0.8M109.4,490.0h0.8M107.4,494.9h0.8M106.1,499.3h0.8M106.9,494.2h0.8M106.6,490.1h0.8M107.2,496.4h0.8M106.6,495.7h0.8M107.2,495.9h0.8M108.3,502.9h0.8M106.2,492.5h0.8M105.5,498.7h0.8M105.4,493.6h0.8M107.4,486.1h0.8M108.1,500.9h0.8M107.3,495.5h0.8M106.5,496.1h0.8M106.0,487.5h0.8M106.3,494.4h0.8M106.6,496.7h0.8M106.6,502.4h0.8M107.4,494.7h0.8" stroke="#0a0a0a" stroke-width="0.8" fill="none"/>
<path d="M109.1,485.5h0.6M109.0,486.6h0.6M109.6,479.0h0.6M108.9,478.2h0.6M111.3,482.0h0.6M105.7,488.5h0.6M110.8,477.7h0.6M109.0,482.0h0.6M107.5,487.6h0.6M107.8,486.7h0.6M107.6,476.5h0.6M108.6,486.1h0.6M106.4,484.6h0.6M109.1,483.0h0.6M109.1,489.2h0.6M107.9,487.3h0.6M107.8,490.3h0.6M108.4,490.1h0.6M109.8,483.3h0.6M108.8,476.5h0.6M106.2,485.4h0.6M105.3,489.3h0.6M108.4,481.9h0.6M110.1,481.4h0.6M109.3,484.3h0.6M112.2,477.5h0.6M108.3,489.7h0.6M108.9,485.2h0.6M110.1,485.5h0.6M107.6,489.2h0.6M107.6,486.1h0.6M106.0,472.3h0.6M108.3,475.8h0.6M108.1,484.5h0.6M105.5,486.6h0.6M108.8,485.4h0.6M110.2,476.5h0.6M106.9,485.1h0.6M107.7,480.7h0.6M109.4,489.9h0.6M109.1,476.2h0.6M107.7,485.3h0.6M109.4,479.5h0.6M105.7,484.0h0.6M110.4,483.6h0.6M110.5,480.8h0.6M108.6,478.8h0.6M107.3,486.0h0.6M108.3,482.2h0.6M110.0,476.2h0.6M108.4,488.8h0.6M110.5,480.5h0.6M106.3,488.1h0.6M108.4,482.1h0.6M107.7,488.0h0.6M111.7,485.6h0.6M110.2,484.8h0.6M107.0,483.0h0.6M106.9,480.3h0.6M107.7,476.3h0.6M108.7,488.6h0.6M109.7,475.3h0.6M107.5,489.5h0.6M110.2,472.0h0.6M109.7,484.8h0.6M109.5,488.2h0.6M106.1,489.7h0.6M109.4,486.1h0.6M107.6,488.4h0.6M108.6,488.5h0.6M109.6,475.0h0.6M107.8,479.3h0.6M109.4,488.9h0.6M106.0,490.3h0.6M110.5,467.0h0.6M109.8,467.2h0.6M107.2,484.1h0.6M111.6,481.7h0.6M105.5,489.3h0.6M108.4,482.9h0.6" stroke="#444" stroke-width="0.6" fill="none" opacity="0.8"/>
<path d="M132.9,474.3h0.6M130.6,481.2h0.6M122.6,469.4h0.6M128.7,482.8h0.6M108.1,493.3h0.6M112.7,502.7h0.6M108.4,487.2h0.6M116.7,472.7h0.6M115.6,488.7h0.6M130.2,477.1h0.6M128.5,471.4h0.6M112.4,503.2h0.6M130.2,474.4h0.6M115.9,481.8h0.6M110.6,475.3h0.6M138.3,471.6h0.6M119.6,473.7h0.6M125.4,469.4h0.6M126.5,472.9h0.6M134.5,460.6h0.6M110.5,495.9h0.6M95.0,503.1h0.6M121.7,483.9h0.6M115.1,482.5h0.6M111.9,497.3h0.6M111.0,509.0h0.6M109.3,509.6h0.6M110.3,497.3h0.6M133.2,475.4h0.6M113.0,491.3h0.6M111.6,499.3h0.6M116.3,470.7h0.6M105.9,498.0h0.6M137.4,470.4h0.6M118.2,472.7h0.6M123.8,487.2h0.6M128.3,485.6h0.6M128.7,468.2h0.6M128.8,479.3h0.6M130.1,477.4h0.6M131.5,476.1h0.6M116.2,453.3h0.6M120.4,484.3h0.6M138.5,459.1h0.6M124.0,495.5h0.6M111.1,460.9h0.6M101.8,496.4h0.6M122.8,471.3h0.6M122.8,466.0h0.6M117.7,485.5h0.6M105.9,491.7h0.6M114.6,504.4h0.6M109.2,503.9h0.6M108.2,511.9h0.6M111.9,503.3h0.6M127.7,462.4h0.6M121.9,475.5h0.6M110.5,489.9h0.6M125.5,488.3h0.6M103.2,502.6h0.6M115.8,482.8h0.6M125.9,468.4h0.6M124.7,484.6h0.6M131.5,478.2h0.6M120.0,487.2h0.6M125.5,471.7h0.6M111.7,499.3h0.6M105.8,478.2h0.6M119.2,479.6h0.6M114.0,491.5h0.6M113.9,472.1h0.6M119.2,482.2h0.6M106.5,488.0h0.6M120.7,469.6h0.6M112.4,505.9h0.6M118.5,471.0h0.6M138.8,462.1h0.6M132.9,483.3h0.6M124.4,472.4h0.6M105.7,510.5h0.6M120.0,480.0h0.6M121.2,489.7h0.6M99.9,502.8h0.6M118.0,475.6h0.6M122.7,486.3h0.6M109.9,493.1h0.6M103.7,510.1h0.6M138.8,466.6h0.6M105.8,494.7h0.6M122.7,485.7h0.6M117.6,483.9h0.6M116.9,481.6h0.6M111.6,490.8h0.6M120.3,454.0h0.6M113.7,501.1h0.6M136.4,485.2h0.6M111.9,500.2h0.6M119.2,482.3h0.6M105.3,480.8h0.6M122.6,488.0h0.6M125.2,482.0h0.6M130.1,474.3h0.6M126.9,466.8h0.6M123.6,489.8h0.6M123.9,464.3h0.6M115.3,485.8h0.6M107.3,491.9h0.6M130.9,466.9h0.6M111.4,491.4h0.6M111.0,489.1h0.6M113.2,497.9h0.6M109.7,506.6h0.6M119.2,494.2h0.6M115.7,484.3h0.6M124.9,503.7h0.6M125.0,502.2h0.6M129.5,482.6h0.6M123.4,481.6h0.6M126.6,468.8h0.6M105.6,503.7h0.6M118.3,501.2h0.6M127.5,480.1h0.6M121.4,483.4h0.6M126.6,468.3h0.6M117.2,484.8h0.6M124.4,485.4h0.6M102.5,510.8h0.6M123.5,483.3h0.6" stroke="#666" stroke-width="0.6" fill="none" opacity="0.8"/>
<path d="M99.40,433.70H136.90" stroke="#444" stroke-width="0.9" fill="none"/>
<path d="M99.40,433.60V492.90H111.90V433.60M136.90,433.60V483.90L111.90,493.20" stroke="#4a4a4a" stroke-width="0.65" fill="none"/>
<text x="105.30" y="463.10" font-size="5.4" text-anchor="middle" fill="#000" textLength="13.2" lengthAdjust="spacingAndGlyphs" stroke="#000" stroke-width="0.3" >18,58</text>
<text x="124.20" y="463.10" font-size="5.4" text-anchor="middle" fill="#000" textLength="9.6" lengthAdjust="spacingAndGlyphs" stroke="#000" stroke-width="0.3" >1,44</text>
<text x="74.50" y="477.70" font-size="7.4" text-anchor="middle" fill="#111" textLength="33.6" lengthAdjust="spacingAndGlyphs" transform="rotate(-90 74.50 477.70)" stroke="#111" stroke-width="0.3" >Cyclin D3</text>
<text x="128.00" y="531.90" font-size="7.4" text-anchor="middle" fill="#111" textLength="45.4" lengthAdjust="spacingAndGlyphs" stroke="#111" stroke-width="0.3" >DNA content</text>
<text x="126.40" y="427.10" font-size="7.5" text-anchor="middle" fill="#111" stroke="#111" stroke-width="0.3" >CT</text>
<path d="M205.50,433.30H285.40V514.30" stroke="#8a8a8a" stroke-width="0.6" fill="none"/>
<path d="M205.50,433.30V514.30H285.40" stroke="#555" stroke-width="0.7" fill="none"/>
<path d="M203.50,514.30H205.50M204.50,512.75H205.50M204.50,511.21H205.50M204.50,509.66H205.50M204.50,508.11H205.50M204.50,506.56H205.50M204.50,505.02H205.50M204.50,503.47H205.50M204.50,501.92H205.50M204.50,500.38H205.50M203.50,498.83H205.50M204.50,497.28H205.50M204.50,495.73H205.50M204.50,494.19H205.50M204.50,492.64H205.50M204.50,491.09H205.50M204.50,489.55H205.50M204.50,488.00H205.50M204.50,486.45H205.50M204.50,484.91H205.50M203.50,483.36H205.50M204.50,481.81H205.50M204.50,480.26H205.50M204.50,478.72H205.50M204.50,477.17H205.50M204.50,475.62H205.50M204.50,474.08H205.50M204.50,472.53H205.50M204.50,470.98H205.50M204.50,469.43H205.50M203.50,467.89H205.50M204.50,466.34H205.50M204.50,464.79H205.50M204.50,463.25H205.50M204.50,461.70H205.50M204.50,460.15H205.50M204.50,458.60H205.50M204.50,457.06H205.50M204.50,455.51H205.50M204.50,453.96H205.50M203.50,452.42H205.50M204.50,450.87H205.50M204.50,449.32H205.50M204.50,447.77H205.50M204.50,446.23H205.50M204.50,444.68H205.50M204.50,443.13H205.50M204.50,441.59H205.50M204.50,440.04H205.50M204.50,438.49H205.50M203.50,436.94H205.50M205.50,514.30V516.30M207.03,514.30V515.30M208.55,514.30V515.30M210.08,514.30V515.30M211.60,514.30V515.30M213.13,514.30V515.30M214.66,514.30V515.30M216.18,514.30V515.30M217.71,514.30V515.30M219.23,514.30V515.30M220.76,514.30V516.30M222.29,514.30V515.30M223.81,514.30V515.30M225.34,514.30V515.30M226.87,514.30V515.30M228.39,514.30V515.30M229.92,514.30V515.30M231.44,514.30V515.30M232.97,514.30V515.30M234.50,514.30V515.30M236.02,514.30V516.30M237.55,514.30V515.30M239.07,514.30V515.30M240.60,514.30V515.30M242.13,514.30V515.30M243.65,514.30V515.30M245.18,514.30V515.30M246.70,514.30V515.30M248.23,514.30V515.30M249.76,514.30V515.30M251.28,514.30V516.30M252.81,514.30V515.30M254.33,514.30V515.30M255.86,514.30V515.30M257.39,514.30V515.30M258.91,514.30V515.30M260.44,514.30V515.30M261.97,514.30V515.30M263.49,514.30V515.30M265.02,514.30V515.30M266.54,514.30V516.30M268.07,514.30V515.30M269.60,514.30V515.30M271.12,514.30V515.30M272.65,514.30V515.30M274.17,514.30V515.30M275.70,514.30V515.30M277.23,514.30V515.30M278.75,514.30V515.30M280.28,514.30V515.30M281.80,514.30V516.30" stroke="#555" stroke-width="0.45" fill="none"/>
<text x="201.90" y="499.93" font-size="3.2" text-anchor="end" fill="#666" >200</text>
<text x="220.76" y="520.60" font-size="3.2" text-anchor="middle" fill="#666" >200</text>
<text x="201.90" y="484.46" font-size="3.2" text-anchor="end" fill="#666" >400</text>
<text x="236.02" y="520.60" font-size="3.2" text-anchor="middle" fill="#666" >400</text>
<text x="201.90" y="468.99" font-size="3.2" text-anchor="end" fill="#666" >600</text>
<text x="251.28" y="520.60" font-size="3.2" text-anchor="middle" fill="#666" >600</text>
<text x="201.90" y="453.52" font-size="3.2" text-anchor="end" fill="#666" >800</text>
<text x="266.54" y="520.60" font-size="3.2" text-anchor="middle" fill="#666" >800</text>
<text x="201.90" y="438.05" font-size="3.2" text-anchor="end" fill="#666" >1000</text>
<text x="281.80" y="520.60" font-size="3.2" text-anchor="middle" fill="#666" >1000</text>
<path d="M222.5,493.2h0.8M222.1,498.2h0.8M221.8,494.2h0.8M224.5,496.3h0.8M222.7,496.2h0.8M222.2,498.4h0.8M223.1,492.9h0.8M222.3,500.2h0.8M223.4,497.6h0.8M224.1,494.3h0.8M222.0,492.4h0.8M222.8,490.2h0.8M222.9,494.2h0.8M223.3,498.8h0.8M222.1,493.2h0.8M222.7,499.0h0.8M223.6,489.3h0.8M222.6,492.6h0.8M223.7,489.7h0.8M222.1,496.8h0.8M223.0,502.0h0.8M223.8,482.6h0.8M223.6,492.2h0.8M224.5,494.8h0.8M221.8,497.6h0.8M224.2,487.8h0.8M223.1,491.0h0.8M223.0,494.0h0.8M222.5,492.2h0.8M224.6,490.1h0.8M221.9,495.7h0.8M224.9,493.6h0.8M223.6,497.5h0.8M222.0,496.3h0.8M223.1,489.7h0.8M223.4,494.0h0.8M223.5,489.6h0.8M222.9,487.9h0.8M223.2,495.8h0.8M221.7,491.2h0.8M223.3,495.1h0.8M224.3,494.6h0.8M222.5,499.8h0.8M221.3,496.9h0.8M222.7,494.7h0.8M222.2,495.3h0.8M222.3,490.5h0.8M221.5,496.1h0.8M222.1,489.3h0.8M222.7,487.3h0.8M224.2,494.1h0.8M223.5,497.9h0.8M222.0,498.7h0.8M223.3,491.8h0.8M223.2,492.6h0.8M222.1,487.8h0.8M223.3,496.5h0.8M221.8,499.3h0.8M224.8,484.7h0.8M223.1,491.9h0.8M222.1,494.4h0.8M221.8,497.0h0.8M222.5,498.6h0.8M222.3,492.2h0.8M221.9,493.2h0.8M222.7,492.4h0.8M223.0,494.1h0.8M223.5,488.9h0.8M222.8,496.3h0.8M223.4,492.4h0.8M222.6,489.8h0.8M222.9,498.4h0.8M222.8,498.1h0.8M224.9,483.7h0.8M221.7,499.3h0.8M222.8,492.3h0.8M223.3,491.2h0.8M223.4,492.6h0.8M223.2,499.8h0.8M221.7,499.1h0.8M222.0,502.9h0.8M222.7,492.3h0.8M220.7,498.2h0.8M222.2,491.6h0.8M222.9,495.2h0.8M223.2,494.1h0.8M224.1,487.6h0.8M222.5,497.7h0.8M222.1,494.6h0.8M222.8,491.3h0.8M223.5,493.0h0.8M223.2,485.8h0.8M224.9,491.3h0.8M223.7,487.8h0.8M222.7,496.6h0.8M222.3,496.2h0.8M222.0,500.3h0.8M222.9,501.5h0.8M222.7,491.8h0.8M223.0,493.7h0.8M223.0,494.8h0.8M223.2,494.5h0.8M222.6,496.9h0.8M222.8,487.4h0.8M223.3,497.0h0.8M223.1,492.6h0.8M222.6,493.1h0.8M223.1,495.9h0.8M223.5,493.2h0.8M224.8,492.3h0.8M224.0,493.6h0.8M224.8,493.4h0.8M222.6,490.0h0.8M223.0,487.7h0.8M222.6,489.9h0.8M223.1,492.5h0.8M221.7,488.2h0.8M223.0,501.2h0.8M222.8,490.9h0.8M221.5,493.3h0.8M222.2,495.2h0.8M223.4,490.5h0.8M223.8,494.5h0.8M223.3,496.3h0.8M223.2,494.7h0.8M223.9,495.0h0.8M224.4,495.6h0.8M222.5,490.7h0.8M223.8,495.6h0.8M222.5,488.1h0.8M223.5,493.2h0.8M224.3,484.8h0.8M223.6,494.6h0.8M222.2,493.4h0.8M222.7,494.0h0.8M222.9,494.6h0.8M222.4,492.4h0.8M221.9,491.1h0.8M223.5,491.3h0.8M221.9,492.1h0.8M222.9,495.7h0.8M223.7,492.1h0.8M222.4,499.7h0.8M222.4,489.6h0.8M222.1,498.4h0.8M222.6,494.8h0.8M223.6,489.0h0.8M222.8,501.2h0.8M223.6,493.5h0.8M224.0,494.0h0.8M222.6,493.2h0.8M223.2,498.5h0.8M221.5,494.2h0.8M224.3,490.7h0.8M222.6,501.8h0.8M224.5,491.4h0.8M222.8,489.1h0.8M223.7,492.1h0.8M223.5,499.6h0.8M223.8,492.0h0.8M223.3,497.3h0.8M222.7,494.0h0.8M223.2,493.7h0.8M222.4,499.6h0.8M221.8,492.3h0.8M225.6,487.5h0.8M223.2,491.2h0.8M221.6,497.7h0.8M223.2,498.6h0.8M222.8,497.2h0.8M223.5,495.6h0.8M224.1,489.0h0.8M224.0,491.4h0.8M222.8,487.2h0.8M222.5,492.7h0.8M222.8,493.6h0.8M223.5,493.4h0.8M220.4,498.6h0.8M223.9,492.8h0.8M224.0,495.4h0.8M223.8,485.2h0.8M223.3,494.7h0.8M222.0,490.8h0.8M221.5,491.7h0.8M222.7,497.9h0.8M222.1,492.5h0.8M224.0,493.7h0.8M222.8,500.2h0.8M222.3,488.8h0.8M223.7,489.3h0.8M222.8,495.0h0.8M222.9,494.0h0.8M222.3,494.5h0.8M224.6,490.5h0.8M224.0,494.7h0.8M221.6,496.7h0.8M223.4,491.4h0.8M222.3,492.0h0.8M223.6,495.4h0.8M223.7,487.7h0.8M221.0,492.1h0.8M223.7,496.4h0.8M223.0,486.4h0.8M222.4,503.6h0.8M222.1,498.8h0.8M222.4,496.1h0.8M223.1,497.6h0.8M222.0,492.6h0.8M224.0,500.0h0.8M223.3,491.7h0.8M224.0,500.5h0.8M222.6,497.8h0.8M222.5,492.5h0.8M222.6,493.3h0.8M221.1,501.6h0.8M222.3,496.2h0.8M224.4,492.3h0.8M224.6,494.9h0.8M222.9,495.5h0.8M221.5,494.6h0.8M222.7,494.1h0.8M223.2,497.1h0.8M222.8,492.3h0.8M222.8,497.2h0.8M221.9,496.9h0.8M223.5,495.8h0.8M222.7,494.9h0.8M223.3,495.2h0.8M223.5,494.6h0.8M223.6,494.5h0.8M222.2,495.0h0.8M222.9,492.3h0.8M223.9,495.7h0.8M222.1,495.7h0.8M224.0,495.3h0.8M223.4,499.1h0.8M222.8,491.9h0.8M222.2,495.1h0.8M221.4,501.6h0.8M221.1,499.1h0.8M223.2,495.6h0.8M222.3,497.5h0.8M222.5,496.9h0.8M224.1,492.5h0.8M223.4,491.7h0.8M224.0,488.7h0.8M223.6,492.1h0.8M222.4,490.7h0.8M222.7,497.3h0.8M222.1,500.7h0.8M223.1,495.3h0.8M224.2,491.4h0.8M222.2,503.0h0.8M224.2,492.8h0.8M223.0,496.4h0.8M222.1,494.5h0.8M223.8,493.1h0.8M222.9,495.4h0.8M223.2,489.8h0.8M223.0,495.2h0.8M223.4,492.3h0.8M223.7,489.3h0.8M221.2,498.4h0.8M224.2,494.5h0.8M222.6,493.8h0.8M223.5,493.0h0.8M222.3,489.2h0.8M223.4,491.1h0.8M224.1,491.0h0.8M222.9,502.6h0.8M222.5,492.1h0.8M223.7,494.6h0.8M223.1,499.8h0.8M224.6,491.1h0.8M222.1,497.2h0.8M223.1,490.2h0.8M221.0,492.3h0.8M222.3,484.8h0.8M222.7,500.3h0.8M222.4,492.1h0.8M222.6,502.5h0.8M222.3,493.1h0.8M222.5,493.5h0.8M223.1,498.0h0.8M223.0,494.1h0.8M221.9,498.7h0.8M222.3,495.1h0.8M223.1,492.8h0.8M222.7,494.9h0.8M223.9,492.6h0.8M223.3,498.2h0.8M223.9,490.7h0.8M222.9,496.2h0.8M222.6,485.9h0.8M223.0,490.9h0.8M223.6,487.7h0.8M222.7,490.8h0.8M224.0,496.1h0.8M222.0,498.9h0.8M221.8,494.9h0.8M222.2,491.6h0.8M222.7,493.9h0.8M222.2,502.5h0.8M222.4,500.0h0.8M221.6,502.9h0.8M223.4,491.0h0.8M224.6,489.9h0.8M223.0,491.3h0.8M223.4,494.6h0.8M221.6,498.7h0.8M224.3,494.2h0.8M222.7,498.3h0.8M223.2,496.8h0.8M223.0,492.7h0.8M223.0,490.6h0.8M224.0,500.6h0.8M223.1,494.5h0.8M222.5,491.0h0.8M222.1,495.8h0.8M223.5,491.9h0.8M221.9,493.2h0.8M221.4,497.1h0.8M221.8,499.2h0.8M223.4,493.0h0.8M222.8,501.0h0.8M224.3,492.8h0.8M222.0,490.7h0.8M223.3,492.2h0.8M222.4,492.8h0.8M223.5,488.6h0.8M221.2,496.1h0.8M221.7,494.9h0.8M223.7,499.8h0.8M223.7,494.4h0.8M223.9,489.9h0.8M221.8,495.6h0.8M223.0,494.7h0.8M222.6,494.6h0.8M221.8,493.4h0.8M222.3,489.9h0.8M222.2,493.5h0.8M223.0,488.9h0.8M222.3,497.6h0.8M222.2,490.6h0.8M222.0,499.0h0.8M220.8,490.9h0.8M225.1,490.7h0.8M223.6,494.8h0.8M221.3,494.4h0.8M223.3,495.8h0.8M222.3,498.3h0.8M223.0,496.6h0.8M223.9,484.6h0.8M223.8,499.2h0.8M222.5,495.2h0.8M223.7,492.2h0.8M223.3,493.3h0.8M222.0,493.3h0.8M223.9,491.1h0.8M221.2,496.9h0.8M222.8,496.4h0.8M223.6,488.7h0.8M221.2,506.5h0.8M223.1,493.8h0.8M222.1,499.9h0.8M223.5,493.6h0.8M224.6,491.1h0.8M222.3,496.7h0.8M223.1,495.8h0.8M223.8,486.4h0.8M222.2,493.4h0.8M223.9,499.1h0.8M224.0,494.5h0.8M222.8,490.9h0.8M222.3,493.0h0.8M223.0,491.6h0.8M224.2,491.1h0.8M223.4,496.4h0.8M222.6,492.3h0.8M224.0,493.1h0.8M223.8,493.5h0.8M224.1,492.8h0.8M222.6,494.5h0.8M221.3,491.4h0.8M224.0,496.2h0.8M224.2,497.1h0.8M223.1,487.8h0.8M223.0,497.0h0.8M224.7,490.7h0.8M222.9,488.1h0.8M222.8,490.7h0.8M223.7,489.9h0.8M223.4,488.5h0.8M222.2,490.7h0.8M223.0,497.8h0.8M223.7,493.7h0.8M223.2,485.1h0.8M221.6,498.5h0.8M223.6,496.5h0.8M222.8,492.5h0.8M223.0,491.4h0.8M223.0,493.0h0.8M223.1,499.3h0.8M224.8,493.5h0.8M222.4,493.6h0.8M222.4,493.3h0.8M222.6,494.1h0.8M222.3,492.6h0.8M222.5,494.4h0.8M222.5,497.8h0.8M223.8,491.4h0.8M222.9,492.8h0.8M223.0,490.3h0.8M221.7,491.2h0.8M221.9,498.6h0.8M223.1,489.6h0.8M222.2,492.1h0.8M224.7,500.1h0.8M225.0,487.7h0.8M222.4,493.9h0.8M222.8,493.0h0.8M220.7,495.6h0.8M221.2,492.9h0.8M221.4,495.8h0.8M222.6,486.1h0.8M223.1,495.5h0.8M223.0,495.2h0.8M222.7,490.3h0.8M223.0,491.9h0.8M222.6,499.1h0.8M223.4,498.2h0.8M223.0,493.9h0.8M222.6,490.0h0.8M223.8,497.2h0.8M223.5,491.2h0.8M222.2,501.7h0.8M222.0,497.6h0.8M220.9,500.2h0.8M223.1,495.7h0.8M222.6,495.9h0.8M224.0,493.7h0.8M222.8,496.2h0.8M223.9,483.1h0.8M222.2,490.6h0.8M222.1,498.1h0.8M223.5,481.8h0.8M223.0,488.3h0.8M220.9,498.7h0.8M223.8,493.4h0.8M222.3,497.0h0.8M221.9,498.3h0.8M222.8,489.8h0.8M223.0,498.1h0.8M223.0,492.9h0.8M223.9,485.8h0.8M222.3,489.2h0.8M223.9,494.3h0.8M223.9,491.0h0.8M222.1,499.8h0.8M224.8,487.3h0.8M220.1,506.0h0.8M224.1,488.5h0.8M221.1,488.4h0.8M223.6,493.6h0.8M222.6,488.9h0.8M224.0,489.7h0.8M224.0,496.1h0.8M224.1,488.9h0.8M223.0,495.8h0.8M224.3,494.1h0.8M223.1,484.0h0.8M224.0,485.9h0.8M222.0,496.6h0.8M223.8,487.7h0.8M222.5,496.5h0.8M222.6,495.4h0.8M223.0,486.5h0.8M220.2,494.9h0.8M223.9,491.9h0.8M223.2,485.5h0.8M222.4,495.0h0.8M222.4,498.9h0.8M222.4,497.0h0.8M223.6,493.3h0.8M224.9,493.8h0.8M223.5,492.6h0.8M223.0,491.7h0.8M223.4,489.9h0.8M221.9,499.3h0.8M222.1,487.7h0.8M223.7,486.7h0.8M224.0,492.9h0.8M222.6,492.9h0.8M221.5,502.7h0.8M223.0,498.7h0.8M222.1,493.4h0.8M224.1,489.1h0.8M224.0,484.8h0.8M222.5,498.9h0.8M223.9,490.8h0.8M222.8,499.3h0.8M223.5,491.1h0.8M221.9,500.5h0.8M222.7,494.3h0.8M222.9,490.1h0.8M220.4,501.2h0.8M222.4,491.8h0.8M223.8,494.1h0.8M222.7,496.0h0.8M221.3,499.7h0.8M224.1,491.5h0.8M222.5,496.5h0.8M222.7,492.5h0.8M222.6,493.5h0.8M222.7,491.3h0.8M221.6,495.7h0.8M221.3,496.9h0.8M223.7,494.5h0.8M221.7,499.1h0.8M223.0,497.0h0.8M222.5,495.1h0.8M222.3,497.7h0.8M222.1,495.2h0.8M223.8,488.1h0.8M223.1,494.5h0.8M224.3,484.5h0.8M222.6,496.0h0.8M223.7,489.2h0.8M222.9,495.0h0.8M222.2,498.4h0.8M222.5,495.5h0.8M223.4,488.3h0.8M223.3,489.1h0.8M223.3,500.1h0.8M222.6,496.1h0.8M224.5,489.4h0.8M224.0,493.3h0.8M223.2,495.9h0.8M223.3,497.6h0.8M223.2,496.2h0.8M223.6,498.9h0.8M223.3,487.1h0.8M222.1,493.5h0.8M221.6,494.5h0.8M223.1,490.9h0.8M223.3,489.0h0.8M222.1,494.7h0.8M223.0,491.2h0.8M221.2,498.6h0.8M223.2,489.9h0.8M222.4,494.1h0.8M222.7,496.0h0.8M222.0,492.9h0.8M224.6,483.7h0.8M222.2,501.7h0.8M222.8,489.2h0.8M222.8,499.5h0.8M222.6,496.4h0.8M223.5,487.0h0.8M222.8,488.3h0.8M221.8,501.3h0.8M223.3,495.5h0.8M221.4,491.9h0.8M222.1,498.4h0.8M222.1,496.8h0.8M222.9,495.2h0.8M221.5,499.9h0.8M223.5,497.7h0.8M221.6,494.4h0.8M223.8,491.9h0.8M221.2,500.4h0.8M223.1,492.0h0.8M224.4,491.5h0.8M223.9,491.2h0.8M223.8,495.9h0.8M222.9,496.7h0.8M221.7,502.1h0.8M222.4,490.5h0.8M220.9,495.6h0.8M221.7,495.2h0.8M222.5,493.6h0.8M222.3,496.6h0.8M222.7,495.5h0.8M223.7,495.0h0.8M221.2,489.3h0.8M223.2,488.3h0.8M222.3,492.3h0.8M223.6,491.4h0.8M221.7,496.0h0.8M223.4,491.8h0.8M220.8,497.4h0.8M222.8,498.4h0.8M222.6,488.6h0.8M221.8,496.1h0.8M222.4,492.3h0.8M224.0,487.0h0.8M222.5,494.6h0.8M222.9,489.7h0.8M222.8,495.4h0.8M224.4,489.6h0.8M221.7,495.1h0.8M222.4,497.5h0.8M221.0,491.0h0.8M223.4,491.2h0.8M221.7,492.9h0.8M222.5,493.4h0.8M223.0,497.7h0.8M223.5,488.7h0.8M223.9,491.5h0.8M222.5,493.6h0.8M222.9,487.7h0.8M223.0,495.0h0.8M221.9,495.4h0.8M223.3,489.3h0.8M222.1,496.5h0.8M223.8,491.4h0.8M223.9,493.0h0.8M224.1,493.9h0.8M222.3,490.0h0.8M223.1,494.2h0.8M222.1,493.7h0.8M223.0,491.8h0.8M221.3,499.7h0.8M223.5,495.4h0.8M223.0,493.9h0.8M223.1,489.9h0.8M222.8,493.7h0.8M222.7,490.0h0.8M222.4,492.1h0.8M223.8,493.5h0.8M223.0,496.9h0.8M223.1,493.4h0.8M223.1,491.6h0.8M224.5,491.9h0.8M221.7,496.4h0.8M223.5,490.8h0.8M223.1,485.7h0.8M222.7,490.8h0.8M222.2,495.6h0.8M221.8,496.9h0.8M222.6,495.0h0.8M223.5,493.5h0.8M222.5,497.3h0.8M223.2,497.2h0.8M222.2,497.3h0.8M223.4,496.9h0.8M221.5,498.4h0.8M222.4,495.2h0.8M223.4,497.4h0.8M221.0,495.7h0.8M221.7,494.4h0.8M222.2,496.2h0.8M222.2,497.2h0.8M223.2,495.3h0.8M223.3,483.7h0.8M223.6,495.6h0.8M224.1,487.1h0.8M224.3,494.9h0.8M223.9,493.4h0.8M221.7,495.7h0.8M222.7,488.4h0.8M222.6,497.8h0.8M223.1,497.4h0.8M222.7,493.4h0.8M223.8,496.0h0.8M224.3,488.4h0.8M223.7,499.0h0.8M224.3,493.4h0.8M222.5,491.6h0.8M221.7,500.1h0.8M223.0,488.9h0.8M222.5,487.1h0.8M223.0,491.2h0.8M222.7,499.2h0.8M222.5,495.2h0.8M221.3,501.8h0.8M222.5,496.3h0.8M224.2,497.1h0.8M222.9,495.3h0.8M223.8,495.1h0.8M223.9,491.5h0.8M222.4,499.7h0.8M223.3,494.3h0.8M222.7,496.3h0.8M222.2,497.5h0.8M222.6,492.3h0.8M222.4,497.0h0.8M223.3,492.5h0.8M222.1,498.3h0.8M221.6,498.2h0.8M224.7,484.5h0.8M222.9,490.9h0.8M224.4,490.5h0.8M223.9,489.0h0.8M224.4,497.8h0.8M223.8,490.8h0.8M223.3,492.4h0.8M221.4,495.2h0.8M225.6,487.0h0.8M223.6,491.9h0.8M223.5,493.9h0.8M222.7,494.3h0.8M221.7,491.2h0.8M223.1,488.2h0.8M223.6,491.7h0.8M224.8,487.6h0.8M221.6,498.8h0.8M221.6,493.0h0.8M223.0,491.3h0.8M223.2,496.9h0.8M221.9,497.4h0.8M223.6,493.9h0.8M222.5,494.5h0.8M222.6,493.0h0.8M222.9,501.2h0.8M223.9,492.0h0.8M223.3,493.4h0.8M221.1,500.3h0.8M223.1,501.5h0.8M223.7,496.7h0.8M222.7,492.1h0.8M222.2,494.2h0.8M223.0,495.6h0.8M222.7,491.2h0.8M223.2,500.2h0.8M223.0,498.3h0.8M221.6,499.8h0.8M222.6,501.8h0.8M225.5,492.4h0.8M223.7,486.5h0.8M221.9,501.9h0.8M223.2,492.9h0.8M222.1,493.2h0.8M224.3,495.3h0.8M222.3,496.0h0.8M221.9,498.6h0.8M223.6,489.2h0.8M222.4,495.9h0.8M222.7,490.7h0.8M222.3,497.1h0.8M222.8,504.1h0.8M223.2,497.2h0.8M223.7,494.1h0.8M224.6,496.2h0.8M222.9,491.8h0.8M221.3,492.6h0.8M220.8,498.3h0.8M224.5,495.2h0.8M221.8,492.5h0.8M222.6,500.1h0.8M222.9,491.5h0.8M223.6,488.2h0.8M224.3,486.1h0.8M221.5,485.6h0.8M223.8,491.0h0.8M223.9,488.1h0.8M223.3,492.4h0.8M223.4,493.2h0.8M222.2,487.5h0.8M221.5,495.6h0.8M222.8,496.3h0.8M223.2,493.3h0.8M223.5,491.1h0.8M222.6,495.3h0.8M222.1,498.1h0.8M223.1,494.4h0.8M223.1,500.3h0.8M221.6,494.2h0.8M223.2,494.7h0.8M222.5,493.6h0.8M222.7,497.5h0.8M223.1,493.4h0.8M223.7,495.6h0.8M222.2,501.2h0.8M220.7,500.3h0.8M223.6,493.4h0.8M223.1,495.2h0.8M223.7,494.8h0.8M223.0,496.4h0.8M221.7,492.6h0.8M222.8,489.4h0.8M221.9,498.5h0.8M222.8,490.6h0.8M222.4,490.9h0.8M221.6,492.9h0.8M223.8,495.3h0.8M222.8,496.1h0.8M223.5,501.3h0.8M223.1,495.0h0.8M221.9,495.5h0.8M222.4,495.4h0.8M222.3,498.1h0.8M222.1,497.9h0.8M221.0,505.1h0.8M223.1,492.9h0.8M223.1,495.1h0.8M223.8,487.4h0.8M222.8,493.6h0.8M223.5,492.8h0.8M223.7,503.0h0.8M223.6,490.4h0.8M222.5,496.5h0.8M223.6,497.2h0.8M221.3,496.7h0.8M222.1,494.9h0.8M223.0,493.4h0.8M221.3,497.3h0.8M221.7,495.3h0.8M222.9,494.9h0.8M222.8,495.7h0.8M224.0,495.9h0.8M221.3,501.0h0.8M222.3,489.7h0.8M222.9,491.7h0.8M221.7,494.0h0.8M222.6,495.8h0.8M222.0,502.5h0.8M220.9,495.7h0.8M222.6,493.5h0.8M223.2,500.2h0.8M221.9,494.6h0.8M222.7,497.7h0.8M223.2,496.4h0.8M222.6,499.1h0.8M223.4,492.5h0.8M221.8,497.3h0.8M222.5,498.7h0.8M224.2,502.5h0.8M223.7,495.4h0.8M223.7,495.6h0.8M223.5,495.3h0.8M223.4,490.4h0.8M222.7,499.2h0.8M222.6,493.6h0.8M223.3,495.2h0.8M222.5,502.3h0.8M222.9,488.0h0.8M222.9,489.5h0.8M222.4,495.4h0.8M222.2,494.3h0.8M222.4,496.6h0.8M222.4,497.8h0.8M222.5,490.3h0.8M222.3,493.5h0.8M222.4,498.7h0.8M223.5,495.5h0.8M223.1,491.6h0.8M223.6,496.9h0.8M221.7,499.3h0.8M223.4,491.5h0.8M222.9,491.9h0.8M224.0,491.6h0.8M222.5,501.8h0.8M222.4,490.5h0.8M222.7,498.0h0.8M223.0,491.9h0.8M222.4,500.6h0.8M222.5,494.7h0.8M221.5,490.2h0.8M222.4,493.9h0.8M222.8,492.0h0.8M223.6,487.7h0.8M221.3,496.2h0.8M222.7,495.3h0.8M223.7,488.3h0.8M222.2,493.5h0.8M222.1,493.4h0.8M222.6,499.7h0.8M221.6,495.9h0.8M224.2,490.0h0.8M221.7,492.4h0.8M221.7,497.4h0.8M225.5,493.6h0.8M223.0,490.8h0.8M221.4,497.4h0.8M222.7,497.1h0.8M223.1,495.3h0.8M222.1,492.2h0.8M223.1,491.1h0.8M223.3,488.1h0.8M222.6,495.6h0.8M223.7,489.6h0.8M224.0,489.8h0.8M224.7,493.2h0.8M222.6,494.6h0.8M222.3,489.9h0.8M223.7,493.1h0.8M221.0,497.5h0.8M223.2,499.8h0.8M223.0,484.6h0.8M221.3,499.2h0.8M224.0,488.3h0.8M222.5,491.6h0.8M222.5,491.6h0.8M222.4,492.0h0.8M222.0,499.1h0.8M223.2,492.6h0.8M223.3,496.4h0.8M220.7,500.2h0.8M222.9,491.9h0.8" stroke="#0a0a0a" stroke-width="0.8" fill="none"/>
<path d="M222.8,487.6h0.6M224.0,485.1h0.6M223.1,477.5h0.6M224.2,477.1h0.6M223.2,485.8h0.6M225.6,469.5h0.6M225.1,475.0h0.6M225.0,478.9h0.6M224.0,487.3h0.6M224.7,480.1h0.6M223.7,483.8h0.6M224.4,481.7h0.6M224.5,484.7h0.6M227.5,469.1h0.6M226.3,478.2h0.6M222.2,485.9h0.6M222.1,484.6h0.6M223.6,485.9h0.6M220.9,487.7h0.6M221.7,474.9h0.6M225.1,477.2h0.6M222.8,488.7h0.6M224.3,472.6h0.6M222.6,484.5h0.6M221.4,480.4h0.6M224.4,488.0h0.6M221.9,482.1h0.6M227.5,464.1h0.6M224.2,476.9h0.6M224.0,486.0h0.6M224.3,479.9h0.6M223.9,485.4h0.6M226.3,486.2h0.6M222.1,488.5h0.6M226.9,472.6h0.6M223.2,476.1h0.6M222.0,483.1h0.6M225.2,487.5h0.6M224.1,480.9h0.6M224.1,487.1h0.6M222.0,487.1h0.6M226.1,482.6h0.6M222.6,480.1h0.6M223.3,484.0h0.6M223.8,485.6h0.6M221.2,487.2h0.6M224.4,480.8h0.6M225.9,474.0h0.6M223.2,483.4h0.6M221.0,482.0h0.6M223.0,482.4h0.6M224.3,480.3h0.6M225.6,487.8h0.6M226.4,480.6h0.6M226.5,485.6h0.6M223.6,478.6h0.6M225.3,473.4h0.6M223.1,485.8h0.6M222.8,488.2h0.6M224.7,485.8h0.6M225.6,481.8h0.6M224.2,478.2h0.6M223.6,482.2h0.6M224.6,483.8h0.6M222.6,485.4h0.6M226.6,478.6h0.6M223.2,481.7h0.6M223.1,485.3h0.6M225.5,485.2h0.6M224.7,475.2h0.6M222.0,483.3h0.6M225.9,482.5h0.6M224.0,488.5h0.6M224.9,486.4h0.6M223.8,484.3h0.6M222.9,482.9h0.6M224.2,478.6h0.6M222.0,480.6h0.6M223.1,478.3h0.6M226.5,472.1h0.6" stroke="#444" stroke-width="0.6" fill="none" opacity="0.8"/>
<path d="M227.3,483.6h0.6M239.5,481.7h0.6M250.6,472.2h0.6M218.3,493.2h0.6M226.6,482.0h0.6M244.7,471.2h0.6M236.6,470.6h0.6M253.9,461.4h0.6M239.0,478.2h0.6M250.9,463.7h0.6M235.6,477.9h0.6M240.4,475.4h0.6M242.0,473.6h0.6M236.0,465.1h0.6M228.1,483.4h0.6M249.4,465.4h0.6M244.8,481.3h0.6M237.5,472.5h0.6M253.8,470.2h0.6M247.6,469.4h0.6M227.2,499.6h0.6M243.6,475.6h0.6M235.9,467.8h0.6M237.0,473.8h0.6M232.2,484.3h0.6M224.5,501.9h0.6M232.0,482.5h0.6M230.5,478.9h0.6M240.5,483.0h0.6M237.9,477.2h0.6M228.9,504.6h0.6M231.6,509.5h0.6M260.9,458.0h0.6M238.5,457.2h0.6M242.5,483.6h0.6M233.4,475.3h0.6M231.6,492.6h0.6M232.8,494.8h0.6M243.0,473.2h0.6M225.4,474.4h0.6M237.9,489.9h0.6M225.8,486.3h0.6M221.5,496.7h0.6M238.6,491.2h0.6M222.8,504.9h0.6M234.2,491.1h0.6M237.2,477.0h0.6M244.8,473.0h0.6M236.8,474.2h0.6M243.8,473.3h0.6M254.9,468.5h0.6M238.9,469.1h0.6M258.4,461.5h0.6M223.2,480.4h0.6M237.6,490.6h0.6M227.5,496.0h0.6M228.5,487.6h0.6M239.0,467.0h0.6M233.8,468.2h0.6M227.4,505.1h0.6M222.9,503.4h0.6M237.5,476.9h0.6M235.1,482.6h0.6M237.1,476.1h0.6M228.6,477.6h0.6M241.3,482.8h0.6M232.8,487.7h0.6M250.1,473.5h0.6M223.6,485.4h0.6M224.8,502.4h0.6M238.4,477.9h0.6M224.4,487.5h0.6M240.5,475.6h0.6M247.1,474.6h0.6M260.4,460.1h0.6M223.5,511.4h0.6M237.8,472.7h0.6M224.9,466.9h0.6M237.3,477.6h0.6M222.2,500.8h0.6M229.4,472.6h0.6M230.1,503.0h0.6M230.5,498.8h0.6M230.1,485.2h0.6M235.3,473.5h0.6M241.9,473.8h0.6M230.8,475.7h0.6M235.5,474.6h0.6M226.8,500.2h0.6M238.6,481.8h0.6M245.0,472.8h0.6M223.9,475.8h0.6M254.7,457.0h0.6M224.2,502.7h0.6M233.2,500.8h0.6M243.8,470.3h0.6M233.0,473.9h0.6M225.5,496.9h0.6M231.0,499.0h0.6M235.0,479.1h0.6M240.3,481.9h0.6M223.4,495.7h0.6M217.5,496.8h0.6M243.0,468.3h0.6M222.0,495.7h0.6M249.9,473.3h0.6" stroke="#666" stroke-width="0.6" fill="none" opacity="0.8"/>
<path d="M214.40,433.70H252.40" stroke="#444" stroke-width="0.9" fill="none"/>
<path d="M214.40,433.60V493.00H226.50V433.60M252.40,433.60V483.10L226.50,493.30" stroke="#4a4a4a" stroke-width="0.65" fill="none"/>
<text x="220.30" y="463.30" font-size="5.4" text-anchor="middle" fill="#000" textLength="13.2" lengthAdjust="spacingAndGlyphs" stroke="#000" stroke-width="0.3" >39,17</text>
<text x="238.30" y="463.30" font-size="5.4" text-anchor="middle" fill="#000" textLength="9.6" lengthAdjust="spacingAndGlyphs" stroke="#000" stroke-width="0.3" >1,77</text>
<text x="242.10" y="531.90" font-size="7.4" text-anchor="middle" fill="#111" textLength="45.4" lengthAdjust="spacingAndGlyphs" stroke="#111" stroke-width="0.3" >DNA content</text>
<text x="245.60" y="417.60" font-size="7.5" text-anchor="middle" fill="#111" textLength="55.4" lengthAdjust="spacingAndGlyphs" stroke="#111" stroke-width="0.3" >CCX704 control</text>
<text x="245.60" y="427.00" font-size="7.5" text-anchor="middle" fill="#111" textLength="35.8" lengthAdjust="spacingAndGlyphs" stroke="#111" stroke-width="0.3" >+ CXCL12</text>
<path d="M92.00,566.00H172.50V646.90" stroke="#8a8a8a" stroke-width="0.6" fill="none"/>
<path d="M92.00,566.00V646.90H172.50" stroke="#555" stroke-width="0.7" fill="none"/>
<path d="M90.00,646.90H92.00M91.00,645.35H92.00M91.00,643.81H92.00M91.00,642.26H92.00M91.00,640.72H92.00M91.00,639.17H92.00M91.00,637.63H92.00M91.00,636.08H92.00M91.00,634.54H92.00M91.00,632.99H92.00M90.00,631.45H92.00M91.00,629.90H92.00M91.00,628.36H92.00M91.00,626.81H92.00M91.00,625.27H92.00M91.00,623.72H92.00M91.00,622.18H92.00M91.00,620.63H92.00M91.00,619.09H92.00M91.00,617.54H92.00M90.00,616.00H92.00M91.00,614.45H92.00M91.00,612.91H92.00M91.00,611.36H92.00M91.00,609.82H92.00M91.00,608.27H92.00M91.00,606.73H92.00M91.00,605.18H92.00M91.00,603.63H92.00M91.00,602.09H92.00M90.00,600.54H92.00M91.00,599.00H92.00M91.00,597.45H92.00M91.00,595.91H92.00M91.00,594.36H92.00M91.00,592.82H92.00M91.00,591.27H92.00M91.00,589.73H92.00M91.00,588.18H92.00M91.00,586.64H92.00M90.00,585.09H92.00M91.00,583.55H92.00M91.00,582.00H92.00M91.00,580.46H92.00M91.00,578.91H92.00M91.00,577.37H92.00M91.00,575.82H92.00M91.00,574.28H92.00M91.00,572.73H92.00M91.00,571.19H92.00M90.00,569.64H92.00M92.00,646.90V648.90M93.54,646.90V647.90M95.08,646.90V647.90M96.61,646.90V647.90M98.15,646.90V647.90M99.69,646.90V647.90M101.23,646.90V647.90M102.76,646.90V647.90M104.30,646.90V647.90M105.84,646.90V647.90M107.38,646.90V648.90M108.91,646.90V647.90M110.45,646.90V647.90M111.99,646.90V647.90M113.53,646.90V647.90M115.06,646.90V647.90M116.60,646.90V647.90M118.14,646.90V647.90M119.68,646.90V647.90M121.21,646.90V647.90M122.75,646.90V648.90M124.29,646.90V647.90M125.83,646.90V647.90M127.36,646.90V647.90M128.90,646.90V647.90M130.44,646.90V647.90M131.98,646.90V647.90M133.51,646.90V647.90M135.05,646.90V647.90M136.59,646.90V647.90M138.13,646.90V648.90M139.66,646.90V647.90M141.20,646.90V647.90M142.74,646.90V647.90M144.28,646.90V647.90M145.81,646.90V647.90M147.35,646.90V647.90M148.89,646.90V647.90M150.43,646.90V647.90M151.96,646.90V647.90M153.50,646.90V648.90M155.04,646.90V647.90M156.58,646.90V647.90M158.11,646.90V647.90M159.65,646.90V647.90M161.19,646.90V647.90M162.73,646.90V647.90M164.26,646.90V647.90M165.80,646.90V647.90M167.34,646.90V647.90M168.88,646.90V648.90" stroke="#555" stroke-width="0.45" fill="none"/>
<text x="88.40" y="632.55" font-size="3.2" text-anchor="end" fill="#666" >200</text>
<text x="107.38" y="653.20" font-size="3.2" text-anchor="middle" fill="#666" >200</text>
<text x="88.40" y="617.10" font-size="3.2" text-anchor="end" fill="#666" >400</text>
<text x="122.75" y="653.20" font-size="3.2" text-anchor="middle" fill="#666" >400</text>
<text x="88.40" y="601.64" font-size="3.2" text-anchor="end" fill="#666" >600</text>
<text x="138.13" y="653.20" font-size="3.2" text-anchor="middle" fill="#666" >600</text>
<text x="88.40" y="586.19" font-size="3.2" text-anchor="end" fill="#666" >800</text>
<text x="153.50" y="653.20" font-size="3.2" text-anchor="middle" fill="#666" >800</text>
<text x="88.40" y="570.74" font-size="3.2" text-anchor="end" fill="#666" >1000</text>
<text x="168.88" y="653.20" font-size="3.2" text-anchor="middle" fill="#666" >1000</text>
<path d="M110.2,619.8h0.8M109.1,628.4h0.8M108.6,631.9h0.8M108.2,626.5h0.8M108.9,631.4h0.8M107.0,636.8h0.8M107.1,634.2h0.8M107.1,630.0h0.8M108.1,630.9h0.8M110.9,619.9h0.8M107.6,629.0h0.8M107.6,625.5h0.8M108.4,634.7h0.8M109.5,630.2h0.8M106.8,626.6h0.8M108.8,627.0h0.8M106.8,627.8h0.8M109.3,634.9h0.8M105.7,640.2h0.8M110.4,625.0h0.8M108.5,625.4h0.8M109.5,626.7h0.8M109.2,630.6h0.8M108.5,627.2h0.8M108.7,626.4h0.8M109.3,632.4h0.8M107.6,630.3h0.8M105.3,638.1h0.8M108.4,625.8h0.8M107.7,628.6h0.8M107.8,625.5h0.8M105.7,634.4h0.8M108.1,631.7h0.8M109.5,622.1h0.8M106.5,631.0h0.8M109.1,624.7h0.8M108.8,628.5h0.8M109.0,625.7h0.8M107.3,622.3h0.8M107.3,630.9h0.8M109.7,632.7h0.8M108.8,626.7h0.8M108.3,624.8h0.8M108.4,624.6h0.8M109.1,625.0h0.8M107.3,622.4h0.8M106.9,632.1h0.8M108.1,631.8h0.8M108.3,624.0h0.8M109.6,623.7h0.8M108.5,630.8h0.8M108.4,622.0h0.8M107.6,637.7h0.8M108.9,627.0h0.8M108.4,626.0h0.8M107.3,628.1h0.8M110.8,620.0h0.8M107.2,628.7h0.8M110.0,626.5h0.8M107.3,627.9h0.8M108.9,624.2h0.8M107.5,631.6h0.8M107.1,627.3h0.8M109.6,627.1h0.8M110.0,623.8h0.8M108.5,624.9h0.8M109.7,625.7h0.8M108.7,628.0h0.8M107.9,630.8h0.8M106.8,630.1h0.8M110.7,626.7h0.8M106.8,635.4h0.8M107.5,627.2h0.8M109.1,627.5h0.8M107.2,635.1h0.8M109.1,625.7h0.8M109.3,620.3h0.8M108.2,622.7h0.8M107.2,631.9h0.8M108.9,630.1h0.8M108.6,624.9h0.8M107.9,632.0h0.8M107.6,629.9h0.8M108.9,635.7h0.8M111.5,626.0h0.8M109.6,616.6h0.8M108.9,618.6h0.8M109.6,616.2h0.8M107.2,636.0h0.8M110.4,624.9h0.8M110.5,624.1h0.8M106.7,627.1h0.8M107.4,627.3h0.8M106.4,624.3h0.8M106.5,632.2h0.8M109.3,627.8h0.8M106.7,629.2h0.8M107.8,630.3h0.8M108.9,623.1h0.8M106.0,621.8h0.8M111.4,620.7h0.8M110.7,630.7h0.8M108.4,634.9h0.8M106.9,633.6h0.8M108.7,626.0h0.8M108.2,626.8h0.8M105.6,635.8h0.8M106.7,631.6h0.8M106.2,629.9h0.8M108.6,628.7h0.8M109.3,630.4h0.8M109.3,627.3h0.8M108.0,632.0h0.8M105.5,634.0h0.8M106.9,635.6h0.8M110.5,627.3h0.8M108.0,626.7h0.8M108.9,623.6h0.8M108.3,628.1h0.8M110.4,624.1h0.8M107.6,634.2h0.8M108.0,630.1h0.8M109.2,617.9h0.8M107.8,638.8h0.8M107.0,630.0h0.8M111.4,618.8h0.8M109.0,623.7h0.8M109.3,631.4h0.8M108.3,629.2h0.8M108.3,628.9h0.8M105.9,636.5h0.8M105.3,633.4h0.8M107.1,633.1h0.8M108.0,628.9h0.8M109.1,630.1h0.8M106.6,637.0h0.8M107.2,629.0h0.8M108.8,622.1h0.8M109.3,623.4h0.8M109.1,629.4h0.8M106.2,634.3h0.8M105.5,629.5h0.8M107.8,629.9h0.8M106.2,635.5h0.8M110.0,634.1h0.8M109.5,622.7h0.8M109.7,627.3h0.8M109.5,627.8h0.8M110.9,624.5h0.8M108.2,623.4h0.8M109.7,625.6h0.8M110.8,625.5h0.8M107.9,626.8h0.8M109.8,624.4h0.8M108.7,628.2h0.8M108.5,627.5h0.8M108.0,626.5h0.8M109.0,624.9h0.8M109.4,620.6h0.8M107.0,627.4h0.8M109.1,618.3h0.8M107.7,630.3h0.8M108.1,628.0h0.8M108.6,620.7h0.8M107.6,629.0h0.8M106.8,625.2h0.8M108.3,623.7h0.8M109.0,634.4h0.8M108.2,633.9h0.8M107.5,627.9h0.8M106.6,635.2h0.8M108.5,624.8h0.8M108.9,630.7h0.8M108.3,627.9h0.8M106.3,631.7h0.8M108.3,630.1h0.8M108.3,629.9h0.8M107.8,629.2h0.8M108.5,628.3h0.8M107.0,637.8h0.8M107.6,628.9h0.8M109.9,624.0h0.8M109.5,623.2h0.8M108.6,626.1h0.8M107.9,624.7h0.8M108.4,628.7h0.8M106.8,628.6h0.8M107.7,628.4h0.8M108.5,631.0h0.8M108.8,623.5h0.8M107.4,633.1h0.8M107.0,628.8h0.8M108.0,630.8h0.8M108.3,630.7h0.8M108.2,633.9h0.8M107.9,631.2h0.8M107.7,628.0h0.8M106.9,623.4h0.8M108.9,627.3h0.8M108.0,629.2h0.8M107.5,633.1h0.8M107.6,627.3h0.8M107.8,628.0h0.8M107.6,632.5h0.8M108.7,631.6h0.8M109.2,631.7h0.8M108.1,628.2h0.8M108.2,631.4h0.8M106.0,632.4h0.8M106.2,626.0h0.8M108.2,623.1h0.8M109.2,621.3h0.8M107.5,620.8h0.8M108.2,630.1h0.8M107.9,630.6h0.8M108.8,628.9h0.8M106.7,621.7h0.8M107.3,625.3h0.8M107.5,620.8h0.8M108.2,631.8h0.8M108.8,629.0h0.8M107.6,626.4h0.8M108.5,635.4h0.8M107.9,629.1h0.8M107.7,629.4h0.8M107.8,631.3h0.8M107.0,626.9h0.8M107.9,635.1h0.8M108.0,624.3h0.8M107.6,628.8h0.8M108.3,626.4h0.8M107.1,630.5h0.8M108.8,626.3h0.8M108.3,630.1h0.8M106.1,641.6h0.8M106.2,627.1h0.8M108.1,630.7h0.8M109.2,622.7h0.8M108.4,633.6h0.8M108.8,629.5h0.8M105.7,634.0h0.8M107.9,635.2h0.8M109.0,623.0h0.8M108.1,627.4h0.8M107.2,627.2h0.8M109.6,622.8h0.8M108.6,623.9h0.8M109.6,624.6h0.8M110.6,617.3h0.8M106.9,631.3h0.8M109.1,624.4h0.8M108.5,625.7h0.8M107.9,631.7h0.8M107.7,634.6h0.8M110.1,618.2h0.8M106.8,631.8h0.8M110.1,617.6h0.8M108.5,630.5h0.8M106.9,629.4h0.8M108.7,627.6h0.8M107.5,622.3h0.8M108.7,621.6h0.8M108.1,637.0h0.8M109.2,623.8h0.8M107.7,624.4h0.8M106.7,625.7h0.8M110.4,631.3h0.8M109.4,620.9h0.8M108.5,625.9h0.8M108.7,625.4h0.8M107.3,632.2h0.8M106.3,636.4h0.8M108.5,628.9h0.8M107.7,618.1h0.8M108.8,618.8h0.8M107.8,630.0h0.8M108.2,618.3h0.8M108.5,629.8h0.8M109.1,623.9h0.8M109.2,627.7h0.8M109.2,632.6h0.8M108.3,630.3h0.8M107.0,632.1h0.8M109.3,623.8h0.8M108.9,629.0h0.8M107.4,613.5h0.8M107.3,637.2h0.8M108.3,635.8h0.8M107.7,631.8h0.8M109.8,632.0h0.8M107.2,621.1h0.8M108.2,625.1h0.8M109.3,621.6h0.8M107.3,631.3h0.8M109.9,628.1h0.8M107.7,627.6h0.8M108.8,630.0h0.8M109.8,629.7h0.8M108.8,624.2h0.8M107.9,627.6h0.8M108.1,638.7h0.8M108.8,621.4h0.8M106.9,626.7h0.8M108.2,629.0h0.8M108.2,628.4h0.8M109.4,623.8h0.8M108.0,624.5h0.8M107.9,630.3h0.8M105.9,635.0h0.8M108.4,626.6h0.8M109.4,627.9h0.8M107.4,637.6h0.8M106.7,629.0h0.8M110.0,625.3h0.8M107.4,634.6h0.8M108.7,623.8h0.8M108.9,630.2h0.8M107.2,635.7h0.8M107.8,630.9h0.8M107.7,633.7h0.8M109.3,622.6h0.8M107.0,633.8h0.8M106.3,631.3h0.8M109.1,624.9h0.8M109.6,629.1h0.8M108.0,624.8h0.8M108.1,627.9h0.8M109.5,628.3h0.8M107.9,622.3h0.8M107.6,619.2h0.8M110.5,629.5h0.8M109.7,625.2h0.8M108.8,627.5h0.8M109.3,631.2h0.8M107.5,628.9h0.8M109.6,634.9h0.8M106.4,634.6h0.8M108.5,625.9h0.8M109.7,620.4h0.8M107.6,626.5h0.8M107.0,625.5h0.8M109.2,631.6h0.8M107.1,626.7h0.8M107.7,630.9h0.8M108.6,626.7h0.8M105.6,624.1h0.8M106.7,624.6h0.8M108.1,630.1h0.8M108.1,623.3h0.8M106.6,633.9h0.8M110.8,627.2h0.8M107.0,633.5h0.8M109.0,631.3h0.8M108.3,625.5h0.8M110.0,626.9h0.8M106.9,629.2h0.8M106.9,627.8h0.8M109.2,627.1h0.8M108.9,629.8h0.8M110.7,622.9h0.8M108.6,629.7h0.8M109.5,624.5h0.8M109.2,623.9h0.8M109.5,625.1h0.8M109.0,625.9h0.8M108.3,626.8h0.8M107.2,636.1h0.8M107.7,627.8h0.8M109.2,630.2h0.8M105.8,628.9h0.8M107.8,630.3h0.8M109.2,622.6h0.8M107.9,625.6h0.8M106.3,630.3h0.8M108.6,625.2h0.8M107.9,631.2h0.8M109.7,623.2h0.8M109.8,624.6h0.8M108.3,626.9h0.8M108.7,628.1h0.8M107.6,635.6h0.8M107.3,627.7h0.8M109.1,630.6h0.8M107.9,629.7h0.8M108.0,621.3h0.8M107.8,628.1h0.8M107.8,630.3h0.8M108.2,625.6h0.8M109.5,624.0h0.8M107.7,632.8h0.8M106.8,628.6h0.8M108.3,636.0h0.8M109.6,626.9h0.8M109.8,621.2h0.8M109.7,626.5h0.8M107.7,628.5h0.8M109.4,623.8h0.8M107.5,630.2h0.8M109.7,633.8h0.8M107.5,629.6h0.8M107.4,630.6h0.8M108.3,627.5h0.8M106.1,624.2h0.8M110.0,627.6h0.8M107.6,627.7h0.8M108.7,619.2h0.8M108.8,625.0h0.8M107.1,628.5h0.8M108.5,627.3h0.8M107.6,619.8h0.8M108.0,634.9h0.8M104.5,634.3h0.8M109.2,629.6h0.8M105.7,635.9h0.8M108.1,621.4h0.8M107.6,631.9h0.8M108.8,621.0h0.8M108.4,624.6h0.8M107.9,632.8h0.8M108.3,636.1h0.8M107.5,635.1h0.8M107.0,637.4h0.8M107.7,626.2h0.8M109.2,619.5h0.8M106.9,625.9h0.8M108.2,630.3h0.8M109.2,624.8h0.8M106.0,634.0h0.8M108.7,633.1h0.8M106.0,635.6h0.8M108.2,627.5h0.8M107.3,628.2h0.8M108.3,626.5h0.8M108.3,628.9h0.8M107.9,629.0h0.8M109.5,623.2h0.8M108.4,627.7h0.8M107.5,621.9h0.8M107.2,636.5h0.8M106.2,635.5h0.8M108.5,627.1h0.8M107.2,629.5h0.8M106.7,634.4h0.8M107.7,631.7h0.8M108.4,624.0h0.8M108.0,633.1h0.8M109.1,622.8h0.8M107.6,630.0h0.8M107.0,629.4h0.8M108.3,624.0h0.8M110.4,619.8h0.8M110.5,630.5h0.8M107.1,630.1h0.8M107.3,635.8h0.8M108.0,626.3h0.8M108.6,628.6h0.8M107.7,631.5h0.8M109.6,629.4h0.8M108.4,625.2h0.8M107.5,632.5h0.8M107.4,631.5h0.8M109.2,626.7h0.8M108.1,623.6h0.8M108.2,627.3h0.8M110.8,624.7h0.8M109.6,623.8h0.8M108.8,627.1h0.8M107.5,636.8h0.8M108.1,628.7h0.8M111.7,625.3h0.8M107.1,626.8h0.8M108.8,629.8h0.8M108.7,625.0h0.8M107.7,625.6h0.8M106.9,621.3h0.8M107.2,629.5h0.8M108.2,630.1h0.8M109.2,627.7h0.8M109.7,619.9h0.8M107.7,632.1h0.8M107.0,631.3h0.8M108.9,629.9h0.8M108.1,631.6h0.8M108.7,631.4h0.8M107.4,622.9h0.8M107.7,624.8h0.8M108.3,626.6h0.8M107.4,624.2h0.8M109.5,619.8h0.8M109.1,631.0h0.8M109.4,622.2h0.8M107.1,630.1h0.8M109.4,632.1h0.8M108.2,627.8h0.8M109.2,629.8h0.8M108.9,629.7h0.8M106.5,635.7h0.8M107.4,626.5h0.8M107.1,619.5h0.8M108.9,626.4h0.8M108.4,626.1h0.8M111.7,629.0h0.8M107.7,626.8h0.8M108.7,640.0h0.8M110.0,628.4h0.8M109.3,628.3h0.8M108.3,622.1h0.8M108.2,638.2h0.8M107.7,619.5h0.8M107.9,630.2h0.8M108.7,629.3h0.8M108.7,628.6h0.8M106.2,631.4h0.8M109.4,620.2h0.8M107.2,626.2h0.8M108.4,626.1h0.8M108.6,626.0h0.8M110.2,623.7h0.8M107.6,629.5h0.8M107.1,624.7h0.8M107.5,631.1h0.8M109.1,637.4h0.8M107.9,629.2h0.8M108.1,633.2h0.8M106.8,629.9h0.8M109.9,626.8h0.8M107.4,634.5h0.8M109.1,618.6h0.8M109.5,631.3h0.8M109.3,627.2h0.8M109.7,621.0h0.8M110.3,626.9h0.8M106.3,634.4h0.8M107.5,628.9h0.8M106.2,628.6h0.8M108.1,635.1h0.8M108.5,629.0h0.8M108.0,629.7h0.8M109.2,634.8h0.8M107.4,623.4h0.8M108.3,630.1h0.8M107.9,629.9h0.8M106.5,626.9h0.8M109.1,624.9h0.8M107.5,632.2h0.8M107.9,628.4h0.8M106.7,627.7h0.8M108.7,627.8h0.8M108.9,626.4h0.8M108.1,630.5h0.8M108.8,623.9h0.8M108.4,627.1h0.8M107.2,625.6h0.8M109.0,628.4h0.8M108.3,632.0h0.8M107.6,630.0h0.8M106.7,632.8h0.8M107.4,622.8h0.8M106.9,627.3h0.8M110.0,619.4h0.8M106.7,631.4h0.8M108.4,629.3h0.8M110.5,621.0h0.8M107.9,632.3h0.8M108.0,624.0h0.8M108.9,630.2h0.8M107.5,634.0h0.8M107.9,628.3h0.8M106.6,627.8h0.8M108.2,624.4h0.8M111.2,619.8h0.8M109.9,630.3h0.8M108.1,621.8h0.8M109.3,629.3h0.8M107.5,631.2h0.8M105.5,638.8h0.8M106.9,633.0h0.8M108.1,631.2h0.8M108.0,626.9h0.8M107.8,634.0h0.8M108.5,625.4h0.8M108.5,622.1h0.8M108.9,624.5h0.8M110.5,622.5h0.8M105.8,632.9h0.8M109.1,623.6h0.8M107.9,626.5h0.8M109.0,631.4h0.8M107.9,626.0h0.8M108.5,627.9h0.8M106.9,633.6h0.8M108.6,625.9h0.8M107.8,634.1h0.8M109.9,619.5h0.8M107.1,633.7h0.8M107.1,630.6h0.8M107.2,631.6h0.8M106.9,628.3h0.8M109.0,624.1h0.8M110.1,619.7h0.8M109.2,624.0h0.8M107.1,628.4h0.8M108.7,625.2h0.8M108.3,630.9h0.8M107.7,626.6h0.8M108.5,621.7h0.8M109.4,627.6h0.8M107.6,630.3h0.8M108.1,626.0h0.8M106.8,630.1h0.8M108.0,627.0h0.8M109.7,624.6h0.8M109.0,628.2h0.8M109.5,631.3h0.8M107.8,630.4h0.8M107.5,629.6h0.8M108.6,624.6h0.8M108.5,632.0h0.8M108.8,628.0h0.8M107.9,627.1h0.8M107.0,635.8h0.8M109.0,632.0h0.8M109.6,629.2h0.8M110.6,618.3h0.8M108.5,617.7h0.8M106.9,630.1h0.8M106.2,633.7h0.8M107.9,624.1h0.8M108.6,629.5h0.8M109.6,630.0h0.8M109.6,623.0h0.8M109.6,620.9h0.8M109.4,627.4h0.8M107.4,623.4h0.8M109.8,623.4h0.8M109.1,638.0h0.8M109.7,627.5h0.8M107.8,633.1h0.8M107.0,630.9h0.8M106.9,626.7h0.8M108.9,628.2h0.8M106.8,631.1h0.8M109.4,625.7h0.8M108.2,624.0h0.8M109.4,629.9h0.8M109.0,624.3h0.8M108.2,627.0h0.8M109.3,625.5h0.8M108.5,627.9h0.8M107.4,634.0h0.8M109.3,621.2h0.8M107.1,633.9h0.8M109.7,627.8h0.8M109.3,618.8h0.8M108.3,628.7h0.8M109.0,632.9h0.8M108.4,633.3h0.8M107.0,629.9h0.8M110.1,626.8h0.8M107.8,633.3h0.8M109.0,631.1h0.8M106.2,634.2h0.8M106.8,629.5h0.8M107.3,623.7h0.8M107.8,627.7h0.8M108.2,623.7h0.8M109.8,629.1h0.8M109.8,625.4h0.8M109.5,622.0h0.8M106.7,626.5h0.8M107.0,635.4h0.8M109.5,626.9h0.8M107.5,631.3h0.8M108.2,619.0h0.8M108.0,628.8h0.8M109.4,631.2h0.8M107.1,634.8h0.8M106.7,635.2h0.8M107.0,621.1h0.8M107.4,635.2h0.8M107.7,626.4h0.8M108.3,626.1h0.8M108.1,629.7h0.8M107.7,622.7h0.8M109.0,624.4h0.8M107.4,628.9h0.8M109.2,626.7h0.8M108.5,632.2h0.8M109.1,628.0h0.8M108.2,626.9h0.8M109.0,627.2h0.8M107.5,634.3h0.8M107.2,638.5h0.8M108.0,630.1h0.8M109.7,623.9h0.8M109.9,622.0h0.8M107.3,628.9h0.8M108.9,616.9h0.8M108.5,629.6h0.8M108.0,631.6h0.8M107.8,627.1h0.8M107.7,632.5h0.8M107.5,626.1h0.8M108.4,627.5h0.8M108.2,631.9h0.8M108.5,634.0h0.8M108.9,631.2h0.8M108.4,627.6h0.8M108.3,633.9h0.8M109.9,633.0h0.8M108.7,626.2h0.8M108.9,628.0h0.8M108.9,626.1h0.8M108.5,624.3h0.8M107.6,620.9h0.8M108.0,635.2h0.8M106.7,628.0h0.8M106.9,633.1h0.8M109.5,622.7h0.8M106.0,635.0h0.8M107.1,627.3h0.8M107.3,630.6h0.8M108.8,627.9h0.8M107.4,631.0h0.8M110.0,627.1h0.8M108.1,626.2h0.8M108.6,624.0h0.8M108.2,634.0h0.8M108.0,620.9h0.8M107.4,624.6h0.8M108.1,628.4h0.8M108.0,629.5h0.8M108.1,625.1h0.8M107.8,629.0h0.8M107.7,626.8h0.8M108.9,624.7h0.8M106.7,630.4h0.8M109.1,629.3h0.8M108.6,625.3h0.8M110.8,619.5h0.8M109.9,626.0h0.8M107.8,629.1h0.8M106.5,626.8h0.8M107.8,627.9h0.8M109.5,622.3h0.8M108.6,621.3h0.8M109.1,621.7h0.8M108.9,625.8h0.8M108.5,633.6h0.8M108.7,630.1h0.8M107.2,628.1h0.8M108.4,629.4h0.8M109.8,629.5h0.8M109.0,622.8h0.8M109.5,629.8h0.8M109.4,628.0h0.8M105.5,633.6h0.8M109.6,624.8h0.8M108.0,628.7h0.8M109.0,626.1h0.8M108.2,628.4h0.8M109.4,627.1h0.8M106.0,624.7h0.8M108.1,626.5h0.8M109.5,623.5h0.8M107.9,630.3h0.8M106.9,638.0h0.8M107.8,632.7h0.8M109.1,631.3h0.8M108.5,622.4h0.8M109.1,632.0h0.8M107.2,633.8h0.8M108.3,629.7h0.8M107.3,627.7h0.8M109.1,624.3h0.8M110.0,626.8h0.8M109.5,620.0h0.8M107.8,629.7h0.8M107.1,628.4h0.8M107.4,631.0h0.8M109.2,625.9h0.8M105.4,638.4h0.8M106.8,630.5h0.8M106.5,627.9h0.8M108.3,629.1h0.8M108.0,626.3h0.8M109.2,626.3h0.8M107.0,629.4h0.8M108.3,630.3h0.8M106.7,626.6h0.8M105.8,634.3h0.8M109.6,620.3h0.8M107.1,627.1h0.8M109.2,637.4h0.8M106.1,625.1h0.8M109.4,621.2h0.8M108.5,628.3h0.8M106.7,623.9h0.8M107.1,626.7h0.8M107.8,629.8h0.8M107.3,629.8h0.8M107.9,627.3h0.8M109.1,627.0h0.8M107.6,631.7h0.8M108.6,631.8h0.8M109.6,625.0h0.8M108.9,623.5h0.8M107.0,632.2h0.8M109.0,622.8h0.8M108.1,624.5h0.8M110.0,629.2h0.8M107.1,623.6h0.8M108.0,631.0h0.8M109.7,623.6h0.8M109.9,624.5h0.8M109.4,625.1h0.8M106.6,631.7h0.8M109.2,630.4h0.8M107.8,622.1h0.8M108.2,629.3h0.8M108.9,625.6h0.8M109.3,621.7h0.8M107.9,628.9h0.8M108.5,623.3h0.8M108.1,625.7h0.8M105.5,632.8h0.8M107.3,629.2h0.8M108.3,624.5h0.8M108.5,632.1h0.8M110.1,630.1h0.8M108.1,630.0h0.8M109.4,631.6h0.8M108.1,626.8h0.8M106.1,628.2h0.8M108.9,622.6h0.8M108.0,622.9h0.8M108.3,621.8h0.8M110.3,628.1h0.8M108.0,630.2h0.8M108.3,628.7h0.8M108.2,627.4h0.8M108.0,626.1h0.8M109.6,622.4h0.8M107.1,632.9h0.8M109.0,629.6h0.8M108.3,636.5h0.8M106.6,636.4h0.8M107.4,631.7h0.8M109.6,624.8h0.8M108.0,628.5h0.8M108.9,632.4h0.8M110.7,630.5h0.8M106.8,634.7h0.8M110.4,625.3h0.8M108.5,629.4h0.8M108.1,630.7h0.8M107.8,637.2h0.8M108.4,630.4h0.8M107.2,628.5h0.8M106.4,634.6h0.8M108.9,628.3h0.8M109.8,623.4h0.8M110.3,619.3h0.8M109.9,620.4h0.8M106.7,626.5h0.8M108.6,623.9h0.8M106.7,629.6h0.8M108.9,622.6h0.8M107.2,629.8h0.8M108.6,628.5h0.8M108.6,625.5h0.8M108.4,627.1h0.8M109.2,630.0h0.8M107.6,628.6h0.8M108.2,620.5h0.8M108.1,630.0h0.8M108.1,628.8h0.8M109.7,624.0h0.8M109.4,634.0h0.8M106.6,633.0h0.8M107.6,625.0h0.8M108.4,633.3h0.8M108.9,625.9h0.8M110.0,622.1h0.8M107.5,630.0h0.8M108.0,626.2h0.8M109.2,627.0h0.8M107.0,626.8h0.8M109.0,621.0h0.8M106.8,626.4h0.8M106.9,628.1h0.8M108.6,621.2h0.8M107.4,634.0h0.8M107.8,632.1h0.8M106.0,631.9h0.8M107.8,628.8h0.8M108.5,631.6h0.8M108.6,624.4h0.8M108.5,628.5h0.8M108.9,624.1h0.8" stroke="#0a0a0a" stroke-width="0.8" fill="none"/>
<path d="M111.2,612.8h0.6M112.5,601.6h0.6M108.3,619.6h0.6M111.4,609.1h0.6M110.3,617.6h0.6M111.2,621.5h0.6M105.8,621.3h0.6M109.3,621.4h0.6M110.7,615.8h0.6M110.4,616.5h0.6M107.2,619.7h0.6M110.9,620.0h0.6M106.1,607.5h0.6M108.3,621.2h0.6M106.5,614.6h0.6M109.8,617.6h0.6M106.8,615.1h0.6M110.4,606.0h0.6M110.0,622.2h0.6M109.7,605.6h0.6M108.5,621.2h0.6M111.5,614.4h0.6M109.8,608.5h0.6M109.1,611.7h0.6M111.5,605.7h0.6M111.8,604.4h0.6M110.7,613.3h0.6M110.2,609.5h0.6M109.1,621.4h0.6M110.1,617.0h0.6M109.4,620.3h0.6M110.7,615.4h0.6M107.8,619.5h0.6M106.6,621.6h0.6M108.5,609.7h0.6M108.6,619.0h0.6M109.4,622.2h0.6M108.9,620.0h0.6M113.2,617.9h0.6M110.8,615.4h0.6M112.2,620.7h0.6M109.9,612.3h0.6M108.5,619.1h0.6M111.6,603.8h0.6M106.5,618.7h0.6M107.3,618.7h0.6M110.1,617.8h0.6M108.1,621.3h0.6M108.7,615.1h0.6M109.1,608.8h0.6M109.9,619.9h0.6M109.6,610.3h0.6M110.5,612.7h0.6M110.7,617.9h0.6M104.9,621.7h0.6M110.6,616.1h0.6M111.0,601.3h0.6M108.4,609.9h0.6M112.3,614.6h0.6M108.6,621.4h0.6M111.1,613.6h0.6M110.1,620.7h0.6M109.0,621.9h0.6M111.4,617.3h0.6M111.2,621.5h0.6M108.6,614.6h0.6M111.8,612.7h0.6M108.7,619.1h0.6M106.5,613.0h0.6M108.9,617.6h0.6M108.7,616.1h0.6M110.6,618.4h0.6M106.8,619.1h0.6M110.6,618.2h0.6M109.0,607.6h0.6M108.4,612.1h0.6M112.8,616.7h0.6M108.3,613.3h0.6M111.4,620.5h0.6M110.9,619.1h0.6" stroke="#444" stroke-width="0.6" fill="none" opacity="0.8"/>
<path d="M115.7,623.7h0.6M132.6,616.4h0.6M117.7,609.2h0.6M100.2,624.3h0.6M129.7,613.4h0.6M106.3,615.9h0.6M126.0,614.0h0.6M124.6,607.2h0.6M106.4,640.4h0.6M137.5,590.7h0.6M134.5,603.1h0.6M105.7,629.6h0.6M133.0,610.6h0.6M142.4,593.7h0.6M132.2,601.6h0.6M122.8,615.3h0.6M124.5,612.0h0.6M114.1,631.0h0.6M124.3,603.6h0.6M120.4,621.8h0.6M109.9,617.0h0.6M105.9,639.6h0.6M107.6,626.3h0.6M125.4,610.9h0.6M121.2,622.1h0.6M133.8,601.1h0.6M110.2,640.5h0.6M136.7,599.6h0.6M117.4,608.6h0.6M121.7,630.4h0.6M115.3,617.3h0.6M109.6,622.0h0.6M119.3,622.1h0.6M128.2,603.8h0.6M111.5,626.0h0.6M118.0,605.5h0.6M116.1,639.9h0.6M116.1,615.5h0.6M125.0,605.2h0.6M119.4,606.1h0.6M101.1,620.0h0.6M114.7,627.5h0.6M121.8,606.4h0.6M118.8,604.3h0.6M117.3,604.7h0.6M111.0,616.3h0.6M117.2,612.6h0.6M127.7,605.0h0.6M134.5,599.0h0.6M135.9,614.5h0.6M130.5,603.3h0.6M114.1,630.8h0.6M109.1,633.1h0.6M124.0,623.5h0.6M123.0,619.9h0.6M123.6,605.7h0.6M121.9,610.5h0.6M122.3,610.7h0.6M120.8,609.9h0.6M108.0,619.9h0.6M124.6,615.9h0.6M121.8,619.0h0.6M116.6,614.4h0.6M99.8,607.1h0.6M137.8,603.2h0.6M109.8,627.2h0.6M120.8,626.9h0.6M117.4,611.9h0.6M124.6,622.2h0.6M117.9,607.7h0.6M132.5,602.6h0.6M117.2,613.2h0.6M141.4,586.4h0.6M111.6,615.5h0.6M128.4,618.3h0.6M104.1,640.5h0.6M124.5,594.6h0.6M123.4,614.1h0.6M102.8,632.8h0.6M112.8,628.0h0.6M107.1,624.7h0.6M110.9,642.8h0.6M122.2,615.0h0.6M130.9,611.0h0.6M132.6,606.5h0.6M127.3,622.3h0.6M115.8,636.1h0.6M142.1,595.8h0.6M108.8,617.3h0.6M124.1,604.8h0.6M110.8,625.6h0.6M122.2,615.3h0.6M121.2,612.6h0.6M128.7,615.6h0.6M127.3,616.3h0.6M114.2,607.1h0.6M120.0,623.7h0.6M113.2,615.1h0.6M110.5,630.9h0.6M100.7,620.2h0.6M129.8,603.7h0.6M125.4,617.0h0.6M114.3,612.6h0.6M118.4,608.4h0.6M118.4,631.2h0.6M128.2,604.1h0.6M130.3,607.5h0.6M115.1,637.5h0.6M143.9,592.5h0.6M111.9,630.1h0.6M123.2,599.6h0.6M115.6,609.1h0.6M128.5,606.6h0.6M125.7,619.2h0.6M111.9,639.2h0.6M124.9,622.0h0.6M112.1,624.3h0.6M118.1,611.9h0.6M140.9,612.2h0.6" stroke="#666" stroke-width="0.6" fill="none" opacity="0.8"/>
<path d="M100.60,566.40H138.80" stroke="#444" stroke-width="0.9" fill="none"/>
<path d="M100.60,566.30V625.40H112.60V566.30M138.80,566.30V616.20L112.60,625.70" stroke="#4a4a4a" stroke-width="0.65" fill="none"/>
<text x="106.80" y="595.80" font-size="5.4" text-anchor="middle" fill="#000" textLength="13.2" lengthAdjust="spacingAndGlyphs" stroke="#000" stroke-width="0.3" >26,84</text>
<text x="125.80" y="595.80" font-size="5.4" text-anchor="middle" fill="#000" textLength="9.6" lengthAdjust="spacingAndGlyphs" stroke="#000" stroke-width="0.3" >1,18</text>
<text x="74.50" y="613.60" font-size="7.4" text-anchor="middle" fill="#111" textLength="33.6" lengthAdjust="spacingAndGlyphs" transform="rotate(-90 74.50 613.60)" stroke="#111" stroke-width="0.3" >Cyclin D3</text>
<text x="128.00" y="663.80" font-size="7.4" text-anchor="middle" fill="#111" textLength="45.4" lengthAdjust="spacingAndGlyphs" stroke="#111" stroke-width="0.3" >DNA content</text>
<text x="132.30" y="551.00" font-size="7.5" text-anchor="middle" fill="#111" textLength="28.0" lengthAdjust="spacingAndGlyphs" stroke="#111" stroke-width="0.3" >CCX733</text>
<text x="132.30" y="561.10" font-size="7.5" text-anchor="middle" fill="#111" textLength="34.7" lengthAdjust="spacingAndGlyphs" stroke="#111" stroke-width="0.3" >+ CXCL12</text>
<path d="M205.10,566.10H285.50V646.70" stroke="#8a8a8a" stroke-width="0.6" fill="none"/>
<path d="M205.10,566.10V646.70H285.50" stroke="#555" stroke-width="0.7" fill="none"/>
<path d="M203.10,646.70H205.10M204.10,645.16H205.10M204.10,643.62H205.10M204.10,642.08H205.10M204.10,640.54H205.10M204.10,639.00H205.10M204.10,637.46H205.10M204.10,635.92H205.10M204.10,634.38H205.10M204.10,632.84H205.10M203.10,631.31H205.10M204.10,629.77H205.10M204.10,628.23H205.10M204.10,626.69H205.10M204.10,625.15H205.10M204.10,623.61H205.10M204.10,622.07H205.10M204.10,620.53H205.10M204.10,618.99H205.10M204.10,617.45H205.10M203.10,615.91H205.10M204.10,614.37H205.10M204.10,612.83H205.10M204.10,611.29H205.10M204.10,609.75H205.10M204.10,608.21H205.10M204.10,606.67H205.10M204.10,605.13H205.10M204.10,603.60H205.10M204.10,602.06H205.10M203.10,600.52H205.10M204.10,598.98H205.10M204.10,597.44H205.10M204.10,595.90H205.10M204.10,594.36H205.10M204.10,592.82H205.10M204.10,591.28H205.10M204.10,589.74H205.10M204.10,588.20H205.10M204.10,586.66H205.10M203.10,585.12H205.10M204.10,583.58H205.10M204.10,582.04H205.10M204.10,580.50H205.10M204.10,578.96H205.10M204.10,577.42H205.10M204.10,575.88H205.10M204.10,574.35H205.10M204.10,572.81H205.10M204.10,571.27H205.10M203.10,569.73H205.10M205.10,646.70V648.70M206.64,646.70V647.70M208.17,646.70V647.70M209.71,646.70V647.70M211.24,646.70V647.70M212.78,646.70V647.70M214.31,646.70V647.70M215.85,646.70V647.70M217.39,646.70V647.70M218.92,646.70V647.70M220.46,646.70V648.70M221.99,646.70V647.70M223.53,646.70V647.70M225.06,646.70V647.70M226.60,646.70V647.70M228.13,646.70V647.70M229.67,646.70V647.70M231.21,646.70V647.70M232.74,646.70V647.70M234.28,646.70V647.70M235.81,646.70V648.70M237.35,646.70V647.70M238.88,646.70V647.70M240.42,646.70V647.70M241.96,646.70V647.70M243.49,646.70V647.70M245.03,646.70V647.70M246.56,646.70V647.70M248.10,646.70V647.70M249.63,646.70V647.70M251.17,646.70V648.70M252.70,646.70V647.70M254.24,646.70V647.70M255.78,646.70V647.70M257.31,646.70V647.70M258.85,646.70V647.70M260.38,646.70V647.70M261.92,646.70V647.70M263.45,646.70V647.70M264.99,646.70V647.70M266.53,646.70V648.70M268.06,646.70V647.70M269.60,646.70V647.70M271.13,646.70V647.70M272.67,646.70V647.70M274.20,646.70V647.70M275.74,646.70V647.70M277.28,646.70V647.70M278.81,646.70V647.70M280.35,646.70V647.70M281.88,646.70V648.70" stroke="#555" stroke-width="0.45" fill="none"/>
<text x="201.50" y="632.41" font-size="3.2" text-anchor="end" fill="#666" >200</text>
<text x="220.46" y="653.00" font-size="3.2" text-anchor="middle" fill="#666" >200</text>
<text x="201.50" y="617.01" font-size="3.2" text-anchor="end" fill="#666" >400</text>
<text x="235.81" y="653.00" font-size="3.2" text-anchor="middle" fill="#666" >400</text>
<text x="201.50" y="601.62" font-size="3.2" text-anchor="end" fill="#666" >600</text>
<text x="251.17" y="653.00" font-size="3.2" text-anchor="middle" fill="#666" >600</text>
<text x="201.50" y="586.22" font-size="3.2" text-anchor="end" fill="#666" >800</text>
<text x="266.53" y="653.00" font-size="3.2" text-anchor="middle" fill="#666" >800</text>
<text x="201.50" y="570.83" font-size="3.2" text-anchor="end" fill="#666" >1000</text>
<text x="281.88" y="653.00" font-size="3.2" text-anchor="middle" fill="#666" >1000</text>
<path d="M221.7,626.7h0.8M222.8,633.3h0.8M222.9,633.7h0.8M224.2,623.1h0.8M223.4,635.2h0.8M224.9,620.2h0.8M223.5,617.2h0.8M223.8,628.3h0.8M225.0,623.4h0.8M222.4,628.2h0.8M222.3,628.5h0.8M222.8,627.2h0.8M222.8,624.2h0.8M222.8,623.5h0.8M224.8,622.4h0.8M222.9,627.7h0.8M223.7,626.1h0.8M223.3,632.2h0.8M221.1,635.7h0.8M222.7,632.9h0.8M220.5,631.1h0.8M223.1,622.8h0.8M223.3,629.1h0.8M223.8,626.1h0.8M222.8,633.3h0.8M224.3,623.4h0.8M222.4,621.0h0.8M222.3,622.2h0.8M222.8,632.6h0.8M225.4,617.4h0.8M223.1,628.2h0.8M222.5,622.7h0.8M222.4,629.1h0.8M224.2,622.4h0.8M224.4,626.4h0.8M222.1,628.6h0.8M221.8,623.4h0.8M223.2,626.4h0.8M222.5,634.7h0.8M224.0,631.6h0.8M224.3,624.3h0.8M223.6,623.3h0.8M224.2,622.8h0.8M224.4,625.2h0.8M222.5,618.7h0.8M221.5,629.5h0.8M223.2,633.2h0.8M222.5,631.8h0.8M223.8,630.2h0.8M224.0,620.5h0.8M222.3,630.6h0.8M221.5,628.3h0.8M222.7,633.0h0.8M223.4,626.5h0.8M222.6,626.0h0.8M222.1,628.0h0.8M221.4,626.3h0.8M223.6,625.3h0.8M223.1,629.4h0.8M223.7,623.1h0.8M225.2,619.2h0.8M223.0,627.0h0.8M221.6,632.6h0.8M223.3,626.7h0.8M224.9,626.2h0.8M223.7,625.8h0.8M222.0,628.5h0.8M222.8,629.6h0.8M224.1,624.5h0.8M222.5,632.0h0.8M222.1,624.1h0.8M221.7,628.5h0.8M223.9,630.7h0.8M225.3,626.2h0.8M223.5,632.2h0.8M221.6,628.1h0.8M223.4,626.7h0.8M224.1,628.9h0.8M223.7,629.0h0.8M222.6,627.5h0.8M224.3,626.0h0.8M224.9,621.4h0.8M221.1,634.8h0.8M224.1,628.8h0.8M222.4,635.8h0.8M223.3,632.8h0.8M223.4,623.0h0.8M224.5,621.7h0.8M224.4,628.3h0.8M224.1,618.2h0.8M223.6,626.4h0.8M223.1,623.9h0.8M224.1,628.6h0.8M224.3,628.2h0.8M224.9,626.5h0.8M222.8,620.9h0.8M223.2,624.4h0.8M223.7,630.2h0.8M224.1,622.9h0.8M225.2,622.9h0.8M223.9,626.0h0.8M224.8,625.5h0.8M222.7,631.3h0.8M222.1,632.7h0.8M223.0,625.9h0.8M222.6,630.7h0.8M225.6,622.8h0.8M222.5,626.8h0.8M222.7,626.5h0.8M224.0,626.1h0.8M223.4,619.0h0.8M222.3,627.9h0.8M222.8,622.7h0.8M225.5,622.0h0.8M223.4,635.0h0.8M224.3,617.5h0.8M225.0,627.9h0.8M223.0,628.4h0.8M223.4,631.5h0.8M223.1,621.6h0.8M224.0,623.9h0.8M223.8,620.6h0.8M223.0,630.8h0.8M223.1,625.4h0.8M223.3,631.6h0.8M221.3,634.2h0.8M221.8,627.8h0.8M221.9,625.1h0.8M223.5,628.3h0.8M223.0,621.5h0.8M224.4,626.3h0.8M223.1,631.0h0.8M224.7,622.6h0.8M223.5,627.7h0.8M223.4,630.6h0.8M222.9,625.5h0.8M224.9,617.1h0.8M222.8,631.0h0.8M222.4,625.2h0.8M223.5,631.4h0.8M223.1,627.7h0.8M223.4,622.9h0.8M221.4,633.8h0.8M222.9,628.1h0.8M222.2,629.0h0.8M222.1,635.0h0.8M223.6,625.6h0.8M226.2,625.0h0.8M222.0,632.5h0.8M221.0,626.5h0.8M223.4,624.4h0.8M224.6,613.6h0.8M223.1,627.9h0.8M222.4,628.3h0.8M224.0,622.7h0.8M223.1,626.0h0.8M221.8,635.6h0.8M221.5,637.2h0.8M223.1,625.9h0.8M224.7,627.3h0.8M224.4,625.1h0.8M222.7,628.8h0.8M223.9,633.7h0.8M223.6,622.5h0.8M223.6,625.5h0.8M224.3,621.6h0.8M222.1,627.8h0.8M219.8,637.9h0.8M224.2,628.6h0.8M222.6,630.5h0.8M225.0,624.9h0.8M221.9,637.7h0.8M223.7,629.7h0.8M221.3,629.0h0.8M220.5,637.6h0.8M222.0,629.2h0.8M224.4,633.7h0.8M222.2,634.0h0.8M223.7,622.2h0.8M222.2,636.4h0.8M224.4,627.8h0.8M221.3,630.9h0.8M221.9,629.1h0.8M223.9,626.7h0.8M223.1,627.8h0.8M221.3,632.7h0.8M224.6,626.3h0.8M225.8,624.2h0.8M220.7,631.7h0.8M223.4,627.8h0.8M221.0,631.0h0.8M222.0,621.4h0.8M224.2,625.4h0.8M223.7,621.8h0.8M223.3,623.4h0.8M224.7,624.4h0.8M221.5,627.5h0.8M220.5,625.3h0.8M223.2,621.4h0.8M223.8,630.1h0.8M224.0,623.7h0.8M223.6,630.1h0.8M222.9,626.9h0.8M223.2,631.1h0.8M224.0,631.0h0.8M221.3,635.3h0.8M221.6,626.6h0.8M222.7,619.2h0.8M222.5,630.2h0.8M224.5,626.9h0.8M222.4,629.4h0.8M223.7,621.9h0.8M223.6,624.1h0.8M222.3,629.8h0.8M221.9,631.8h0.8M223.2,626.8h0.8M223.6,624.1h0.8M222.5,625.7h0.8M223.3,634.8h0.8M223.7,619.6h0.8M222.7,623.6h0.8M223.1,631.6h0.8M224.1,623.8h0.8M223.7,622.7h0.8M223.2,628.2h0.8M222.4,631.4h0.8M221.2,634.8h0.8M223.0,624.1h0.8M221.0,637.5h0.8M223.4,624.1h0.8M223.6,628.0h0.8M223.4,622.4h0.8M225.1,626.7h0.8M222.9,624.8h0.8M222.3,631.2h0.8M221.7,622.2h0.8M223.0,624.7h0.8M223.6,624.8h0.8M221.9,634.5h0.8M222.0,636.3h0.8M223.6,631.0h0.8M222.5,635.7h0.8M222.2,631.8h0.8M224.1,635.2h0.8M223.1,628.6h0.8M222.6,617.3h0.8M222.2,627.9h0.8M222.6,628.7h0.8M224.1,625.4h0.8M224.3,627.4h0.8M221.8,628.9h0.8M223.1,635.2h0.8M223.4,629.2h0.8M222.6,624.3h0.8M224.4,621.9h0.8M224.6,620.4h0.8M223.1,632.7h0.8M221.8,626.8h0.8M223.3,623.7h0.8M224.9,625.9h0.8M223.4,621.7h0.8M224.5,624.4h0.8M224.2,627.0h0.8M223.0,625.0h0.8M223.6,621.3h0.8M222.5,629.6h0.8M223.3,635.6h0.8M220.8,632.7h0.8M221.2,625.9h0.8M223.7,628.9h0.8M223.7,626.1h0.8M222.1,628.7h0.8M224.0,626.4h0.8M224.0,627.9h0.8M221.1,638.1h0.8M221.5,639.1h0.8M222.0,626.7h0.8M222.8,630.0h0.8M222.5,631.1h0.8M223.6,623.3h0.8M224.1,623.0h0.8M223.0,629.9h0.8M223.0,623.4h0.8M224.0,630.6h0.8M224.1,623.9h0.8M222.7,629.9h0.8M223.7,625.9h0.8M222.5,623.6h0.8M222.6,623.5h0.8M222.2,631.7h0.8M223.9,630.0h0.8M225.7,622.5h0.8M223.0,630.6h0.8M222.1,621.6h0.8M225.3,624.2h0.8M222.9,623.1h0.8M223.2,628.0h0.8M221.8,630.4h0.8M222.9,622.4h0.8M222.6,622.7h0.8M220.6,630.8h0.8M223.7,638.8h0.8M222.5,630.4h0.8M222.2,623.6h0.8M224.2,627.7h0.8M224.9,624.1h0.8M221.6,628.0h0.8M223.6,627.5h0.8M222.3,632.1h0.8M225.2,627.9h0.8M222.1,630.4h0.8M222.4,628.3h0.8M222.7,627.3h0.8M221.9,632.9h0.8M223.8,636.2h0.8M223.7,621.4h0.8M223.9,626.7h0.8M222.4,626.0h0.8M223.5,631.5h0.8M223.4,628.7h0.8M223.8,629.4h0.8M223.3,628.2h0.8M221.5,624.8h0.8M224.8,623.7h0.8M221.4,629.5h0.8M222.5,625.7h0.8M224.1,632.1h0.8M222.1,627.9h0.8M222.9,633.3h0.8M223.7,626.1h0.8M221.9,632.5h0.8M222.8,627.6h0.8M222.8,627.2h0.8M223.3,627.8h0.8M224.7,624.8h0.8M221.2,627.5h0.8M222.4,621.1h0.8M224.4,626.6h0.8M224.7,624.9h0.8M225.2,627.7h0.8M221.8,625.0h0.8M223.2,624.3h0.8M223.0,622.7h0.8M222.3,623.7h0.8M222.9,628.8h0.8M222.9,622.4h0.8M224.4,626.2h0.8M223.8,635.6h0.8M223.3,628.0h0.8M224.0,619.0h0.8M224.7,624.5h0.8M225.0,621.2h0.8M223.2,630.2h0.8M221.3,633.7h0.8M222.7,628.8h0.8M222.1,629.9h0.8M222.7,619.9h0.8M222.2,625.1h0.8M222.5,626.0h0.8M220.4,634.8h0.8M224.9,622.5h0.8M222.8,628.8h0.8M221.8,625.9h0.8M226.3,625.0h0.8M221.3,629.3h0.8M222.9,630.1h0.8M224.6,629.1h0.8M222.9,624.7h0.8M222.8,626.5h0.8M224.2,631.1h0.8M222.5,628.3h0.8M223.5,621.3h0.8M221.1,622.8h0.8M222.4,624.4h0.8M223.8,629.3h0.8M221.8,619.6h0.8M223.5,621.6h0.8M223.9,629.8h0.8M222.5,628.1h0.8M222.8,628.5h0.8M223.9,629.9h0.8M223.0,620.2h0.8M222.7,630.4h0.8M222.9,630.9h0.8M223.2,626.9h0.8M223.1,630.8h0.8M222.2,633.1h0.8M223.1,628.2h0.8M223.3,623.9h0.8M223.1,632.0h0.8M223.8,628.3h0.8M225.4,620.5h0.8M222.2,627.6h0.8M223.1,626.5h0.8M221.3,630.7h0.8M222.7,622.4h0.8M224.6,623.2h0.8M223.1,631.7h0.8M221.7,627.8h0.8M223.0,630.3h0.8M222.9,623.3h0.8M224.0,628.6h0.8M222.3,629.3h0.8M222.8,634.3h0.8M221.9,630.6h0.8M222.2,629.5h0.8M224.0,614.8h0.8M222.3,624.1h0.8M223.9,623.9h0.8M225.1,629.5h0.8M221.6,631.6h0.8M219.5,639.9h0.8M222.7,630.7h0.8M223.4,624.2h0.8M221.8,630.9h0.8M223.5,620.4h0.8M223.8,620.0h0.8M222.6,629.2h0.8M224.1,625.5h0.8M223.4,629.2h0.8M220.9,633.1h0.8M221.9,634.5h0.8M223.5,630.6h0.8M222.5,629.1h0.8M221.6,628.8h0.8M224.4,633.2h0.8M222.0,624.9h0.8M222.9,633.0h0.8M219.9,637.0h0.8M222.3,629.6h0.8M222.4,624.1h0.8M222.9,633.2h0.8M222.8,631.9h0.8M221.9,635.8h0.8M222.6,619.5h0.8M223.0,627.9h0.8M223.0,627.0h0.8M222.8,624.3h0.8M222.9,631.7h0.8M221.5,626.4h0.8M223.1,624.3h0.8M223.6,623.4h0.8M222.2,633.0h0.8M224.4,624.7h0.8M223.6,628.4h0.8M224.0,621.9h0.8M224.4,621.4h0.8M221.5,631.6h0.8M224.4,631.4h0.8M222.8,622.4h0.8M225.1,627.9h0.8M222.7,631.2h0.8M223.8,629.2h0.8M222.6,635.9h0.8M224.3,626.9h0.8M223.7,625.8h0.8M222.9,631.8h0.8M224.6,630.0h0.8M223.3,626.2h0.8M223.3,626.9h0.8M223.6,629.4h0.8M222.3,627.5h0.8M224.3,623.8h0.8M223.3,622.6h0.8M225.0,623.6h0.8M223.8,624.8h0.8M221.6,627.6h0.8M222.6,632.0h0.8M224.1,623.0h0.8M223.1,629.9h0.8M222.4,628.0h0.8M223.9,627.8h0.8M222.2,632.5h0.8M222.1,627.6h0.8M223.1,631.6h0.8M224.2,618.2h0.8M224.4,630.0h0.8M221.4,626.7h0.8M221.0,629.7h0.8M224.4,629.1h0.8M227.2,619.1h0.8M223.3,623.2h0.8M222.5,630.3h0.8M221.7,632.1h0.8M223.4,626.0h0.8M223.1,626.7h0.8M223.0,634.0h0.8M223.9,627.5h0.8M222.3,626.7h0.8M224.3,623.5h0.8M223.7,628.7h0.8M222.9,625.5h0.8M222.5,626.5h0.8M223.4,621.6h0.8M225.3,623.6h0.8M223.8,627.3h0.8M222.0,621.0h0.8M224.7,618.3h0.8M222.7,632.8h0.8M224.3,618.2h0.8M224.8,621.6h0.8M223.2,630.3h0.8M223.2,619.9h0.8M222.7,627.0h0.8M222.7,629.8h0.8M221.6,636.7h0.8M221.4,634.8h0.8M223.9,630.1h0.8M223.5,632.4h0.8M222.2,629.2h0.8M222.5,634.8h0.8M223.9,628.0h0.8M220.9,630.0h0.8M224.7,625.3h0.8M223.3,627.4h0.8M223.6,625.4h0.8M224.3,616.3h0.8M224.3,625.4h0.8M221.8,625.0h0.8M223.0,625.7h0.8M223.6,631.9h0.8M223.2,630.4h0.8M223.4,630.6h0.8M223.0,621.6h0.8M223.7,631.0h0.8M223.8,631.5h0.8M222.5,625.8h0.8M224.2,630.1h0.8M223.7,623.9h0.8M224.3,626.7h0.8M223.2,630.2h0.8M224.7,625.7h0.8M222.8,629.1h0.8M223.1,626.3h0.8M223.6,628.7h0.8M222.7,629.6h0.8M223.4,626.4h0.8M222.9,629.1h0.8M221.9,632.6h0.8M221.8,630.5h0.8M225.9,621.2h0.8M223.0,628.5h0.8M222.8,628.1h0.8M223.8,630.0h0.8M222.2,625.1h0.8M222.5,626.5h0.8M222.7,624.7h0.8M222.6,626.1h0.8M223.4,628.4h0.8M222.2,624.4h0.8M222.1,629.8h0.8M222.6,634.9h0.8M222.8,628.4h0.8M224.5,631.2h0.8M220.3,631.1h0.8M223.3,629.1h0.8M222.5,632.2h0.8M221.9,637.4h0.8M222.3,627.2h0.8M221.6,632.2h0.8M223.9,629.9h0.8M222.6,627.0h0.8M223.7,629.8h0.8M222.0,630.4h0.8M223.5,624.2h0.8M223.5,621.8h0.8M223.4,628.9h0.8M223.3,626.7h0.8M222.1,631.6h0.8M222.3,630.8h0.8M222.9,621.9h0.8M223.8,625.6h0.8M223.4,634.3h0.8M223.6,626.6h0.8M224.2,626.8h0.8M222.7,625.8h0.8M222.1,630.2h0.8M222.0,630.8h0.8M224.2,626.7h0.8M224.0,628.5h0.8M224.3,622.8h0.8M219.9,634.4h0.8M224.1,623.0h0.8M221.8,633.5h0.8M223.2,626.6h0.8M222.5,633.1h0.8M222.2,633.9h0.8M223.7,624.9h0.8M223.5,630.1h0.8M223.8,619.2h0.8M221.9,626.9h0.8M222.0,624.0h0.8M223.9,628.6h0.8M220.3,624.7h0.8M220.5,630.8h0.8M221.6,628.7h0.8M225.3,618.0h0.8M222.4,631.8h0.8M224.1,627.4h0.8M224.4,621.6h0.8M219.6,632.7h0.8M221.3,634.1h0.8M222.2,624.1h0.8M224.5,622.1h0.8M224.0,627.3h0.8M223.8,630.8h0.8M222.6,627.1h0.8M220.8,630.8h0.8M223.5,629.0h0.8M222.5,629.3h0.8M226.7,620.4h0.8M223.7,633.5h0.8M223.1,627.7h0.8M222.5,631.1h0.8M223.7,626.3h0.8M222.4,630.0h0.8M224.9,624.9h0.8M223.4,629.5h0.8M223.8,624.4h0.8M222.7,631.5h0.8M222.1,627.1h0.8M223.2,627.3h0.8M224.4,630.8h0.8M222.5,626.1h0.8M223.4,622.4h0.8M221.5,631.8h0.8M222.5,622.8h0.8M223.7,626.2h0.8M223.6,630.1h0.8M223.6,623.0h0.8M223.8,627.6h0.8M224.4,627.4h0.8M223.6,624.2h0.8M222.9,626.5h0.8M222.8,624.6h0.8M221.9,627.6h0.8M224.5,617.2h0.8M223.6,627.3h0.8M223.8,634.9h0.8M223.0,634.7h0.8M223.7,629.3h0.8M223.7,624.8h0.8M223.3,623.1h0.8M223.0,626.4h0.8M221.8,630.4h0.8M225.0,626.1h0.8M222.3,631.1h0.8M223.2,630.6h0.8M222.4,636.2h0.8M221.8,630.6h0.8M223.5,626.5h0.8M224.5,626.4h0.8M223.6,633.7h0.8M225.7,625.4h0.8M224.3,621.6h0.8M222.5,636.0h0.8M224.7,621.0h0.8M221.9,627.7h0.8M221.8,627.1h0.8M222.4,630.9h0.8M222.7,625.7h0.8M223.1,627.8h0.8M223.9,626.4h0.8M223.1,625.4h0.8M222.6,626.8h0.8M222.0,632.7h0.8M221.2,627.4h0.8M223.9,624.2h0.8M221.4,634.3h0.8M220.5,631.2h0.8M222.7,635.1h0.8M224.3,636.5h0.8M225.3,621.6h0.8M224.5,625.5h0.8M222.8,621.7h0.8M223.1,620.6h0.8M220.4,628.8h0.8M221.3,628.8h0.8M224.6,617.7h0.8M223.1,623.6h0.8M224.1,623.5h0.8M223.5,629.3h0.8M221.7,629.2h0.8M220.6,636.2h0.8M225.3,625.1h0.8M222.3,629.5h0.8M223.6,621.8h0.8M223.3,626.1h0.8M220.7,638.1h0.8M223.4,626.2h0.8M221.7,628.6h0.8M222.9,626.9h0.8M222.4,631.9h0.8M225.3,626.7h0.8M222.8,622.6h0.8M222.0,623.9h0.8M221.3,637.8h0.8M224.8,619.2h0.8M223.2,630.7h0.8M222.0,636.7h0.8M221.4,631.7h0.8M222.2,629.2h0.8M222.1,626.0h0.8M223.8,625.9h0.8M224.2,624.0h0.8M224.5,624.6h0.8M224.8,622.1h0.8M222.4,622.2h0.8M224.4,628.8h0.8M223.6,630.3h0.8M225.0,623.0h0.8M223.1,630.2h0.8M223.7,628.2h0.8M222.2,636.0h0.8M223.7,622.3h0.8M225.0,623.2h0.8M222.8,626.8h0.8M221.7,629.9h0.8M222.7,629.4h0.8M222.9,623.2h0.8M222.7,630.6h0.8M224.3,628.6h0.8M224.5,627.6h0.8M220.6,626.9h0.8M222.0,628.2h0.8M222.2,627.4h0.8M223.3,623.5h0.8M225.0,629.3h0.8M222.5,628.9h0.8M223.7,629.1h0.8M223.3,626.4h0.8M223.1,622.3h0.8M224.3,624.3h0.8M222.8,626.1h0.8M224.2,628.3h0.8M223.3,639.7h0.8M223.6,631.8h0.8M223.8,625.2h0.8M222.9,625.1h0.8M224.0,620.3h0.8M223.3,623.8h0.8M224.1,629.1h0.8M222.6,631.8h0.8M221.2,631.0h0.8M223.6,623.1h0.8M222.2,635.6h0.8M225.3,617.3h0.8M223.4,628.5h0.8M223.2,628.8h0.8M223.3,628.1h0.8M223.8,629.6h0.8M220.9,632.6h0.8M221.7,634.9h0.8M223.8,627.1h0.8M222.0,623.9h0.8M223.0,634.5h0.8M224.6,619.7h0.8M224.1,628.2h0.8M224.9,620.3h0.8M222.9,626.5h0.8M222.5,629.9h0.8M222.9,632.9h0.8M223.4,622.9h0.8M224.2,624.1h0.8M223.0,628.0h0.8M223.1,620.8h0.8M222.4,630.5h0.8M223.3,630.9h0.8M223.2,624.8h0.8M221.7,624.5h0.8M225.5,627.3h0.8M222.6,623.1h0.8M222.9,623.5h0.8M224.1,624.9h0.8M224.3,634.0h0.8M222.1,633.6h0.8M224.1,624.5h0.8M222.9,626.5h0.8M223.9,624.0h0.8M224.1,629.0h0.8M223.3,620.5h0.8M221.9,629.1h0.8M222.8,632.8h0.8M222.2,623.0h0.8M223.4,628.5h0.8M223.7,630.1h0.8M223.4,624.8h0.8M224.1,622.3h0.8M224.3,622.6h0.8M224.5,628.7h0.8M223.2,630.5h0.8M222.2,628.8h0.8M223.7,633.3h0.8M224.9,621.6h0.8M222.9,636.2h0.8M223.8,627.0h0.8M223.9,626.3h0.8M224.5,625.5h0.8M222.7,626.7h0.8M222.4,637.2h0.8M221.6,636.7h0.8M223.0,627.5h0.8M224.5,630.9h0.8M223.7,633.8h0.8M222.9,628.7h0.8M223.7,627.2h0.8M222.8,635.2h0.8M223.1,628.2h0.8M223.1,627.3h0.8M222.8,622.5h0.8M223.3,630.9h0.8M224.0,628.4h0.8M221.6,640.0h0.8M224.9,627.3h0.8M222.7,622.9h0.8M222.8,622.6h0.8M223.0,626.0h0.8M223.3,633.7h0.8M223.1,624.9h0.8M222.0,631.1h0.8M224.2,628.2h0.8M222.9,629.4h0.8M221.8,629.1h0.8M222.4,629.1h0.8M223.9,622.2h0.8M223.7,621.8h0.8M224.6,626.9h0.8M223.5,625.5h0.8M223.7,625.4h0.8M223.1,622.4h0.8M222.1,629.4h0.8M224.4,622.2h0.8M223.6,628.9h0.8M224.8,619.1h0.8M222.2,627.7h0.8M226.0,625.2h0.8M223.4,622.2h0.8M223.4,634.4h0.8M222.4,631.1h0.8M223.8,617.9h0.8M225.6,628.8h0.8M221.7,619.7h0.8M223.3,624.0h0.8M222.6,626.6h0.8M223.9,626.2h0.8M223.8,628.9h0.8M222.4,624.0h0.8M224.2,619.6h0.8M225.0,623.8h0.8M225.5,627.8h0.8M221.7,631.3h0.8M224.8,629.2h0.8M224.7,620.5h0.8M222.3,631.6h0.8M223.2,628.4h0.8M222.7,632.5h0.8M223.4,629.6h0.8M222.2,631.6h0.8M223.9,627.0h0.8M223.4,627.1h0.8M222.5,628.1h0.8M222.1,629.3h0.8M223.8,625.2h0.8M222.2,628.1h0.8M222.8,629.2h0.8M223.3,623.0h0.8M222.6,626.5h0.8M223.2,624.6h0.8M220.9,631.0h0.8M222.6,628.9h0.8M222.5,622.3h0.8M221.7,630.0h0.8M223.8,624.1h0.8M223.6,629.2h0.8M222.7,626.8h0.8M223.7,627.8h0.8M225.3,623.6h0.8M223.3,626.3h0.8M222.4,627.0h0.8M223.6,628.3h0.8M222.7,629.2h0.8M223.1,633.2h0.8M223.6,622.9h0.8M223.4,626.8h0.8M223.0,627.3h0.8M225.8,623.5h0.8M223.9,623.1h0.8M221.8,629.0h0.8M223.4,623.0h0.8M222.9,625.0h0.8M224.0,638.5h0.8M223.1,632.9h0.8M222.1,622.3h0.8M223.1,626.7h0.8M224.1,634.4h0.8M223.4,629.7h0.8M225.0,627.6h0.8M222.3,631.4h0.8M224.0,626.4h0.8M224.2,627.7h0.8" stroke="#0a0a0a" stroke-width="0.8" fill="none"/>
<path d="M225.5,611.8h0.6M223.5,609.8h0.6M224.5,607.5h0.6M227.3,614.2h0.6M225.4,620.4h0.6M223.6,618.7h0.6M221.8,615.2h0.6M222.5,620.3h0.6M224.9,619.8h0.6M226.2,620.4h0.6M225.9,621.4h0.6M220.6,619.5h0.6M222.3,621.8h0.6M220.2,618.5h0.6M223.4,619.9h0.6M224.4,612.1h0.6M224.6,614.7h0.6M222.9,615.8h0.6M223.9,606.5h0.6M225.2,611.2h0.6M226.4,617.0h0.6M226.0,615.5h0.6M225.5,608.4h0.6M220.8,616.4h0.6M223.2,608.5h0.6M225.7,616.4h0.6M222.4,619.2h0.6M225.0,610.2h0.6M224.1,620.6h0.6M225.1,619.1h0.6M225.5,620.6h0.6M221.6,621.6h0.6M225.4,615.1h0.6M225.0,614.2h0.6M223.4,615.2h0.6M221.7,621.7h0.6M225.7,611.1h0.6M222.1,619.9h0.6M223.0,618.2h0.6M223.0,619.1h0.6M227.8,618.1h0.6M222.0,617.4h0.6M226.1,618.7h0.6M225.0,620.4h0.6M223.4,619.0h0.6M225.6,609.2h0.6M225.4,617.1h0.6M222.6,609.4h0.6M223.3,619.4h0.6M221.8,621.1h0.6M223.8,618.2h0.6M224.5,619.9h0.6M225.8,619.1h0.6M225.0,614.3h0.6M220.2,620.3h0.6M223.8,613.2h0.6M222.0,618.0h0.6M223.5,616.8h0.6M224.2,609.1h0.6M226.1,613.8h0.6M223.5,612.7h0.6M220.9,615.2h0.6M224.6,602.1h0.6M223.2,619.4h0.6M221.5,619.0h0.6M224.5,612.4h0.6M225.5,615.9h0.6M224.9,617.2h0.6M222.2,617.5h0.6M224.5,611.5h0.6M225.1,600.3h0.6M225.8,613.3h0.6M222.6,608.2h0.6M226.5,609.0h0.6M225.2,622.2h0.6M226.0,612.3h0.6M224.7,621.7h0.6M224.5,616.8h0.6M222.7,609.9h0.6M225.7,618.8h0.6" stroke="#444" stroke-width="0.6" fill="none" opacity="0.8"/>
<path d="M232.9,615.1h0.6M217.0,625.8h0.6M223.5,631.3h0.6M217.0,634.2h0.6M232.7,608.3h0.6M229.0,607.3h0.6M227.4,634.4h0.6M239.1,605.2h0.6M246.7,595.4h0.6M235.9,598.1h0.6M243.8,614.2h0.6M240.1,610.0h0.6M243.6,611.3h0.6M230.8,625.8h0.6M237.1,610.7h0.6M239.6,614.9h0.6M238.4,617.5h0.6M236.5,605.7h0.6M227.6,608.0h0.6M223.1,625.2h0.6M241.8,607.5h0.6M248.0,607.4h0.6M229.7,629.2h0.6M224.7,637.7h0.6M221.4,623.4h0.6M236.0,614.0h0.6M238.2,620.3h0.6M239.3,609.9h0.6M223.9,641.3h0.6M228.6,635.8h0.6M232.1,604.6h0.6M238.3,607.4h0.6M247.0,610.9h0.6M225.7,634.8h0.6M240.1,605.6h0.6M258.5,607.6h0.6M221.5,633.9h0.6M237.7,618.7h0.6M243.3,608.5h0.6M243.8,606.5h0.6M234.4,620.9h0.6M229.4,604.9h0.6M249.2,599.0h0.6M239.3,620.5h0.6M240.9,603.1h0.6M227.8,618.5h0.6M235.3,609.5h0.6M217.1,636.9h0.6M242.4,608.7h0.6M250.2,605.7h0.6M251.5,606.0h0.6M224.6,615.4h0.6M243.0,605.1h0.6M234.6,599.6h0.6M238.7,614.9h0.6M257.7,599.6h0.6M230.4,628.6h0.6M237.1,610.7h0.6M225.0,633.2h0.6M229.5,623.4h0.6M229.4,616.0h0.6M238.8,607.4h0.6M245.4,619.3h0.6M231.0,612.0h0.6M230.0,617.8h0.6M238.9,609.2h0.6M225.9,623.6h0.6M233.7,609.2h0.6M235.3,613.5h0.6M249.4,602.7h0.6M225.1,626.6h0.6M229.4,615.3h0.6M233.2,611.9h0.6M257.0,610.3h0.6M221.2,621.9h0.6M237.9,613.9h0.6M236.8,621.5h0.6M232.6,616.1h0.6M224.6,628.6h0.6M223.4,635.6h0.6M227.6,619.3h0.6M241.0,626.1h0.6M253.1,599.5h0.6M233.9,613.8h0.6M238.2,620.5h0.6M227.9,613.5h0.6M247.6,602.1h0.6M245.9,602.1h0.6M233.3,601.4h0.6M250.1,590.6h0.6M233.1,615.5h0.6M226.6,612.9h0.6M246.4,606.8h0.6M233.9,605.1h0.6M248.2,598.0h0.6M223.7,627.9h0.6M235.3,632.1h0.6M226.6,627.1h0.6M246.2,594.0h0.6M248.7,590.1h0.6M236.9,601.4h0.6M254.6,611.2h0.6M237.7,613.0h0.6M244.3,603.8h0.6M229.2,641.4h0.6M238.5,611.0h0.6M233.4,617.8h0.6M245.6,610.3h0.6M235.4,611.6h0.6M227.3,633.3h0.6M241.3,621.4h0.6M226.2,623.4h0.6M238.4,598.9h0.6M237.0,618.4h0.6M254.6,603.5h0.6M233.2,620.3h0.6M237.6,620.2h0.6M243.4,617.5h0.6M249.0,603.7h0.6M239.3,613.5h0.6M241.3,605.1h0.6M246.4,612.3h0.6M229.6,626.0h0.6M247.6,586.2h0.6M225.3,639.0h0.6M250.4,594.1h0.6M225.0,643.2h0.6M229.5,610.6h0.6" stroke="#666" stroke-width="0.6" fill="none" opacity="0.8"/>
<path d="M214.30,566.50H252.40" stroke="#444" stroke-width="0.9" fill="none"/>
<path d="M214.30,566.40V625.90H226.10V566.40M252.40,566.40V616.20L226.10,626.20" stroke="#4a4a4a" stroke-width="0.65" fill="none"/>
<text x="219.00" y="595.80" font-size="5.4" text-anchor="middle" fill="#000" textLength="13.2" lengthAdjust="spacingAndGlyphs" stroke="#000" stroke-width="0.3" >27,32</text>
<text x="237.70" y="595.80" font-size="5.4" text-anchor="middle" fill="#000" textLength="9.6" lengthAdjust="spacingAndGlyphs" stroke="#000" stroke-width="0.3" >1,88</text>
<text x="242.40" y="663.80" font-size="7.4" text-anchor="middle" fill="#111" textLength="45.4" lengthAdjust="spacingAndGlyphs" stroke="#111" stroke-width="0.3" >DNA content</text>
<text x="246.50" y="551.00" font-size="7.5" text-anchor="middle" fill="#111" textLength="27.0" lengthAdjust="spacingAndGlyphs" stroke="#111" stroke-width="0.3" >CCX771</text>
<text x="246.50" y="561.10" font-size="7.5" text-anchor="middle" fill="#111" textLength="34.7" lengthAdjust="spacingAndGlyphs" stroke="#111" stroke-width="0.3" >+ CXCL12</text>
<path d="M347.30,199.10L347.30,314.60" stroke="#2a2a2a" stroke-width="0.8" fill="none"/>
<path d="M343.90,199.50L347.30,199.50" stroke="#2a2a2a" stroke-width="0.8" fill="none"/>
<text x="340.90" y="201.75" font-size="6.3" text-anchor="end" fill="#111" stroke="#111" stroke-width="0.3" >2.5</text>
<path d="M343.90,222.50L347.30,222.50" stroke="#2a2a2a" stroke-width="0.8" fill="none"/>
<text x="340.90" y="224.75" font-size="6.3" text-anchor="end" fill="#111" stroke="#111" stroke-width="0.3" >2</text>
<path d="M343.90,245.50L347.30,245.50" stroke="#2a2a2a" stroke-width="0.8" fill="none"/>
<text x="340.90" y="247.75" font-size="6.3" text-anchor="end" fill="#111" stroke="#111" stroke-width="0.3" >1.5</text>
<path d="M343.90,268.50L347.30,268.50" stroke="#2a2a2a" stroke-width="0.8" fill="none"/>
<text x="340.90" y="270.75" font-size="6.3" text-anchor="end" fill="#111" stroke="#111" stroke-width="0.3" >1</text>
<path d="M343.90,291.40L347.30,291.40" stroke="#2a2a2a" stroke-width="0.8" fill="none"/>
<text x="340.90" y="293.65" font-size="6.3" text-anchor="end" fill="#111" stroke="#111" stroke-width="0.3" >0.5</text>
<path d="M343.90,314.20L347.30,314.20" stroke="#2a2a2a" stroke-width="0.8" fill="none"/>
<text x="340.90" y="316.45" font-size="6.3" text-anchor="end" fill="#111" stroke="#111" stroke-width="0.3" >0</text>
<rect x="354.40" y="239.70" width="14.80" height="28.80" fill="#fff" stroke="#2a2a2a" stroke-width="0.8"/>
<path d="M361.80,224.40V254.50M359.80,224.40H363.80M359.80,254.50H363.80" stroke="#333" stroke-width="0.8" fill="none"/>
<rect x="369.20" y="246.20" width="14.40" height="22.30" fill="#555" stroke="#2a2a2a" stroke-width="0.8"/>
<path d="M376.40,236.70V256.20M374.40,236.70H378.40M374.40,256.20H378.40" stroke="#333" stroke-width="0.8" fill="none"/>
<rect x="398.30" y="268.50" width="14.70" height="7.00" fill="#fff" stroke="#2a2a2a" stroke-width="0.8"/>
<path d="M405.65,269.70V281.20M403.65,269.70H407.65M403.65,281.20H407.65" stroke="#333" stroke-width="0.8" fill="none"/>
<rect x="413.00" y="268.50" width="15.00" height="7.00" fill="#555" stroke="#2a2a2a" stroke-width="0.8"/>
<path d="M420.50,272.00V278.80M418.50,272.00H422.50M418.50,278.80H422.50" stroke="#333" stroke-width="0.8" fill="none"/>
<rect x="442.00" y="268.50" width="15.00" height="9.50" fill="#fff" stroke="#2a2a2a" stroke-width="0.8"/>
<path d="M449.50,268.80V287.00M447.50,268.80H451.50M447.50,287.00H451.50" stroke="#333" stroke-width="0.8" fill="none"/>
<rect x="457.00" y="268.50" width="14.75" height="11.00" fill="#555" stroke="#2a2a2a" stroke-width="0.8"/>
<path d="M464.38,265.00V293.75M462.38,265.00H466.38M462.38,293.75H466.38" stroke="#333" stroke-width="0.8" fill="none"/>
<path d="M347.30,268.50L480.00,268.50" stroke="#2a2a2a" stroke-width="0.8" fill="none"/>
<text x="361.40" y="222.80" font-size="7" text-anchor="middle" fill="#111" stroke="#111" stroke-width="0.3" >*</text>
<text x="376.40" y="235.50" font-size="7" text-anchor="middle" fill="#111" stroke="#111" stroke-width="0.3" >*</text>
<path d="M360.50,194.70V200.30M360.50,197.50H451.50M451.50,194.70V200.30" stroke="#505050" stroke-width="0.9" fill="none"/>
<text x="409.00" y="193.90" font-size="7.2" text-anchor="middle" fill="#222" font-family="Liberation Serif, serif" font-weight="bold" letter-spacing="0.6">ΔΔ</text>
<path d="M360.50,210.70V216.30M360.50,213.50H405.50M405.50,210.70V216.30" stroke="#505050" stroke-width="0.9" fill="none"/>
<text x="384.00" y="210.40" font-size="7.2" text-anchor="middle" fill="#222" font-family="Liberation Serif, serif" font-weight="bold" letter-spacing="0.6">Δ</text>
<text x="329.00" y="255.00" font-size="7.6" text-anchor="middle" fill="#111" textLength="118.3" lengthAdjust="spacingAndGlyphs" transform="rotate(-90 329.00 255.00)" stroke="#111" stroke-width="0.3" >Fold change vs. Isotype control</text>
<rect x="476.5" y="204.6" width="15.399999999999977" height="7.900000000000006" fill="#fff" stroke="#555" stroke-width="0.9"/>
<rect x="476.5" y="220.2" width="15.399999999999977" height="8.0" fill="#555" stroke="#2a2a2a" stroke-width="0.9"/>
<text x="494.8" y="211.30" font-size="7" fill="#111" stroke="#111" stroke-width="0.3">G<tspan font-size="4.6" dy="1.4">0</tspan><tspan dy="-1.4">+G</tspan><tspan font-size="4.6" dy="1.4">1</tspan></text>
<text x="494.8" y="226.70" font-size="7" fill="#111" stroke="#111" stroke-width="0.3">S+G<tspan font-size="4.6" dy="1.4">2</tspan><tspan dy="-1.4">M</tspan></text>
<text x="353.00" y="331.50" font-size="7.5" text-anchor="end" fill="#111" textLength="28.8" lengthAdjust="spacingAndGlyphs" stroke="#111" stroke-width="0.3" >CXCL12</text>
<text x="353.00" y="340.00" font-size="7.5" text-anchor="end" fill="#111" textLength="43.1" lengthAdjust="spacingAndGlyphs" stroke="#111" stroke-width="0.3" >Anti-CXCR7</text>
<text x="353.00" y="348.30" font-size="7.5" text-anchor="end" fill="#111" textLength="43.1" lengthAdjust="spacingAndGlyphs" stroke="#111" stroke-width="0.3" >Anti-CXCR4</text>
<text x="374.50" y="331.10" font-size="6.5" text-anchor="middle" fill="#111" stroke="#111" stroke-width="0.3" >+</text>
<text x="410.70" y="331.10" font-size="6.5" text-anchor="middle" fill="#111" stroke="#111" stroke-width="0.3" >+</text>
<text x="457.10" y="331.10" font-size="6.5" text-anchor="middle" fill="#111" stroke="#111" stroke-width="0.3" >+</text>
<text x="410.70" y="339.60" font-size="6.5" text-anchor="middle" fill="#111" stroke="#111" stroke-width="0.3" >+</text>
<text x="457.10" y="347.90" font-size="6.5" text-anchor="middle" fill="#111" stroke="#111" stroke-width="0.3" >+</text>
<path d="M347.50,470.20L347.50,589.30" stroke="#2a2a2a" stroke-width="0.8" fill="none"/>
<path d="M344.10,470.60L347.50,470.60" stroke="#2a2a2a" stroke-width="0.8" fill="none"/>
<text x="341.10" y="472.85" font-size="6.3" text-anchor="end" fill="#111" stroke="#111" stroke-width="0.3" >2.5</text>
<path d="M344.10,494.20L347.50,494.20" stroke="#2a2a2a" stroke-width="0.8" fill="none"/>
<text x="341.10" y="496.45" font-size="6.3" text-anchor="end" fill="#111" stroke="#111" stroke-width="0.3" >2</text>
<path d="M344.10,517.90L347.50,517.90" stroke="#2a2a2a" stroke-width="0.8" fill="none"/>
<text x="341.10" y="520.15" font-size="6.3" text-anchor="end" fill="#111" stroke="#111" stroke-width="0.3" >1.5</text>
<path d="M344.10,541.50L347.50,541.50" stroke="#2a2a2a" stroke-width="0.8" fill="none"/>
<text x="341.10" y="543.75" font-size="6.3" text-anchor="end" fill="#111" stroke="#111" stroke-width="0.3" >1</text>
<path d="M344.10,565.20L347.50,565.20" stroke="#2a2a2a" stroke-width="0.8" fill="none"/>
<text x="341.10" y="567.45" font-size="6.3" text-anchor="end" fill="#111" stroke="#111" stroke-width="0.3" >0.5</text>
<path d="M344.10,588.90L347.50,588.90" stroke="#2a2a2a" stroke-width="0.8" fill="none"/>
<text x="341.10" y="591.15" font-size="6.3" text-anchor="end" fill="#111" stroke="#111" stroke-width="0.3" >0</text>
<rect x="354.00" y="513.50" width="14.60" height="28.00" fill="#fff" stroke="#2a2a2a" stroke-width="0.8"/>
<path d="M361.30,497.00V530.40M359.30,497.00H363.30M359.30,530.40H363.30" stroke="#333" stroke-width="0.8" fill="none"/>
<rect x="368.60" y="523.60" width="14.40" height="17.90" fill="#555" stroke="#2a2a2a" stroke-width="0.8"/>
<path d="M375.80,515.60V531.40M373.80,515.60H377.80M373.80,531.40H377.80" stroke="#333" stroke-width="0.8" fill="none"/>
<rect x="396.30" y="538.10" width="13.70" height="3.40" fill="#fff" stroke="#2a2a2a" stroke-width="0.8"/>
<path d="M403.15,525.50V551.00M401.15,525.50H405.15M401.15,551.00H405.15" stroke="#333" stroke-width="0.8" fill="none"/>
<rect x="410.00" y="541.50" width="13.75" height="14.75" fill="#555" stroke="#2a2a2a" stroke-width="0.8"/>
<path d="M416.88,552.50V560.00M414.88,552.50H418.88M414.88,560.00H418.88" stroke="#333" stroke-width="0.8" fill="none"/>
<rect x="437.50" y="541.50" width="13.75" height="3.00" fill="#fff" stroke="#2a2a2a" stroke-width="0.8"/>
<path d="M444.38,527.50V562.00M442.38,527.50H446.38M442.38,562.00H446.38" stroke="#333" stroke-width="0.8" fill="none"/>
<rect x="451.25" y="541.50" width="14.25" height="5.50" fill="#555" stroke="#2a2a2a" stroke-width="0.8"/>
<path d="M458.38,546.20V547.80M456.38,546.20H460.38M456.38,547.80H460.38" stroke="#333" stroke-width="0.8" fill="none"/>
<path d="M347.50,541.50L472.50,541.50" stroke="#2a2a2a" stroke-width="0.8" fill="none"/>
<text x="361.40" y="495.50" font-size="7" text-anchor="middle" fill="#111" stroke="#111" stroke-width="0.3" >*</text>
<path d="M362.50,464.70V470.30M362.50,467.50H445.50M445.50,464.70V470.30" stroke="#505050" stroke-width="0.9" fill="none"/>
<text x="403.50" y="464.40" font-size="7.2" text-anchor="middle" fill="#222" font-family="Liberation Serif, serif" font-weight="bold" letter-spacing="0.6">Δ</text>
<path d="M362.50,482.70V488.30M362.50,485.50H402.50M402.50,482.70V488.30" stroke="#505050" stroke-width="0.9" fill="none"/>
<text x="384.00" y="482.00" font-size="7.2" text-anchor="middle" fill="#222" font-family="Liberation Serif, serif" font-weight="bold" letter-spacing="0.6">Δ</text>
<text x="329.00" y="530.90" font-size="7.6" text-anchor="middle" fill="#111" textLength="118.1" lengthAdjust="spacingAndGlyphs" transform="rotate(-90 329.00 530.90)" stroke="#111" stroke-width="0.3" >Fold change vs. CCX704 control</text>
<rect x="464.0" y="477.8" width="15.0" height="7.399999999999977" fill="#fff" stroke="#555" stroke-width="0.9"/>
<rect x="464.0" y="493.7" width="15.0" height="7.5" fill="#555" stroke="#2a2a2a" stroke-width="0.9"/>
<text x="482.1" y="484.10" font-size="7" fill="#111" stroke="#111" stroke-width="0.3">G<tspan font-size="4.6" dy="1.4">0</tspan><tspan dy="-1.4">+G</tspan><tspan font-size="4.6" dy="1.4">1</tspan></text>
<text x="482.1" y="499.80" font-size="7" fill="#111" stroke="#111" stroke-width="0.3">S+G<tspan font-size="4.6" dy="1.4">2</tspan><tspan dy="-1.4">M</tspan></text>
<text x="349.30" y="603.50" font-size="7.5" text-anchor="end" fill="#111" textLength="29.2" lengthAdjust="spacingAndGlyphs" stroke="#111" stroke-width="0.3" >CXCL12</text>
<text x="349.00" y="612.60" font-size="7.5" text-anchor="end" fill="#111" textLength="28.2" lengthAdjust="spacingAndGlyphs" stroke="#111" stroke-width="0.3" >CCX771</text>
<text x="349.30" y="621.20" font-size="7.5" text-anchor="end" fill="#111" textLength="28.5" lengthAdjust="spacingAndGlyphs" stroke="#111" stroke-width="0.3" >CCX733</text>
<text x="368.80" y="603.40" font-size="6.5" text-anchor="middle" fill="#111" stroke="#111" stroke-width="0.3" >+</text>
<text x="409.70" y="603.40" font-size="6.5" text-anchor="middle" fill="#111" stroke="#111" stroke-width="0.3" >+</text>
<text x="454.80" y="603.40" font-size="6.5" text-anchor="middle" fill="#111" stroke="#111" stroke-width="0.3" >+</text>
<text x="409.70" y="612.20" font-size="6.5" text-anchor="middle" fill="#111" stroke="#111" stroke-width="0.3" >+</text>
<text x="453.80" y="620.80" font-size="6.5" text-anchor="middle" fill="#111" stroke="#111" stroke-width="0.3" >+</text>
</svg>
</body></html>
